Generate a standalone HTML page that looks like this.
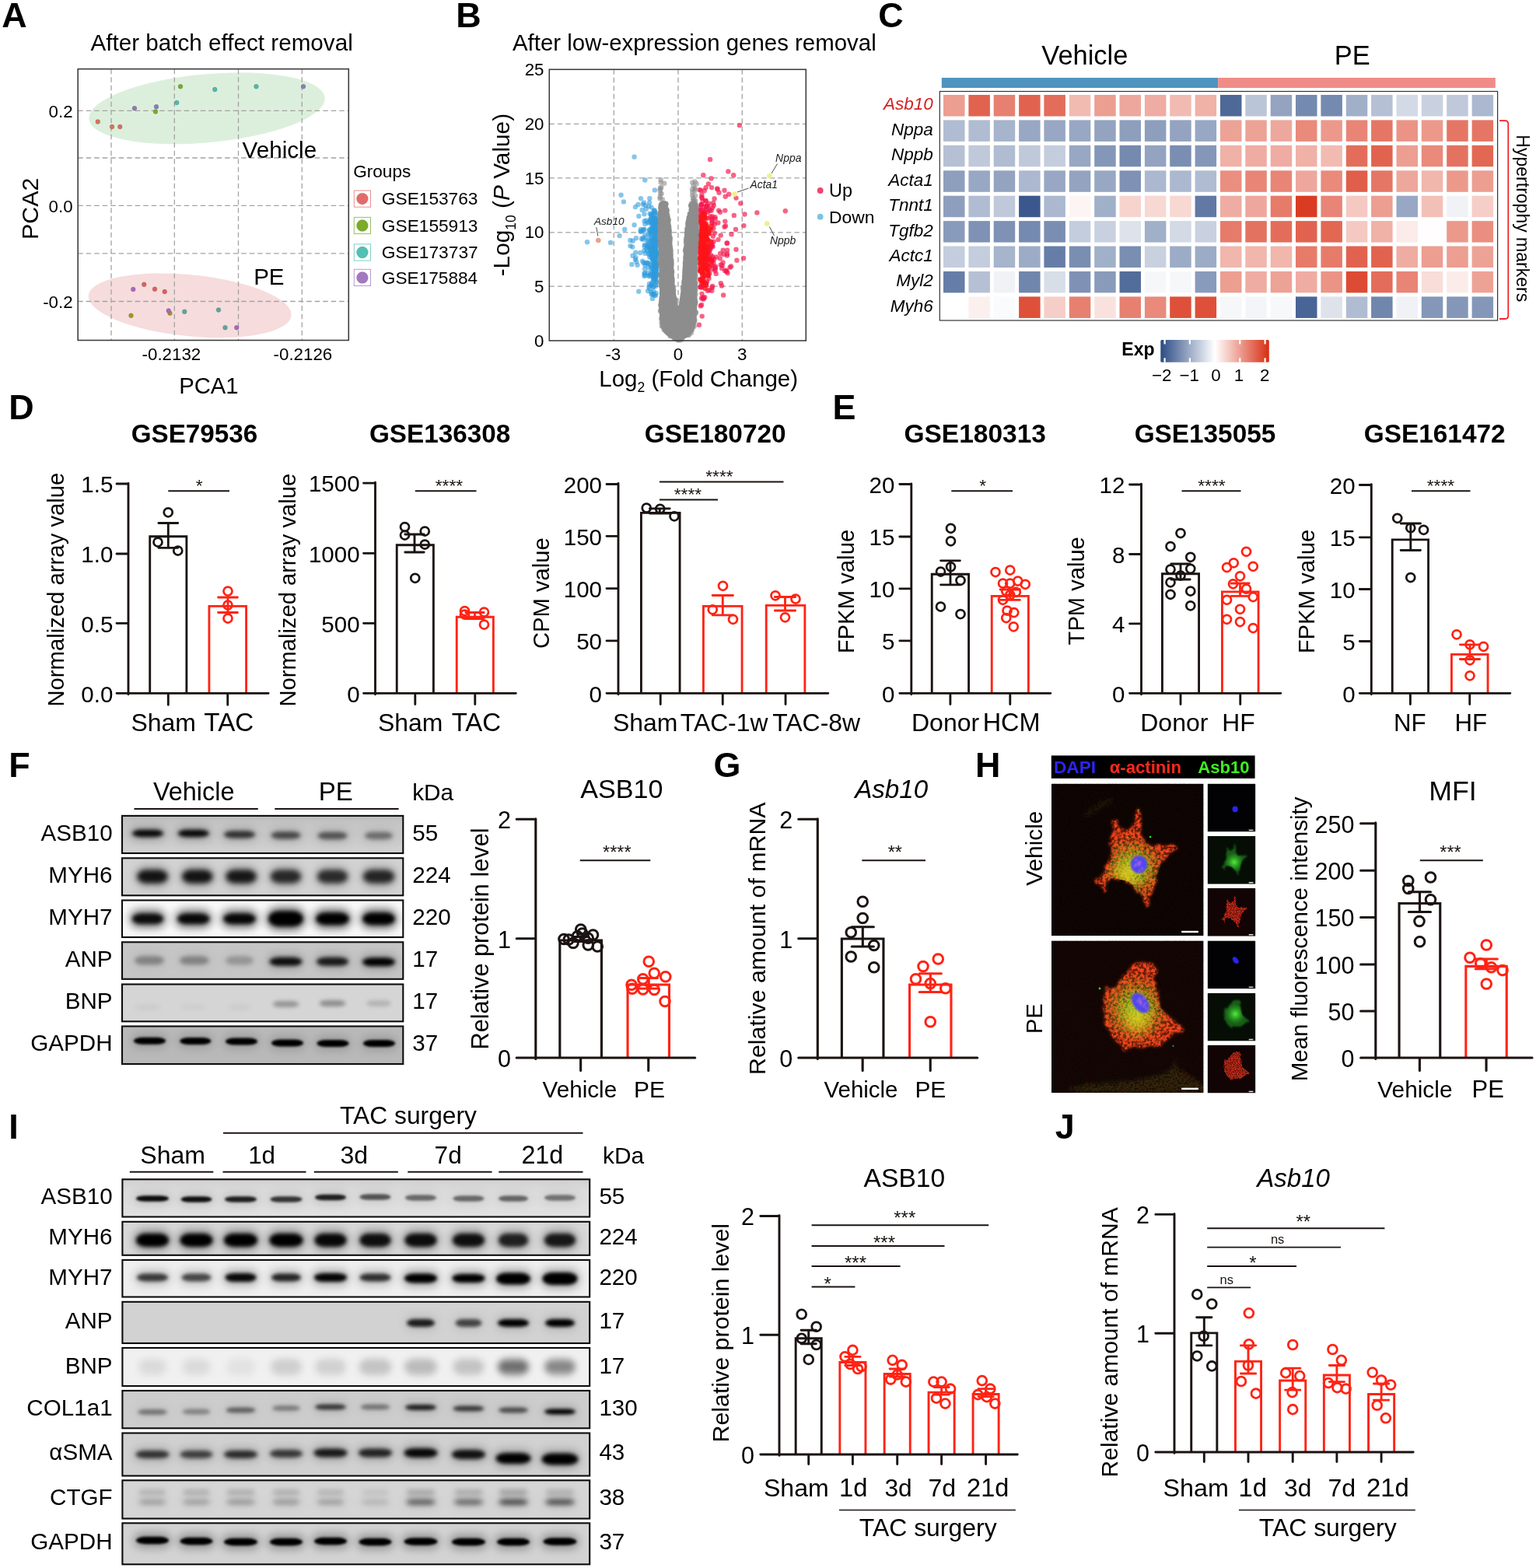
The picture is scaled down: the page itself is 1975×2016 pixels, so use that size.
<!DOCTYPE html>
<html lang="en"><head><meta charset="utf-8"><title>Figure 1 - ASB10 expression in cardiac hypertrophy</title>
<style>html,body{margin:0;padding:0;background:#fff}body{width:1975px;height:2016px;overflow:hidden}svg{display:block}text{font-family:'Liberation Sans', Arial, Helvetica, sans-serif}</style></head><body>
<svg width="1975" height="2016" viewBox="0 0 1975 2016" fill="#000" role="img" aria-label="Figure 1">
<rect width="1975" height="2016" fill="#fff"/>
<g>
<ellipse cx="266" cy="139.3" rx="152.3" ry="44" fill="#dcefdc" transform="rotate(-5.2 266 139.3)"/>
<ellipse cx="244.2" cy="392.8" rx="131" ry="39.5" fill="#f6dcdc" transform="rotate(5.7 244.2 392.8)"/>
<path d="M143 88.7V437.5M224.3 88.7V437.5M306.5 88.7V437.5M388.3 88.7V437.5M100.2 142.3H448.3M100.2 203H448.3M100.2 264.3H448.3M100.2 325.8H448.3M100.2 387.5H448.3" stroke="#a3a3a3" stroke-width="1.3" stroke-dasharray="6.5 4" fill="none"/>
<circle cx="125.75" cy="156.5" r="2.9" fill="#d4735e" stroke="rgba(60,60,60,.35)" stroke-width="0.5"/>
<circle cx="144" cy="163" r="2.9" fill="#d4735e" stroke="rgba(60,60,60,.35)" stroke-width="0.5"/>
<circle cx="154.25" cy="163" r="2.9" fill="#d4735e" stroke="rgba(60,60,60,.35)" stroke-width="0.5"/>
<circle cx="173" cy="139.25" r="2.9" fill="#8c7db3" stroke="rgba(60,60,60,.35)" stroke-width="0.5"/>
<circle cx="201" cy="137.25" r="2.9" fill="#8c7db3" stroke="rgba(60,60,60,.35)" stroke-width="0.5"/>
<circle cx="200" cy="143.5" r="2.9" fill="#76ac2f" stroke="rgba(60,60,60,.35)" stroke-width="0.5"/>
<circle cx="227.25" cy="132" r="2.9" fill="#4cbcae" stroke="rgba(60,60,60,.35)" stroke-width="0.5"/>
<circle cx="232" cy="111.25" r="2.9" fill="#76ac2f" stroke="rgba(60,60,60,.35)" stroke-width="0.5"/>
<circle cx="276.25" cy="115" r="2.9" fill="#4cbcae" stroke="rgba(60,60,60,.35)" stroke-width="0.5"/>
<circle cx="329.5" cy="111.25" r="2.9" fill="#4cbcae" stroke="rgba(60,60,60,.35)" stroke-width="0.5"/>
<circle cx="390" cy="111.25" r="2.9" fill="#8c7db3" stroke="rgba(60,60,60,.35)" stroke-width="0.5"/>
<circle cx="171.25" cy="372" r="2.9" fill="#a868bb" stroke="rgba(60,60,60,.35)" stroke-width="0.5"/>
<circle cx="185.25" cy="365.75" r="2.9" fill="#e25c5c" stroke="rgba(60,60,60,.35)" stroke-width="0.5"/>
<circle cx="199" cy="371.75" r="2.9" fill="#e25c5c" stroke="rgba(60,60,60,.35)" stroke-width="0.5"/>
<circle cx="211.75" cy="375" r="2.9" fill="#e25c5c" stroke="rgba(60,60,60,.35)" stroke-width="0.5"/>
<circle cx="168.5" cy="405.75" r="2.9" fill="#9a9a2a" stroke="rgba(60,60,60,.35)" stroke-width="0.5"/>
<circle cx="218.5" cy="402.75" r="2.9" fill="#9a9a2a" stroke="rgba(60,60,60,.35)" stroke-width="0.5"/>
<circle cx="216.75" cy="399.5" r="2.9" fill="#a868bb" stroke="rgba(60,60,60,.35)" stroke-width="0.5"/>
<circle cx="237.25" cy="400.75" r="2.9" fill="#5fa59c" stroke="rgba(60,60,60,.35)" stroke-width="0.5"/>
<circle cx="281" cy="398.5" r="2.9" fill="#5fa59c" stroke="rgba(60,60,60,.35)" stroke-width="0.5"/>
<circle cx="289.5" cy="421.25" r="2.9" fill="#5fa59c" stroke="rgba(60,60,60,.35)" stroke-width="0.5"/>
<circle cx="304.25" cy="421.25" r="2.9" fill="#a868bb" stroke="rgba(60,60,60,.35)" stroke-width="0.5"/>
<rect x="100.2" y="88.7" width="348.1" height="348.8" fill="none" stroke="#3a3a3a" stroke-width="1.55"/>
</g>
<text x="116.4" y="65.4" font-size="29.66">After batch effect removal</text>
<text x="311.5" y="203" font-size="29.68">Vehicle</text>
<text x="326.14" y="365.5" font-size="29.54">PE</text>
<text x="230.16" y="506.3" font-size="29.28">PCA1</text>
<text font-size="30.37" transform="translate(48.7 307.93) rotate(-90)">PCA2</text>
<text x="93.6" y="150.9" font-size="22.3" text-anchor="end">0.2</text>
<text x="93.6" y="272.9" font-size="22.3" text-anchor="end">0.0</text>
<text x="93.6" y="396.1" font-size="22.3" text-anchor="end">-0.2</text>
<text x="220.4" y="462.6" font-size="22.3" text-anchor="middle">-0.2132</text>
<text x="389.4" y="462.6" font-size="22.3" text-anchor="middle">-0.2126</text>
<text x="454.17" y="228.2" font-size="22.6">Groups</text>
<rect x="455.3" y="245" width="21.2" height="21.2" fill="#fff" stroke="#e46a6a" stroke-width="1" stroke-opacity=".75"/>
<circle cx="465.9" cy="255.6" r="7.4" fill="#e46a6a" stroke="rgba(60,60,60,.3)" stroke-width="0.5"/>
<text x="490.87" y="263.3" font-size="22.7">GSE153763</text>
<rect x="455.3" y="279.4" width="21.2" height="21.2" fill="#fff" stroke="#7bab2a" stroke-width="1" stroke-opacity=".75"/>
<circle cx="465.9" cy="290" r="7.4" fill="#7bab2a" stroke="rgba(60,60,60,.3)" stroke-width="0.5"/>
<text x="490.87" y="297.7" font-size="22.7">GSE155913</text>
<rect x="455.3" y="313.9" width="21.2" height="21.2" fill="#fff" stroke="#52c1b5" stroke-width="1" stroke-opacity=".75"/>
<circle cx="465.9" cy="324.5" r="7.4" fill="#52c1b5" stroke="rgba(60,60,60,.3)" stroke-width="0.5"/>
<text x="490.86" y="332.2" font-size="22.72">GSE173737</text>
<rect x="455.3" y="346.3" width="21.2" height="21.2" fill="#fff" stroke="#a378c0" stroke-width="1" stroke-opacity=".75"/>
<circle cx="465.9" cy="356.9" r="7.4" fill="#a378c0" stroke="rgba(60,60,60,.3)" stroke-width="0.5"/>
<text x="490.87" y="364.6" font-size="22.63">GSE175884</text>
<g>
<path d="M789.3 89.3V438M872 89.3V438M954.3 89.3V438M706.3 159.3H1036.3M706.3 228.8H1036.3M706.3 298.8H1036.3M706.3 368.2H1036.3" stroke="#a3a3a3" stroke-width="1.3" stroke-dasharray="6.5 4" fill="none"/>
<g fill="#2f9bdc" fill-opacity=".58">
<circle cx="840.7" cy="352.9" r="3.2"/>
<circle cx="835.0" cy="364.9" r="3.2"/>
<circle cx="837.5" cy="331.1" r="3.2"/>
<circle cx="843.5" cy="320.3" r="3.2"/>
<circle cx="843.7" cy="325.7" r="3.2"/>
<circle cx="843.4" cy="361.7" r="3.2"/>
<circle cx="839.3" cy="292.7" r="3.2"/>
<circle cx="842.9" cy="344.4" r="3.2"/>
<circle cx="835.6" cy="274.6" r="3.2"/>
<circle cx="836.7" cy="328.6" r="3.2"/>
<circle cx="827.3" cy="337.8" r="3.2"/>
<circle cx="842.7" cy="357.4" r="3.2"/>
<circle cx="840.9" cy="293.9" r="3.2"/>
<circle cx="842.3" cy="315.0" r="3.2"/>
<circle cx="835.3" cy="330.6" r="3.2"/>
<circle cx="837.3" cy="366.8" r="3.2"/>
<circle cx="843.5" cy="346.3" r="3.2"/>
<circle cx="834.3" cy="326.2" r="3.2"/>
<circle cx="840.8" cy="314.7" r="3.2"/>
<circle cx="838.9" cy="336.9" r="3.2"/>
<circle cx="830.5" cy="305.5" r="3.2"/>
<circle cx="841.7" cy="315.5" r="3.2"/>
<circle cx="837.7" cy="286.6" r="3.2"/>
<circle cx="832.9" cy="338.0" r="3.2"/>
<circle cx="839.4" cy="300.1" r="3.2"/>
<circle cx="842.6" cy="321.6" r="3.2"/>
<circle cx="843.7" cy="308.1" r="3.2"/>
<circle cx="831.7" cy="315.6" r="3.2"/>
<circle cx="826.2" cy="335.6" r="3.2"/>
<circle cx="833.9" cy="314.0" r="3.2"/>
<circle cx="836.6" cy="324.0" r="3.2"/>
<circle cx="828.4" cy="275.2" r="3.2"/>
<circle cx="838.5" cy="308.5" r="3.2"/>
<circle cx="843.5" cy="305.3" r="3.2"/>
<circle cx="835.1" cy="260.5" r="3.2"/>
<circle cx="829.3" cy="338.3" r="3.2"/>
<circle cx="839.9" cy="308.1" r="3.2"/>
<circle cx="843.9" cy="323.6" r="3.2"/>
<circle cx="842.5" cy="357.5" r="3.2"/>
<circle cx="843.5" cy="299.0" r="3.2"/>
<circle cx="842.9" cy="341.9" r="3.2"/>
<circle cx="839.8" cy="287.1" r="3.2"/>
<circle cx="843.3" cy="324.5" r="3.2"/>
<circle cx="837.2" cy="285.5" r="3.2"/>
<circle cx="829.4" cy="288.1" r="3.2"/>
<circle cx="841.3" cy="327.1" r="3.2"/>
<circle cx="840.2" cy="285.4" r="3.2"/>
<circle cx="842.4" cy="343.5" r="3.2"/>
<circle cx="841.8" cy="321.9" r="3.2"/>
<circle cx="836.4" cy="340.4" r="3.2"/>
<circle cx="844.0" cy="326.9" r="3.2"/>
<circle cx="840.1" cy="316.1" r="3.2"/>
<circle cx="817.9" cy="306.2" r="3.2"/>
<circle cx="837.8" cy="312.2" r="3.2"/>
<circle cx="834.4" cy="368.6" r="3.2"/>
<circle cx="824.4" cy="297.8" r="3.2"/>
<circle cx="826.3" cy="295.9" r="3.2"/>
<circle cx="839.8" cy="328.4" r="3.2"/>
<circle cx="843.1" cy="310.9" r="3.2"/>
<circle cx="843.5" cy="365.9" r="3.2"/>
<circle cx="842.0" cy="351.4" r="3.2"/>
<circle cx="840.5" cy="368.9" r="3.2"/>
<circle cx="844.1" cy="352.8" r="3.2"/>
<circle cx="843.1" cy="331.3" r="3.2"/>
<circle cx="843.8" cy="286.7" r="3.2"/>
<circle cx="835.9" cy="353.2" r="3.2"/>
<circle cx="841.6" cy="332.7" r="3.2"/>
<circle cx="840.2" cy="356.7" r="3.2"/>
<circle cx="827.9" cy="260.5" r="3.2"/>
<circle cx="838.7" cy="322.0" r="3.2"/>
<circle cx="843.3" cy="359.8" r="3.2"/>
<circle cx="840.5" cy="340.2" r="3.2"/>
<circle cx="828.9" cy="351.5" r="3.2"/>
<circle cx="843.9" cy="273.9" r="3.2"/>
<circle cx="837.6" cy="353.4" r="3.2"/>
<circle cx="837.3" cy="375.4" r="3.2"/>
<circle cx="837.6" cy="266.6" r="3.2"/>
<circle cx="827.0" cy="305.7" r="3.2"/>
<circle cx="841.5" cy="331.0" r="3.2"/>
<circle cx="842.5" cy="298.6" r="3.2"/>
<circle cx="837.5" cy="297.9" r="3.2"/>
<circle cx="840.6" cy="344.5" r="3.2"/>
<circle cx="829.8" cy="264.3" r="3.2"/>
<circle cx="827.7" cy="295.0" r="3.2"/>
<circle cx="829.4" cy="301.8" r="3.2"/>
<circle cx="841.9" cy="319.6" r="3.2"/>
<circle cx="840.3" cy="374.8" r="3.2"/>
<circle cx="843.8" cy="338.8" r="3.2"/>
<circle cx="841.5" cy="306.1" r="3.2"/>
<circle cx="817.2" cy="324.7" r="3.2"/>
<circle cx="820.4" cy="263.0" r="3.2"/>
<circle cx="817.5" cy="331.2" r="3.2"/>
<circle cx="841.9" cy="344.1" r="3.2"/>
<circle cx="842.2" cy="346.5" r="3.2"/>
<circle cx="835.7" cy="283.0" r="3.2"/>
<circle cx="828.3" cy="322.3" r="3.2"/>
<circle cx="835.0" cy="295.7" r="3.2"/>
<circle cx="843.3" cy="308.8" r="3.2"/>
<circle cx="823.5" cy="297.6" r="3.2"/>
<circle cx="832.2" cy="322.4" r="3.2"/>
<circle cx="842.4" cy="296.8" r="3.2"/>
<circle cx="840.6" cy="295.6" r="3.2"/>
<circle cx="813.5" cy="328.7" r="3.2"/>
<circle cx="839.7" cy="274.8" r="3.2"/>
<circle cx="833.0" cy="350.5" r="3.2"/>
<circle cx="842.9" cy="352.9" r="3.2"/>
<circle cx="823.9" cy="295.0" r="3.2"/>
<circle cx="842.7" cy="292.7" r="3.2"/>
<circle cx="810.4" cy="309.0" r="3.2"/>
<circle cx="840.4" cy="317.4" r="3.2"/>
<circle cx="842.8" cy="380.0" r="3.2"/>
<circle cx="813.8" cy="309.7" r="3.2"/>
<circle cx="837.6" cy="277.4" r="3.2"/>
<circle cx="839.2" cy="287.1" r="3.2"/>
<circle cx="829.1" cy="345.8" r="3.2"/>
<circle cx="841.6" cy="337.5" r="3.2"/>
<circle cx="841.7" cy="314.6" r="3.2"/>
<circle cx="841.5" cy="326.8" r="3.2"/>
<circle cx="842.8" cy="281.5" r="3.2"/>
<circle cx="840.3" cy="323.9" r="3.2"/>
<circle cx="836.6" cy="282.4" r="3.2"/>
<circle cx="839.4" cy="280.2" r="3.2"/>
<circle cx="838.1" cy="318.6" r="3.2"/>
<circle cx="837.7" cy="378.2" r="3.2"/>
<circle cx="839.1" cy="348.9" r="3.2"/>
<circle cx="844.0" cy="295.8" r="3.2"/>
<circle cx="842.4" cy="322.7" r="3.2"/>
<circle cx="833.0" cy="316.8" r="3.2"/>
<circle cx="840.7" cy="319.5" r="3.2"/>
<circle cx="837.1" cy="297.4" r="3.2"/>
<circle cx="843.1" cy="316.6" r="3.2"/>
<circle cx="841.6" cy="339.0" r="3.2"/>
<circle cx="831.4" cy="320.3" r="3.2"/>
<circle cx="837.0" cy="299.8" r="3.2"/>
<circle cx="823.2" cy="325.0" r="3.2"/>
<circle cx="835.9" cy="320.4" r="3.2"/>
<circle cx="837.9" cy="306.0" r="3.2"/>
<circle cx="838.9" cy="318.5" r="3.2"/>
<circle cx="838.5" cy="275.8" r="3.2"/>
<circle cx="833.8" cy="286.4" r="3.2"/>
<circle cx="819.6" cy="340.7" r="3.2"/>
<circle cx="837.0" cy="275.5" r="3.2"/>
<circle cx="828.4" cy="354.7" r="3.2"/>
<circle cx="842.9" cy="325.1" r="3.2"/>
<circle cx="843.4" cy="342.6" r="3.2"/>
<circle cx="843.4" cy="308.0" r="3.2"/>
<circle cx="830.9" cy="283.5" r="3.2"/>
<circle cx="842.6" cy="304.0" r="3.2"/>
<circle cx="834.8" cy="353.9" r="3.2"/>
<circle cx="825.7" cy="269.9" r="3.2"/>
<circle cx="841.9" cy="273.5" r="3.2"/>
<circle cx="839.7" cy="321.7" r="3.2"/>
<circle cx="828.8" cy="351.5" r="3.2"/>
<circle cx="839.2" cy="319.7" r="3.2"/>
<circle cx="840.5" cy="347.5" r="3.2"/>
<circle cx="840.8" cy="303.4" r="3.2"/>
<circle cx="843.9" cy="317.0" r="3.2"/>
<circle cx="839.1" cy="378.4" r="3.2"/>
<circle cx="840.6" cy="311.7" r="3.2"/>
<circle cx="837.9" cy="366.5" r="3.2"/>
<circle cx="830.8" cy="268.7" r="3.2"/>
<circle cx="843.1" cy="340.1" r="3.2"/>
<circle cx="843.7" cy="297.9" r="3.2"/>
<circle cx="841.4" cy="355.8" r="3.2"/>
<circle cx="839.4" cy="281.2" r="3.2"/>
<circle cx="829.4" cy="340.8" r="3.2"/>
<circle cx="842.7" cy="279.9" r="3.2"/>
<circle cx="836.8" cy="305.4" r="3.2"/>
<circle cx="843.2" cy="367.8" r="3.2"/>
<circle cx="834.1" cy="326.4" r="3.2"/>
<circle cx="843.4" cy="276.5" r="3.2"/>
<circle cx="835.4" cy="295.5" r="3.2"/>
<circle cx="843.3" cy="289.1" r="3.2"/>
<circle cx="843.5" cy="288.3" r="3.2"/>
<circle cx="838.9" cy="333.4" r="3.2"/>
<circle cx="837.2" cy="278.6" r="3.2"/>
<circle cx="841.4" cy="355.8" r="3.2"/>
<circle cx="837.6" cy="342.8" r="3.2"/>
<circle cx="843.1" cy="351.5" r="3.2"/>
<circle cx="843.6" cy="346.8" r="3.2"/>
<circle cx="840.9" cy="336.4" r="3.2"/>
<circle cx="831.9" cy="337.8" r="3.2"/>
<circle cx="838.1" cy="349.5" r="3.2"/>
<circle cx="840.4" cy="378.4" r="3.2"/>
<circle cx="841.6" cy="379.5" r="3.2"/>
<circle cx="832.7" cy="317.2" r="3.2"/>
<circle cx="842.3" cy="322.7" r="3.2"/>
<circle cx="829.4" cy="325.8" r="3.2"/>
<circle cx="838.2" cy="291.8" r="3.2"/>
<circle cx="839.8" cy="320.4" r="3.2"/>
<circle cx="834.1" cy="265.3" r="3.2"/>
<circle cx="840.5" cy="292.0" r="3.2"/>
<circle cx="833.5" cy="310.8" r="3.2"/>
<circle cx="839.6" cy="332.7" r="3.2"/>
<circle cx="843.6" cy="355.7" r="3.2"/>
<circle cx="843.4" cy="301.7" r="3.2"/>
<circle cx="841.5" cy="351.3" r="3.2"/>
<circle cx="843.3" cy="291.0" r="3.2"/>
<circle cx="826.5" cy="307.9" r="3.2"/>
<circle cx="841.2" cy="342.5" r="3.2"/>
<circle cx="841.1" cy="323.8" r="3.2"/>
<circle cx="842.6" cy="324.8" r="3.2"/>
<circle cx="841.4" cy="271.4" r="3.2"/>
<circle cx="813.2" cy="317.5" r="3.2"/>
<circle cx="841.7" cy="270.4" r="3.2"/>
<circle cx="840.9" cy="331.9" r="3.2"/>
<circle cx="844.0" cy="329.8" r="3.2"/>
<circle cx="838.5" cy="320.6" r="3.2"/>
<circle cx="842.1" cy="320.5" r="3.2"/>
<circle cx="844.0" cy="340.3" r="3.2"/>
<circle cx="843.2" cy="328.4" r="3.2"/>
<circle cx="843.7" cy="376.9" r="3.2"/>
<circle cx="840.9" cy="343.4" r="3.2"/>
<circle cx="836.5" cy="318.8" r="3.2"/>
<circle cx="832.2" cy="309.0" r="3.2"/>
<circle cx="833.3" cy="286.1" r="3.2"/>
<circle cx="839.8" cy="334.5" r="3.2"/>
<circle cx="842.7" cy="303.2" r="3.2"/>
<circle cx="835.2" cy="370.9" r="3.2"/>
<circle cx="828.6" cy="284.2" r="3.2"/>
<circle cx="835.6" cy="302.3" r="3.2"/>
<circle cx="829.7" cy="354.4" r="3.2"/>
<circle cx="837.7" cy="320.5" r="3.2"/>
<circle cx="828.6" cy="295.2" r="3.2"/>
<circle cx="829.1" cy="314.8" r="3.2"/>
<circle cx="824.9" cy="306.9" r="3.2"/>
<circle cx="833.9" cy="343.7" r="3.2"/>
<circle cx="843.8" cy="355.3" r="3.2"/>
<circle cx="840.2" cy="359.4" r="3.2"/>
<circle cx="828.6" cy="316.7" r="3.2"/>
<circle cx="840.3" cy="314.6" r="3.2"/>
<circle cx="840.2" cy="327.0" r="3.2"/>
<circle cx="836.8" cy="309.4" r="3.2"/>
<circle cx="844.4" cy="326.2" r="3.2"/>
<circle cx="838.3" cy="363.7" r="3.2"/>
<circle cx="843.2" cy="310.3" r="3.2"/>
<circle cx="844.6" cy="342.3" r="3.2"/>
<circle cx="842.9" cy="310.9" r="3.2"/>
<circle cx="842.6" cy="280.7" r="3.2"/>
<circle cx="837.7" cy="326.8" r="3.2"/>
<circle cx="840.9" cy="314.4" r="3.2"/>
<circle cx="841.2" cy="307.8" r="3.2"/>
<circle cx="839.9" cy="361.9" r="3.2"/>
<circle cx="840.4" cy="353.2" r="3.2"/>
<circle cx="844.4" cy="339.3" r="3.2"/>
<circle cx="837.4" cy="322.3" r="3.2"/>
<circle cx="843.1" cy="342.0" r="3.2"/>
<circle cx="844.5" cy="315.3" r="3.2"/>
<circle cx="842.3" cy="340.3" r="3.2"/>
<circle cx="838.5" cy="325.4" r="3.2"/>
<circle cx="839.8" cy="356.5" r="3.2"/>
<circle cx="843.5" cy="294.8" r="3.2"/>
<circle cx="840.8" cy="288.7" r="3.2"/>
<circle cx="833.1" cy="374.0" r="3.2"/>
<circle cx="836.8" cy="282.6" r="3.2"/>
<circle cx="842.5" cy="329.4" r="3.2"/>
<circle cx="844.2" cy="287.1" r="3.2"/>
<circle cx="841.6" cy="347.0" r="3.2"/>
<circle cx="842.5" cy="325.0" r="3.2"/>
<circle cx="843.4" cy="285.8" r="3.2"/>
<circle cx="839.1" cy="325.9" r="3.2"/>
<circle cx="838.6" cy="295.7" r="3.2"/>
<circle cx="843.7" cy="294.3" r="3.2"/>
<circle cx="841.6" cy="327.2" r="3.2"/>
<circle cx="844.2" cy="326.9" r="3.2"/>
<circle cx="844.5" cy="329.4" r="3.2"/>
<circle cx="843.8" cy="336.4" r="3.2"/>
<circle cx="842.3" cy="338.4" r="3.2"/>
<circle cx="844.5" cy="309.2" r="3.2"/>
<circle cx="844.4" cy="301.0" r="3.2"/>
<circle cx="837.3" cy="312.2" r="3.2"/>
<circle cx="837.7" cy="293.8" r="3.2"/>
<circle cx="843.6" cy="333.1" r="3.2"/>
<circle cx="840.5" cy="270.7" r="3.2"/>
<circle cx="841.1" cy="330.8" r="3.2"/>
<circle cx="842.4" cy="341.5" r="3.2"/>
<circle cx="842.7" cy="301.5" r="3.2"/>
<circle cx="844.0" cy="340.7" r="3.2"/>
<circle cx="841.5" cy="342.3" r="3.2"/>
<circle cx="843.3" cy="325.8" r="3.2"/>
<circle cx="843.0" cy="285.2" r="3.2"/>
<circle cx="840.7" cy="296.0" r="3.2"/>
<circle cx="842.3" cy="292.2" r="3.2"/>
<circle cx="838.9" cy="288.0" r="3.2"/>
<circle cx="837.9" cy="366.6" r="3.2"/>
<circle cx="842.5" cy="310.7" r="3.2"/>
<circle cx="837.6" cy="317.2" r="3.2"/>
<circle cx="842.4" cy="340.7" r="3.2"/>
<circle cx="835.0" cy="355.4" r="3.2"/>
<circle cx="841.6" cy="328.1" r="3.2"/>
<circle cx="842.6" cy="310.1" r="3.2"/>
<circle cx="841.5" cy="280.6" r="3.2"/>
<circle cx="844.2" cy="339.5" r="3.2"/>
<circle cx="838.2" cy="322.9" r="3.2"/>
<circle cx="842.5" cy="351.7" r="3.2"/>
<circle cx="843.0" cy="347.2" r="3.2"/>
<circle cx="840.3" cy="346.1" r="3.2"/>
<circle cx="841.7" cy="293.2" r="3.2"/>
<circle cx="839.8" cy="354.0" r="3.2"/>
<circle cx="844.5" cy="348.6" r="3.2"/>
<circle cx="841.2" cy="360.0" r="3.2"/>
<circle cx="842.4" cy="344.5" r="3.2"/>
<circle cx="844.3" cy="295.6" r="3.2"/>
<circle cx="838.9" cy="309.3" r="3.2"/>
<circle cx="840.7" cy="325.0" r="3.2"/>
<circle cx="842.2" cy="334.1" r="3.2"/>
<circle cx="843.8" cy="341.3" r="3.2"/>
<circle cx="843.3" cy="282.7" r="3.2"/>
<circle cx="841.0" cy="318.2" r="3.2"/>
<circle cx="840.9" cy="298.5" r="3.2"/>
<circle cx="843.9" cy="343.7" r="3.2"/>
<circle cx="841.2" cy="332.6" r="3.2"/>
<circle cx="834.3" cy="300.0" r="3.2"/>
<circle cx="841.0" cy="297.4" r="3.2"/>
<circle cx="843.5" cy="312.5" r="3.2"/>
<circle cx="844.4" cy="294.6" r="3.2"/>
<circle cx="838.9" cy="383.9" r="3.2"/>
<circle cx="843.6" cy="333.1" r="3.2"/>
<circle cx="837.3" cy="299.3" r="3.2"/>
<circle cx="841.0" cy="281.6" r="3.2"/>
<circle cx="844.6" cy="352.4" r="3.2"/>
<circle cx="842.5" cy="325.1" r="3.2"/>
<circle cx="840.3" cy="311.5" r="3.2"/>
<circle cx="835.1" cy="317.0" r="3.2"/>
<circle cx="844.1" cy="323.3" r="3.2"/>
<circle cx="839.8" cy="368.5" r="3.2"/>
<circle cx="844.0" cy="291.3" r="3.2"/>
<circle cx="841.5" cy="317.1" r="3.2"/>
<circle cx="843.8" cy="343.4" r="3.2"/>
<circle cx="842.4" cy="317.8" r="3.2"/>
<circle cx="843.9" cy="363.0" r="3.2"/>
<circle cx="842.6" cy="325.0" r="3.2"/>
<circle cx="840.8" cy="345.8" r="3.2"/>
<circle cx="842.4" cy="320.1" r="3.2"/>
<circle cx="840.9" cy="328.8" r="3.2"/>
<circle cx="844.4" cy="284.6" r="3.2"/>
<circle cx="839.0" cy="327.9" r="3.2"/>
<circle cx="837.4" cy="344.8" r="3.2"/>
<circle cx="844.4" cy="312.8" r="3.2"/>
<circle cx="833.5" cy="339.1" r="3.2"/>
<circle cx="755.0" cy="311.3" r="3.2"/>
<circle cx="785.1" cy="311.9" r="3.2"/>
<circle cx="796.6" cy="303.1" r="3.2"/>
<circle cx="803.2" cy="294.9" r="3.2"/>
<circle cx="810.4" cy="316.1" r="3.2"/>
<circle cx="798.6" cy="250.7" r="3.2"/>
<circle cx="801.9" cy="259.4" r="3.2"/>
<circle cx="815.6" cy="201.8" r="3.2"/>
<circle cx="829.3" cy="231.5" r="3.2"/>
<circle cx="841.9" cy="244.4" r="3.2"/>
<circle cx="824.0" cy="255.1" r="3.2"/>
<circle cx="816.9" cy="266.1" r="3.2"/>
<circle cx="821.3" cy="277.9" r="3.2"/>
<circle cx="815.6" cy="289.2" r="3.2"/>
<circle cx="812.3" cy="339.9" r="3.2"/>
<circle cx="816.9" cy="333.7" r="3.2"/>
<circle cx="818.3" cy="336.6" r="3.2"/>
<circle cx="821.3" cy="374.8" r="3.2"/>
<circle cx="826.8" cy="262.8" r="3.2"/>
<circle cx="835.3" cy="255.1" r="3.2"/>
</g>
<g fill="#f4184c" fill-opacity=".68">
<circle cx="900.2" cy="312.6" r="3.2"/>
<circle cx="912.8" cy="318.9" r="3.2"/>
<circle cx="903.3" cy="298.3" r="3.2"/>
<circle cx="929.5" cy="337.5" r="3.2"/>
<circle cx="900.3" cy="326.1" r="3.2"/>
<circle cx="906.2" cy="296.9" r="3.2"/>
<circle cx="902.5" cy="284.6" r="3.2"/>
<circle cx="915.3" cy="312.1" r="3.2"/>
<circle cx="902.6" cy="254.6" r="3.2"/>
<circle cx="904.2" cy="281.8" r="3.2"/>
<circle cx="902.9" cy="338.1" r="3.2"/>
<circle cx="916.3" cy="330.2" r="3.2"/>
<circle cx="934.6" cy="312.8" r="3.2"/>
<circle cx="902.3" cy="337.9" r="3.2"/>
<circle cx="906.1" cy="298.5" r="3.2"/>
<circle cx="933.9" cy="347.7" r="3.2"/>
<circle cx="905.7" cy="339.1" r="3.2"/>
<circle cx="901.7" cy="364.5" r="3.2"/>
<circle cx="900.7" cy="321.1" r="3.2"/>
<circle cx="926.0" cy="272.7" r="3.2"/>
<circle cx="915.0" cy="241.1" r="3.2"/>
<circle cx="930.6" cy="326.9" r="3.2"/>
<circle cx="902.3" cy="263.2" r="3.2"/>
<circle cx="915.6" cy="369.8" r="3.2"/>
<circle cx="912.4" cy="322.4" r="3.2"/>
<circle cx="905.3" cy="326.7" r="3.2"/>
<circle cx="902.1" cy="383.4" r="3.2"/>
<circle cx="903.7" cy="324.8" r="3.2"/>
<circle cx="935.5" cy="351.0" r="3.2"/>
<circle cx="902.6" cy="324.4" r="3.2"/>
<circle cx="919.6" cy="281.5" r="3.2"/>
<circle cx="906.4" cy="365.1" r="3.2"/>
<circle cx="907.3" cy="322.9" r="3.2"/>
<circle cx="928.7" cy="341.5" r="3.2"/>
<circle cx="905.1" cy="270.5" r="3.2"/>
<circle cx="900.3" cy="319.6" r="3.2"/>
<circle cx="919.0" cy="288.1" r="3.2"/>
<circle cx="900.4" cy="368.9" r="3.2"/>
<circle cx="900.7" cy="266.4" r="3.2"/>
<circle cx="903.3" cy="290.3" r="3.2"/>
<circle cx="926.1" cy="326.0" r="3.2"/>
<circle cx="903.6" cy="258.0" r="3.2"/>
<circle cx="910.9" cy="333.6" r="3.2"/>
<circle cx="914.3" cy="328.1" r="3.2"/>
<circle cx="903.6" cy="382.5" r="3.2"/>
<circle cx="916.0" cy="267.1" r="3.2"/>
<circle cx="911.4" cy="261.6" r="3.2"/>
<circle cx="900.2" cy="336.7" r="3.2"/>
<circle cx="907.3" cy="258.3" r="3.2"/>
<circle cx="935.1" cy="321.7" r="3.2"/>
<circle cx="903.2" cy="318.0" r="3.2"/>
<circle cx="907.7" cy="264.8" r="3.2"/>
<circle cx="902.3" cy="283.9" r="3.2"/>
<circle cx="915.3" cy="281.4" r="3.2"/>
<circle cx="916.9" cy="303.7" r="3.2"/>
<circle cx="904.5" cy="327.8" r="3.2"/>
<circle cx="905.1" cy="286.4" r="3.2"/>
<circle cx="900.9" cy="341.0" r="3.2"/>
<circle cx="915.9" cy="335.2" r="3.2"/>
<circle cx="900.7" cy="369.2" r="3.2"/>
<circle cx="909.1" cy="327.2" r="3.2"/>
<circle cx="924.5" cy="247.7" r="3.2"/>
<circle cx="903.5" cy="357.7" r="3.2"/>
<circle cx="901.1" cy="312.6" r="3.2"/>
<circle cx="914.1" cy="316.6" r="3.2"/>
<circle cx="903.0" cy="319.1" r="3.2"/>
<circle cx="911.0" cy="297.7" r="3.2"/>
<circle cx="915.7" cy="278.2" r="3.2"/>
<circle cx="912.4" cy="351.4" r="3.2"/>
<circle cx="920.9" cy="330.4" r="3.2"/>
<circle cx="909.5" cy="322.9" r="3.2"/>
<circle cx="915.2" cy="340.7" r="3.2"/>
<circle cx="903.2" cy="335.4" r="3.2"/>
<circle cx="901.8" cy="272.7" r="3.2"/>
<circle cx="909.8" cy="327.2" r="3.2"/>
<circle cx="905.7" cy="245.2" r="3.2"/>
<circle cx="908.0" cy="337.0" r="3.2"/>
<circle cx="918.8" cy="299.6" r="3.2"/>
<circle cx="901.2" cy="314.4" r="3.2"/>
<circle cx="919.5" cy="279.1" r="3.2"/>
<circle cx="928.0" cy="367.4" r="3.2"/>
<circle cx="903.9" cy="351.7" r="3.2"/>
<circle cx="902.3" cy="253.6" r="3.2"/>
<circle cx="909.9" cy="264.4" r="3.2"/>
<circle cx="905.3" cy="275.4" r="3.2"/>
<circle cx="906.8" cy="333.9" r="3.2"/>
<circle cx="917.1" cy="261.0" r="3.2"/>
<circle cx="901.2" cy="304.7" r="3.2"/>
<circle cx="911.0" cy="338.6" r="3.2"/>
<circle cx="905.2" cy="348.4" r="3.2"/>
<circle cx="902.6" cy="334.4" r="3.2"/>
<circle cx="910.4" cy="299.8" r="3.2"/>
<circle cx="902.5" cy="377.6" r="3.2"/>
<circle cx="904.5" cy="297.3" r="3.2"/>
<circle cx="902.3" cy="328.5" r="3.2"/>
<circle cx="902.5" cy="284.8" r="3.2"/>
<circle cx="909.0" cy="361.9" r="3.2"/>
<circle cx="901.2" cy="321.0" r="3.2"/>
<circle cx="909.1" cy="300.9" r="3.2"/>
<circle cx="901.0" cy="345.3" r="3.2"/>
<circle cx="913.5" cy="319.7" r="3.2"/>
<circle cx="903.8" cy="329.0" r="3.2"/>
<circle cx="934.9" cy="328.5" r="3.2"/>
<circle cx="909.5" cy="324.3" r="3.2"/>
<circle cx="906.1" cy="275.7" r="3.2"/>
<circle cx="905.1" cy="341.0" r="3.2"/>
<circle cx="914.8" cy="340.2" r="3.2"/>
<circle cx="900.0" cy="269.8" r="3.2"/>
<circle cx="906.2" cy="281.7" r="3.2"/>
<circle cx="905.9" cy="272.9" r="3.2"/>
<circle cx="907.0" cy="345.4" r="3.2"/>
<circle cx="900.1" cy="308.4" r="3.2"/>
<circle cx="911.6" cy="268.3" r="3.2"/>
<circle cx="901.0" cy="302.4" r="3.2"/>
<circle cx="905.2" cy="312.1" r="3.2"/>
<circle cx="901.7" cy="331.4" r="3.2"/>
<circle cx="908.4" cy="265.3" r="3.2"/>
<circle cx="901.3" cy="313.2" r="3.2"/>
<circle cx="918.6" cy="255.5" r="3.2"/>
<circle cx="902.5" cy="350.6" r="3.2"/>
<circle cx="932.7" cy="252.7" r="3.2"/>
<circle cx="907.5" cy="364.1" r="3.2"/>
<circle cx="929.7" cy="321.6" r="3.2"/>
<circle cx="926.7" cy="302.6" r="3.2"/>
<circle cx="919.8" cy="345.7" r="3.2"/>
<circle cx="917.5" cy="338.0" r="3.2"/>
<circle cx="905.9" cy="278.3" r="3.2"/>
<circle cx="920.1" cy="342.8" r="3.2"/>
<circle cx="902.8" cy="320.6" r="3.2"/>
<circle cx="908.3" cy="322.0" r="3.2"/>
<circle cx="901.4" cy="335.2" r="3.2"/>
<circle cx="914.7" cy="270.5" r="3.2"/>
<circle cx="900.4" cy="307.5" r="3.2"/>
<circle cx="916.1" cy="368.0" r="3.2"/>
<circle cx="920.7" cy="351.9" r="3.2"/>
<circle cx="910.4" cy="308.5" r="3.2"/>
<circle cx="911.2" cy="329.1" r="3.2"/>
<circle cx="906.2" cy="305.8" r="3.2"/>
<circle cx="906.3" cy="299.1" r="3.2"/>
<circle cx="906.7" cy="317.3" r="3.2"/>
<circle cx="900.2" cy="302.7" r="3.2"/>
<circle cx="907.6" cy="336.5" r="3.2"/>
<circle cx="916.4" cy="286.6" r="3.2"/>
<circle cx="906.9" cy="343.2" r="3.2"/>
<circle cx="907.3" cy="353.7" r="3.2"/>
<circle cx="901.5" cy="318.0" r="3.2"/>
<circle cx="901.0" cy="317.0" r="3.2"/>
<circle cx="908.1" cy="367.3" r="3.2"/>
<circle cx="911.5" cy="358.1" r="3.2"/>
<circle cx="915.0" cy="286.9" r="3.2"/>
<circle cx="908.1" cy="363.9" r="3.2"/>
<circle cx="908.0" cy="322.5" r="3.2"/>
<circle cx="934.3" cy="349.1" r="3.2"/>
<circle cx="922.2" cy="242.5" r="3.2"/>
<circle cx="915.0" cy="282.4" r="3.2"/>
<circle cx="902.4" cy="250.4" r="3.2"/>
<circle cx="907.7" cy="258.3" r="3.2"/>
<circle cx="928.2" cy="345.1" r="3.2"/>
<circle cx="917.7" cy="264.3" r="3.2"/>
<circle cx="900.7" cy="324.9" r="3.2"/>
<circle cx="916.1" cy="345.9" r="3.2"/>
<circle cx="925.8" cy="332.3" r="3.2"/>
<circle cx="919.3" cy="348.1" r="3.2"/>
<circle cx="907.9" cy="266.4" r="3.2"/>
<circle cx="902.6" cy="333.5" r="3.2"/>
<circle cx="908.0" cy="327.9" r="3.2"/>
<circle cx="900.4" cy="342.9" r="3.2"/>
<circle cx="902.0" cy="263.1" r="3.2"/>
<circle cx="912.9" cy="270.8" r="3.2"/>
<circle cx="902.1" cy="286.1" r="3.2"/>
<circle cx="901.3" cy="310.1" r="3.2"/>
<circle cx="911.5" cy="324.1" r="3.2"/>
<circle cx="923.5" cy="308.1" r="3.2"/>
<circle cx="909.9" cy="272.9" r="3.2"/>
<circle cx="901.2" cy="244.8" r="3.2"/>
<circle cx="911.3" cy="321.0" r="3.2"/>
<circle cx="918.2" cy="333.3" r="3.2"/>
<circle cx="909.8" cy="324.0" r="3.2"/>
<circle cx="916.5" cy="317.0" r="3.2"/>
<circle cx="902.2" cy="290.7" r="3.2"/>
<circle cx="900.5" cy="281.8" r="3.2"/>
<circle cx="903.3" cy="300.9" r="3.2"/>
<circle cx="910.0" cy="298.6" r="3.2"/>
<circle cx="904.2" cy="384.6" r="3.2"/>
<circle cx="900.3" cy="347.2" r="3.2"/>
<circle cx="910.9" cy="317.8" r="3.2"/>
<circle cx="908.2" cy="270.8" r="3.2"/>
<circle cx="901.6" cy="337.4" r="3.2"/>
<circle cx="912.0" cy="373.0" r="3.2"/>
<circle cx="900.0" cy="324.5" r="3.2"/>
<circle cx="901.2" cy="324.3" r="3.2"/>
<circle cx="902.8" cy="305.7" r="3.2"/>
<circle cx="910.1" cy="340.1" r="3.2"/>
<circle cx="911.1" cy="314.4" r="3.2"/>
<circle cx="901.6" cy="263.0" r="3.2"/>
<circle cx="903.1" cy="347.2" r="3.2"/>
<circle cx="901.1" cy="301.0" r="3.2"/>
<circle cx="923.4" cy="286.4" r="3.2"/>
<circle cx="905.8" cy="333.4" r="3.2"/>
<circle cx="900.1" cy="300.4" r="3.2"/>
<circle cx="909.4" cy="325.0" r="3.2"/>
<circle cx="911.8" cy="316.9" r="3.2"/>
<circle cx="931.5" cy="291.7" r="3.2"/>
<circle cx="903.2" cy="269.4" r="3.2"/>
<circle cx="900.5" cy="310.0" r="3.2"/>
<circle cx="905.9" cy="336.3" r="3.2"/>
<circle cx="900.6" cy="286.7" r="3.2"/>
<circle cx="900.1" cy="308.4" r="3.2"/>
<circle cx="932.2" cy="348.2" r="3.2"/>
<circle cx="902.5" cy="303.7" r="3.2"/>
<circle cx="908.0" cy="300.7" r="3.2"/>
<circle cx="919.1" cy="343.8" r="3.2"/>
<circle cx="904.2" cy="329.7" r="3.2"/>
<circle cx="900.5" cy="271.8" r="3.2"/>
<circle cx="917.4" cy="293.6" r="3.2"/>
<circle cx="900.0" cy="278.5" r="3.2"/>
<circle cx="915.6" cy="315.2" r="3.2"/>
<circle cx="915.4" cy="316.2" r="3.2"/>
<circle cx="902.9" cy="354.0" r="3.2"/>
<circle cx="903.0" cy="367.8" r="3.2"/>
<circle cx="904.6" cy="290.0" r="3.2"/>
<circle cx="913.5" cy="278.4" r="3.2"/>
<circle cx="914.1" cy="333.2" r="3.2"/>
<circle cx="909.2" cy="317.5" r="3.2"/>
<circle cx="917.7" cy="310.6" r="3.2"/>
<circle cx="903.5" cy="300.6" r="3.2"/>
<circle cx="902.7" cy="273.3" r="3.2"/>
<circle cx="900.1" cy="333.8" r="3.2"/>
<circle cx="903.0" cy="290.6" r="3.2"/>
<circle cx="933.0" cy="290.4" r="3.2"/>
<circle cx="950.9" cy="161.1" r="3.2"/>
<circle cx="913.1" cy="205.0" r="3.2"/>
<circle cx="936.4" cy="220.4" r="3.2"/>
<circle cx="943.2" cy="225.3" r="3.2"/>
<circle cx="904.3" cy="225.3" r="3.2"/>
<circle cx="914.5" cy="229.4" r="3.2"/>
<circle cx="910.9" cy="236.4" r="3.2"/>
<circle cx="907.6" cy="241.3" r="3.2"/>
<circle cx="899.4" cy="244.1" r="3.2"/>
<circle cx="922.7" cy="243.4" r="3.2"/>
<circle cx="931.5" cy="244.8" r="3.2"/>
<circle cx="937.2" cy="249.7" r="3.2"/>
<circle cx="946.5" cy="254.6" r="3.2"/>
<circle cx="952.3" cy="261.5" r="3.2"/>
<circle cx="973.4" cy="273.4" r="3.2"/>
<circle cx="1009.8" cy="271.3" r="3.2"/>
<circle cx="957.5" cy="275.5" r="3.2"/>
<circle cx="943.8" cy="276.9" r="3.2"/>
<circle cx="956.4" cy="290.1" r="3.2"/>
<circle cx="946.0" cy="295.0" r="3.2"/>
<circle cx="940.5" cy="301.3" r="3.2"/>
<circle cx="946.5" cy="320.8" r="3.2"/>
<circle cx="956.1" cy="332.0" r="3.2"/>
<circle cx="947.4" cy="334.8" r="3.2"/>
<circle cx="940.0" cy="342.4" r="3.2"/>
<circle cx="938.6" cy="343.8" r="3.2"/>
<circle cx="926.8" cy="364.1" r="3.2"/>
<circle cx="930.1" cy="379.4" r="3.2"/>
<circle cx="915.3" cy="373.8" r="3.2"/>
<circle cx="909.8" cy="373.8" r="3.2"/>
<circle cx="902.7" cy="406.6" r="3.2"/>
<circle cx="898.9" cy="417.8" r="3.2"/>
<circle cx="900.8" cy="393.4" r="3.2"/>
<circle cx="902.1" cy="392.0" r="3.2"/>
<circle cx="904.9" cy="383.6" r="3.2"/>
<circle cx="906.2" cy="382.2" r="3.2"/>
<circle cx="902.1" cy="369.6" r="3.2"/>
<circle cx="903.5" cy="366.9" r="3.2"/>
<circle cx="932.3" cy="270.6" r="3.2"/>
<circle cx="932.3" cy="284.6" r="3.2"/>
<circle cx="924.1" cy="270.6" r="3.2"/>
<circle cx="935.0" cy="312.4" r="3.2"/>
<circle cx="935.0" cy="326.4" r="3.2"/>
<circle cx="926.8" cy="340.4" r="3.2"/>
</g>
<g fill="#ff1418" fill-opacity=".8">
<circle cx="905.7" cy="326.2" r="3.2"/>
<circle cx="911.4" cy="333.4" r="3.2"/>
<circle cx="907.2" cy="303.3" r="3.2"/>
<circle cx="904.5" cy="305.1" r="3.2"/>
<circle cx="906.7" cy="292.3" r="3.2"/>
<circle cx="900.4" cy="303.0" r="3.2"/>
<circle cx="903.8" cy="301.2" r="3.2"/>
<circle cx="904.9" cy="310.6" r="3.2"/>
<circle cx="901.0" cy="307.7" r="3.2"/>
<circle cx="903.6" cy="351.4" r="3.2"/>
<circle cx="902.5" cy="361.2" r="3.2"/>
<circle cx="901.4" cy="347.3" r="3.2"/>
<circle cx="904.9" cy="343.0" r="3.2"/>
<circle cx="902.0" cy="360.7" r="3.2"/>
<circle cx="909.2" cy="307.0" r="3.2"/>
<circle cx="902.0" cy="303.1" r="3.2"/>
<circle cx="899.6" cy="309.5" r="3.2"/>
<circle cx="901.8" cy="323.7" r="3.2"/>
<circle cx="904.4" cy="287.3" r="3.2"/>
<circle cx="910.5" cy="353.3" r="3.2"/>
<circle cx="909.2" cy="280.5" r="3.2"/>
<circle cx="910.2" cy="347.2" r="3.2"/>
<circle cx="900.3" cy="359.4" r="3.2"/>
<circle cx="902.5" cy="291.6" r="3.2"/>
<circle cx="902.9" cy="293.6" r="3.2"/>
<circle cx="908.0" cy="307.1" r="3.2"/>
<circle cx="900.1" cy="348.5" r="3.2"/>
<circle cx="902.3" cy="298.9" r="3.2"/>
<circle cx="901.0" cy="319.5" r="3.2"/>
<circle cx="904.9" cy="362.9" r="3.2"/>
<circle cx="899.6" cy="301.8" r="3.2"/>
<circle cx="904.8" cy="323.3" r="3.2"/>
<circle cx="906.7" cy="314.5" r="3.2"/>
<circle cx="914.7" cy="291.3" r="3.2"/>
<circle cx="900.6" cy="320.3" r="3.2"/>
<circle cx="900.5" cy="318.7" r="3.2"/>
<circle cx="900.3" cy="302.6" r="3.2"/>
<circle cx="905.4" cy="312.5" r="3.2"/>
<circle cx="902.1" cy="349.4" r="3.2"/>
<circle cx="912.2" cy="294.1" r="3.2"/>
<circle cx="899.6" cy="336.8" r="3.2"/>
<circle cx="899.7" cy="298.6" r="3.2"/>
<circle cx="900.0" cy="315.3" r="3.2"/>
<circle cx="899.5" cy="315.3" r="3.2"/>
<circle cx="900.6" cy="315.1" r="3.2"/>
<circle cx="903.4" cy="324.8" r="3.2"/>
<circle cx="901.9" cy="280.6" r="3.2"/>
<circle cx="903.8" cy="329.7" r="3.2"/>
<circle cx="901.6" cy="314.8" r="3.2"/>
<circle cx="909.3" cy="346.9" r="3.2"/>
<circle cx="901.2" cy="296.6" r="3.2"/>
<circle cx="901.4" cy="303.1" r="3.2"/>
<circle cx="901.5" cy="324.2" r="3.2"/>
<circle cx="908.4" cy="321.0" r="3.2"/>
<circle cx="910.3" cy="350.1" r="3.2"/>
<circle cx="907.9" cy="287.6" r="3.2"/>
<circle cx="903.8" cy="331.3" r="3.2"/>
<circle cx="900.1" cy="286.2" r="3.2"/>
<circle cx="905.8" cy="288.0" r="3.2"/>
<circle cx="899.4" cy="333.9" r="3.2"/>
<circle cx="907.3" cy="299.1" r="3.2"/>
<circle cx="901.4" cy="299.2" r="3.2"/>
<circle cx="903.1" cy="326.3" r="3.2"/>
<circle cx="904.2" cy="341.5" r="3.2"/>
<circle cx="904.7" cy="300.0" r="3.2"/>
<circle cx="907.5" cy="340.0" r="3.2"/>
<circle cx="909.9" cy="310.1" r="3.2"/>
<circle cx="903.7" cy="344.9" r="3.2"/>
<circle cx="912.7" cy="333.5" r="3.2"/>
<circle cx="902.6" cy="337.8" r="3.2"/>
<circle cx="902.7" cy="292.0" r="3.2"/>
<circle cx="909.1" cy="341.6" r="3.2"/>
<circle cx="902.2" cy="326.3" r="3.2"/>
<circle cx="903.5" cy="313.4" r="3.2"/>
<circle cx="902.5" cy="338.0" r="3.2"/>
<circle cx="904.4" cy="274.9" r="3.2"/>
<circle cx="899.8" cy="277.5" r="3.2"/>
<circle cx="902.4" cy="348.0" r="3.2"/>
<circle cx="913.5" cy="296.1" r="3.2"/>
<circle cx="912.0" cy="300.6" r="3.2"/>
<circle cx="903.4" cy="306.8" r="3.2"/>
<circle cx="901.1" cy="347.3" r="3.2"/>
<circle cx="901.2" cy="359.5" r="3.2"/>
<circle cx="905.7" cy="321.2" r="3.2"/>
<circle cx="902.0" cy="314.7" r="3.2"/>
<circle cx="909.2" cy="307.1" r="3.2"/>
<circle cx="902.9" cy="308.7" r="3.2"/>
<circle cx="900.2" cy="320.8" r="3.2"/>
<circle cx="900.2" cy="319.1" r="3.2"/>
<circle cx="913.7" cy="310.4" r="3.2"/>
<circle cx="899.4" cy="334.3" r="3.2"/>
<circle cx="906.3" cy="301.4" r="3.2"/>
<circle cx="907.7" cy="302.9" r="3.2"/>
<circle cx="907.2" cy="291.2" r="3.2"/>
<circle cx="903.4" cy="317.6" r="3.2"/>
<circle cx="907.9" cy="327.4" r="3.2"/>
<circle cx="901.5" cy="319.8" r="3.2"/>
<circle cx="901.6" cy="297.1" r="3.2"/>
<circle cx="901.5" cy="332.4" r="3.2"/>
<circle cx="908.4" cy="319.6" r="3.2"/>
<circle cx="908.2" cy="320.5" r="3.2"/>
<circle cx="901.9" cy="304.5" r="3.2"/>
<circle cx="903.2" cy="305.8" r="3.2"/>
<circle cx="901.2" cy="297.4" r="3.2"/>
<circle cx="905.2" cy="275.0" r="3.2"/>
<circle cx="904.3" cy="358.5" r="3.2"/>
<circle cx="903.2" cy="297.1" r="3.2"/>
<circle cx="900.4" cy="281.1" r="3.2"/>
<circle cx="902.4" cy="310.4" r="3.2"/>
<circle cx="899.8" cy="312.3" r="3.2"/>
<circle cx="901.0" cy="306.7" r="3.2"/>
<circle cx="907.1" cy="293.3" r="3.2"/>
<circle cx="906.1" cy="280.0" r="3.2"/>
<circle cx="900.3" cy="336.0" r="3.2"/>
<circle cx="902.0" cy="298.5" r="3.2"/>
<circle cx="905.4" cy="345.3" r="3.2"/>
<circle cx="905.5" cy="354.9" r="3.2"/>
<circle cx="900.0" cy="330.4" r="3.2"/>
<circle cx="900.3" cy="319.9" r="3.2"/>
<circle cx="900.0" cy="319.8" r="3.2"/>
<circle cx="901.4" cy="331.2" r="3.2"/>
<circle cx="905.2" cy="334.7" r="3.2"/>
<circle cx="900.2" cy="313.1" r="3.2"/>
<circle cx="915.0" cy="335.2" r="3.2"/>
<circle cx="901.5" cy="335.8" r="3.2"/>
<circle cx="905.6" cy="344.5" r="3.2"/>
<circle cx="901.4" cy="307.0" r="3.2"/>
<circle cx="911.2" cy="316.6" r="3.2"/>
<circle cx="903.8" cy="277.3" r="3.2"/>
<circle cx="901.2" cy="324.4" r="3.2"/>
<circle cx="907.2" cy="294.4" r="3.2"/>
<circle cx="908.7" cy="316.7" r="3.2"/>
<circle cx="901.7" cy="345.0" r="3.2"/>
<circle cx="907.4" cy="292.9" r="3.2"/>
<circle cx="907.2" cy="331.0" r="3.2"/>
<circle cx="909.5" cy="322.8" r="3.2"/>
<circle cx="899.6" cy="338.3" r="3.2"/>
<circle cx="906.3" cy="370.8" r="3.2"/>
<circle cx="900.3" cy="332.9" r="3.2"/>
<circle cx="904.7" cy="328.2" r="3.2"/>
<circle cx="906.3" cy="306.8" r="3.2"/>
<circle cx="900.3" cy="305.5" r="3.2"/>
<circle cx="909.2" cy="291.0" r="3.2"/>
<circle cx="910.9" cy="354.8" r="3.2"/>
<circle cx="906.1" cy="296.9" r="3.2"/>
<circle cx="912.0" cy="343.2" r="3.2"/>
<circle cx="904.0" cy="364.8" r="3.2"/>
<circle cx="907.5" cy="366.1" r="3.2"/>
<circle cx="908.6" cy="332.5" r="3.2"/>
<circle cx="902.3" cy="348.0" r="3.2"/>
</g>
<path d="M872.0 441.1L872.0 440.1L868.4 438.0L861.8 434.5L856.8 431.0L853.2 427.5L851.6 424.1L850.1 420.6L849.5 417.1L849.1 413.6L848.7 410.1L848.3 406.6L847.9 403.1L847.9 399.6L847.9 396.1L848.0 392.7L848.0 389.2L848.0 385.7L848.1 382.2L848.1 378.7L848.1 375.2L848.1 371.7L848.2 368.2L848.1 364.8L848.0 361.3L847.9 357.8L847.8 354.3L847.7 350.8L847.6 347.3L847.5 343.8L847.4 340.4L847.4 336.9L847.3 333.4L847.2 329.9L847.1 326.4L847.0 322.9L846.9 319.4L846.8 315.9L846.7 312.4L846.6 309.0L846.6 305.5L846.5 302.0L846.4 298.5L846.3 295.0L846.3 291.5L846.2 288.0L846.2 284.6L846.1 281.1L846.1 277.6L861.1 277.6L861.5 281.1L861.9 284.6L862.4 288.0L862.8 291.5L863.2 295.0L863.6 298.5L863.8 302.0L864.0 305.5L864.2 309.0L864.4 312.4L864.6 315.9L864.8 319.4L865.0 322.9L865.2 326.4L865.4 329.9L865.6 333.4L865.8 336.9L866.0 340.4L866.2 343.8L866.4 347.3L866.6 350.8L866.8 354.3L867.0 357.8L867.2 361.3L867.4 364.8L867.6 368.2L868.1 371.7L868.7 375.2L869.2 378.7L869.7 382.2L870.3 385.7L870.8 389.2L871.3 392.7L872.7 392.7L873.2 389.2L873.7 385.7L874.3 382.2L874.8 378.7L875.3 375.2L875.9 371.7L876.4 368.2L876.6 364.8L876.8 361.3L877.0 357.8L877.2 354.3L877.4 350.8L877.6 347.3L877.8 343.8L878.0 340.4L878.2 336.9L878.4 333.4L878.6 329.9L878.8 326.4L879.0 322.9L879.2 319.4L879.4 315.9L879.6 312.4L879.8 309.0L880.0 305.5L880.2 302.0L880.4 298.5L880.8 295.0L881.2 291.5L881.6 288.0L882.1 284.6L882.5 281.1L882.9 277.6L897.9 277.6L897.9 281.1L897.8 284.6L897.8 288.0L897.7 291.5L897.7 295.0L897.6 298.5L897.5 302.0L897.4 305.5L897.4 309.0L897.3 312.4L897.2 315.9L897.1 319.4L897.0 322.9L896.9 326.4L896.8 329.9L896.7 333.4L896.6 336.9L896.6 340.4L896.5 343.8L896.4 347.3L896.3 350.8L896.2 354.3L896.1 357.8L896.0 361.3L895.9 364.8L895.8 368.2L895.9 371.7L895.9 375.2L895.9 378.7L895.9 382.2L896.0 385.7L896.0 389.2L896.0 392.7L896.1 396.1L896.1 399.6L896.1 403.1L895.7 406.6L895.3 410.1L894.9 413.6L894.5 417.1L893.9 420.6L892.4 424.1L890.8 427.5L887.2 431.0L882.2 434.5L875.6 438.0L872.0 440.1Z" fill="#8d8d8d"/>
<g fill="#8d8d8d" fill-opacity=".6">
<circle cx="851.2" cy="408.3" r="3.2"/>
<circle cx="850.0" cy="274.9" r="3.2"/>
<circle cx="852.4" cy="403.1" r="3.2"/>
<circle cx="860.1" cy="294.0" r="3.2"/>
<circle cx="850.4" cy="389.3" r="3.2"/>
<circle cx="863.3" cy="337.3" r="3.2"/>
<circle cx="851.1" cy="403.8" r="3.2"/>
<circle cx="885.0" cy="293.4" r="3.2"/>
<circle cx="888.9" cy="360.1" r="3.2"/>
<circle cx="875.3" cy="400.5" r="3.2"/>
<circle cx="881.8" cy="311.3" r="3.2"/>
<circle cx="849.3" cy="337.4" r="3.2"/>
<circle cx="895.3" cy="308.0" r="3.2"/>
<circle cx="851.2" cy="367.1" r="3.2"/>
<circle cx="867.6" cy="385.7" r="3.2"/>
<circle cx="893.5" cy="233.4" r="3.2"/>
<circle cx="878.5" cy="369.2" r="3.2"/>
<circle cx="854.2" cy="235.8" r="3.2"/>
<circle cx="850.6" cy="415.4" r="3.2"/>
<circle cx="860.2" cy="311.5" r="3.2"/>
<circle cx="860.7" cy="310.8" r="3.2"/>
<circle cx="848.9" cy="314.1" r="3.2"/>
<circle cx="851.1" cy="342.8" r="3.2"/>
<circle cx="866.5" cy="430.3" r="3.2"/>
<circle cx="890.8" cy="267.0" r="3.2"/>
<circle cx="891.8" cy="375.2" r="3.2"/>
<circle cx="849.5" cy="320.3" r="3.2"/>
<circle cx="895.0" cy="266.6" r="3.2"/>
<circle cx="862.9" cy="345.2" r="3.2"/>
<circle cx="850.4" cy="352.3" r="3.2"/>
<circle cx="870.7" cy="436.1" r="3.2"/>
<circle cx="893.1" cy="412.8" r="3.2"/>
<circle cx="861.8" cy="387.6" r="3.2"/>
<circle cx="859.6" cy="282.7" r="3.2"/>
<circle cx="896.1" cy="307.3" r="3.2"/>
<circle cx="868.3" cy="385.2" r="3.2"/>
<circle cx="867.2" cy="434.9" r="3.2"/>
<circle cx="891.4" cy="238.9" r="3.2"/>
<circle cx="884.1" cy="286.7" r="3.2"/>
<circle cx="889.6" cy="272.3" r="3.2"/>
<circle cx="892.4" cy="274.6" r="3.2"/>
<circle cx="865.5" cy="377.2" r="3.2"/>
<circle cx="893.7" cy="271.3" r="3.2"/>
<circle cx="868.4" cy="434.8" r="3.2"/>
<circle cx="864.5" cy="359.8" r="3.2"/>
<circle cx="874.6" cy="437.6" r="3.2"/>
<circle cx="849.8" cy="279.3" r="3.2"/>
<circle cx="878.1" cy="420.3" r="3.2"/>
<circle cx="850.1" cy="282.1" r="3.2"/>
<circle cx="856.3" cy="355.8" r="3.2"/>
<circle cx="876.8" cy="436.1" r="3.2"/>
<circle cx="887.9" cy="329.7" r="3.2"/>
<circle cx="850.9" cy="338.9" r="3.2"/>
<circle cx="893.7" cy="400.4" r="3.2"/>
<circle cx="849.1" cy="354.3" r="3.2"/>
<circle cx="850.0" cy="335.5" r="3.2"/>
<circle cx="880.4" cy="421.0" r="3.2"/>
<circle cx="850.7" cy="330.0" r="3.2"/>
<circle cx="890.8" cy="257.0" r="3.2"/>
<circle cx="871.6" cy="430.1" r="3.2"/>
<circle cx="885.4" cy="430.8" r="3.2"/>
<circle cx="850.6" cy="248.9" r="3.2"/>
<circle cx="848.7" cy="291.2" r="3.2"/>
<circle cx="895.9" cy="304.8" r="3.2"/>
<circle cx="861.8" cy="360.9" r="3.2"/>
<circle cx="880.4" cy="430.0" r="3.2"/>
<circle cx="862.9" cy="432.2" r="3.2"/>
<circle cx="894.2" cy="279.7" r="3.2"/>
<circle cx="858.9" cy="281.1" r="3.2"/>
<circle cx="849.8" cy="315.1" r="3.2"/>
<circle cx="892.5" cy="356.9" r="3.2"/>
<circle cx="852.4" cy="388.4" r="3.2"/>
<circle cx="863.7" cy="340.7" r="3.2"/>
<circle cx="849.3" cy="264.9" r="3.2"/>
<circle cx="848.7" cy="253.3" r="3.2"/>
<circle cx="893.3" cy="245.5" r="3.2"/>
<circle cx="850.4" cy="367.4" r="3.2"/>
<circle cx="866.0" cy="408.3" r="3.2"/>
<circle cx="851.2" cy="344.2" r="3.2"/>
<circle cx="851.0" cy="351.1" r="3.2"/>
<circle cx="891.1" cy="263.5" r="3.2"/>
<circle cx="876.7" cy="415.3" r="3.2"/>
<circle cx="849.7" cy="234.6" r="3.2"/>
<circle cx="895.2" cy="321.6" r="3.2"/>
<circle cx="895.6" cy="236.2" r="3.2"/>
<circle cx="890.8" cy="417.7" r="3.2"/>
<circle cx="882.7" cy="305.0" r="3.2"/>
<circle cx="852.0" cy="408.9" r="3.2"/>
<circle cx="894.6" cy="378.5" r="3.2"/>
<circle cx="851.5" cy="392.6" r="3.2"/>
<circle cx="857.4" cy="421.5" r="3.2"/>
<circle cx="848.4" cy="279.8" r="3.2"/>
<circle cx="860.3" cy="290.9" r="3.2"/>
<circle cx="881.8" cy="424.3" r="3.2"/>
<circle cx="880.6" cy="365.7" r="3.2"/>
<circle cx="849.1" cy="335.5" r="3.2"/>
<circle cx="892.9" cy="410.3" r="3.2"/>
<circle cx="849.3" cy="360.9" r="3.2"/>
<circle cx="885.5" cy="289.5" r="3.2"/>
<circle cx="850.7" cy="318.2" r="3.2"/>
<circle cx="885.1" cy="286.1" r="3.2"/>
<circle cx="850.9" cy="326.3" r="3.2"/>
<circle cx="850.0" cy="309.3" r="3.2"/>
<circle cx="893.8" cy="264.0" r="3.2"/>
<circle cx="868.5" cy="416.6" r="3.2"/>
<circle cx="888.3" cy="412.4" r="3.2"/>
<circle cx="853.0" cy="415.1" r="3.2"/>
<circle cx="849.2" cy="315.0" r="3.2"/>
<circle cx="859.3" cy="282.8" r="3.2"/>
<circle cx="883.3" cy="306.0" r="3.2"/>
<circle cx="868.5" cy="430.5" r="3.2"/>
<circle cx="879.7" cy="368.4" r="3.2"/>
<circle cx="894.0" cy="330.5" r="3.2"/>
<circle cx="893.9" cy="306.5" r="3.2"/>
<circle cx="866.0" cy="370.6" r="3.2"/>
<circle cx="891.8" cy="409.0" r="3.2"/>
<circle cx="848.8" cy="306.4" r="3.2"/>
<circle cx="878.1" cy="382.8" r="3.2"/>
<circle cx="865.7" cy="430.6" r="3.2"/>
<circle cx="850.4" cy="365.8" r="3.2"/>
<circle cx="849.4" cy="315.3" r="3.2"/>
<circle cx="891.2" cy="254.0" r="3.2"/>
<circle cx="885.4" cy="285.0" r="3.2"/>
<circle cx="895.1" cy="319.5" r="3.2"/>
<circle cx="880.9" cy="342.2" r="3.2"/>
<circle cx="851.7" cy="373.5" r="3.2"/>
<circle cx="893.9" cy="324.5" r="3.2"/>
<circle cx="894.7" cy="370.3" r="3.2"/>
<circle cx="852.0" cy="376.6" r="3.2"/>
<circle cx="892.7" cy="256.9" r="3.2"/>
<circle cx="890.1" cy="264.6" r="3.2"/>
<circle cx="850.1" cy="391.2" r="3.2"/>
<circle cx="853.7" cy="408.8" r="3.2"/>
<circle cx="850.1" cy="267.3" r="3.2"/>
<circle cx="895.7" cy="280.1" r="3.2"/>
<circle cx="850.4" cy="306.6" r="3.2"/>
<circle cx="849.0" cy="352.7" r="3.2"/>
<circle cx="881.8" cy="319.1" r="3.2"/>
<circle cx="849.4" cy="308.8" r="3.2"/>
<circle cx="893.6" cy="342.8" r="3.2"/>
<circle cx="880.9" cy="322.6" r="3.2"/>
<circle cx="894.6" cy="283.0" r="3.2"/>
<circle cx="850.1" cy="326.4" r="3.2"/>
<circle cx="894.4" cy="389.8" r="3.2"/>
<circle cx="851.0" cy="349.4" r="3.2"/>
<circle cx="894.2" cy="251.8" r="3.2"/>
<circle cx="891.9" cy="363.6" r="3.2"/>
<circle cx="854.5" cy="423.8" r="3.2"/>
<circle cx="850.8" cy="354.7" r="3.2"/>
<circle cx="882.3" cy="336.8" r="3.2"/>
<circle cx="850.0" cy="315.9" r="3.2"/>
<circle cx="890.2" cy="234.6" r="3.2"/>
<circle cx="884.0" cy="294.6" r="3.2"/>
<circle cx="853.8" cy="268.4" r="3.2"/>
<circle cx="849.0" cy="400.1" r="3.2"/>
<circle cx="862.1" cy="305.7" r="3.2"/>
<circle cx="871.7" cy="437.4" r="3.2"/>
<circle cx="867.4" cy="434.8" r="3.2"/>
<circle cx="866.9" cy="382.7" r="3.2"/>
<circle cx="860.2" cy="412.7" r="3.2"/>
<circle cx="861.6" cy="432.0" r="3.2"/>
<circle cx="860.7" cy="310.6" r="3.2"/>
<circle cx="861.9" cy="317.7" r="3.2"/>
<circle cx="891.0" cy="402.8" r="3.2"/>
<circle cx="893.0" cy="344.5" r="3.2"/>
<circle cx="850.1" cy="355.7" r="3.2"/>
<circle cx="850.4" cy="386.2" r="3.2"/>
<circle cx="853.8" cy="401.9" r="3.2"/>
<circle cx="885.4" cy="374.9" r="3.2"/>
<circle cx="850.4" cy="240.6" r="3.2"/>
<circle cx="886.4" cy="352.1" r="3.2"/>
<circle cx="894.9" cy="402.7" r="3.2"/>
<circle cx="893.4" cy="377.6" r="3.2"/>
<circle cx="881.3" cy="357.9" r="3.2"/>
<circle cx="880.3" cy="350.2" r="3.2"/>
<circle cx="892.5" cy="340.9" r="3.2"/>
<circle cx="882.8" cy="299.9" r="3.2"/>
<circle cx="850.4" cy="411.0" r="3.2"/>
<circle cx="893.4" cy="411.4" r="3.2"/>
<circle cx="894.1" cy="388.1" r="3.2"/>
<circle cx="850.6" cy="359.7" r="3.2"/>
<circle cx="892.5" cy="395.5" r="3.2"/>
<circle cx="848.6" cy="311.6" r="3.2"/>
<circle cx="860.9" cy="297.1" r="3.2"/>
<circle cx="849.2" cy="288.7" r="3.2"/>
<circle cx="865.4" cy="420.1" r="3.2"/>
<circle cx="849.3" cy="398.9" r="3.2"/>
<circle cx="850.0" cy="288.6" r="3.2"/>
<circle cx="896.2" cy="289.0" r="3.2"/>
<circle cx="861.4" cy="341.5" r="3.2"/>
<circle cx="879.3" cy="361.8" r="3.2"/>
<circle cx="896.2" cy="291.7" r="3.2"/>
<circle cx="851.8" cy="364.8" r="3.2"/>
<circle cx="866.3" cy="404.3" r="3.2"/>
<circle cx="886.3" cy="284.5" r="3.2"/>
<circle cx="861.2" cy="320.7" r="3.2"/>
<circle cx="877.2" cy="385.1" r="3.2"/>
<circle cx="871.4" cy="429.1" r="3.2"/>
<circle cx="878.0" cy="371.8" r="3.2"/>
<circle cx="890.6" cy="293.6" r="3.2"/>
<circle cx="849.2" cy="392.1" r="3.2"/>
<circle cx="881.4" cy="346.0" r="3.2"/>
<circle cx="893.5" cy="265.5" r="3.2"/>
<circle cx="851.5" cy="395.2" r="3.2"/>
<circle cx="864.6" cy="404.0" r="3.2"/>
<circle cx="883.6" cy="425.7" r="3.2"/>
<circle cx="879.1" cy="409.5" r="3.2"/>
<circle cx="893.8" cy="387.8" r="3.2"/>
<circle cx="859.1" cy="292.9" r="3.2"/>
<circle cx="881.3" cy="320.9" r="3.2"/>
<circle cx="864.3" cy="349.7" r="3.2"/>
<circle cx="849.4" cy="363.1" r="3.2"/>
<circle cx="865.6" cy="374.8" r="3.2"/>
<circle cx="892.4" cy="414.5" r="3.2"/>
<circle cx="850.8" cy="377.8" r="3.2"/>
<circle cx="895.1" cy="288.9" r="3.2"/>
<circle cx="863.7" cy="347.7" r="3.2"/>
<circle cx="863.9" cy="363.3" r="3.2"/>
<circle cx="890.0" cy="243.6" r="3.2"/>
<circle cx="874.1" cy="432.7" r="3.2"/>
<circle cx="848.5" cy="305.4" r="3.2"/>
<circle cx="893.7" cy="373.5" r="3.2"/>
<circle cx="850.5" cy="364.0" r="3.2"/>
<circle cx="892.0" cy="361.2" r="3.2"/>
<circle cx="893.9" cy="320.2" r="3.2"/>
<circle cx="882.6" cy="335.2" r="3.2"/>
<circle cx="850.2" cy="312.7" r="3.2"/>
<circle cx="891.4" cy="409.3" r="3.2"/>
<circle cx="850.6" cy="346.6" r="3.2"/>
<circle cx="872.7" cy="431.3" r="3.2"/>
<circle cx="893.6" cy="290.3" r="3.2"/>
<circle cx="880.7" cy="345.9" r="3.2"/>
<circle cx="894.4" cy="325.2" r="3.2"/>
<circle cx="849.6" cy="307.9" r="3.2"/>
<circle cx="861.5" cy="309.2" r="3.2"/>
<circle cx="888.5" cy="301.1" r="3.2"/>
<circle cx="889.0" cy="303.4" r="3.2"/>
<circle cx="848.5" cy="306.3" r="3.2"/>
<circle cx="860.3" cy="294.3" r="3.2"/>
<circle cx="893.8" cy="317.3" r="3.2"/>
<circle cx="892.8" cy="346.3" r="3.2"/>
<circle cx="894.9" cy="298.7" r="3.2"/>
<circle cx="861.0" cy="325.5" r="3.2"/>
<circle cx="883.0" cy="320.2" r="3.2"/>
<circle cx="851.9" cy="410.1" r="3.2"/>
<circle cx="881.4" cy="330.9" r="3.2"/>
<circle cx="854.6" cy="402.4" r="3.2"/>
<circle cx="852.6" cy="409.6" r="3.2"/>
<circle cx="869.8" cy="429.3" r="3.2"/>
<circle cx="849.2" cy="249.2" r="3.2"/>
<circle cx="886.0" cy="283.1" r="3.2"/>
<circle cx="877.0" cy="435.6" r="3.2"/>
<circle cx="849.9" cy="312.5" r="3.2"/>
<circle cx="853.4" cy="312.7" r="3.2"/>
<circle cx="868.2" cy="385.1" r="3.2"/>
<circle cx="870.4" cy="433.6" r="3.2"/>
<circle cx="889.6" cy="406.6" r="3.2"/>
<circle cx="863.4" cy="430.6" r="3.2"/>
<circle cx="851.8" cy="262.8" r="3.2"/>
<circle cx="850.5" cy="390.4" r="3.2"/>
<circle cx="866.4" cy="373.3" r="3.2"/>
<circle cx="881.0" cy="402.7" r="3.2"/>
<circle cx="893.4" cy="340.6" r="3.2"/>
<circle cx="850.1" cy="337.5" r="3.2"/>
<circle cx="864.5" cy="358.1" r="3.2"/>
<circle cx="862.2" cy="319.7" r="3.2"/>
<circle cx="852.4" cy="321.5" r="3.2"/>
<circle cx="849.8" cy="306.4" r="3.2"/>
<circle cx="853.4" cy="272.7" r="3.2"/>
<circle cx="886.2" cy="279.3" r="3.2"/>
<circle cx="893.9" cy="365.2" r="3.2"/>
<circle cx="884.5" cy="298.4" r="3.2"/>
<circle cx="893.1" cy="395.3" r="3.2"/>
<circle cx="855.0" cy="277.5" r="3.2"/>
<circle cx="884.9" cy="288.4" r="3.2"/>
<circle cx="863.5" cy="398.5" r="3.2"/>
<circle cx="894.2" cy="364.5" r="3.2"/>
<circle cx="863.8" cy="349.0" r="3.2"/>
<circle cx="889.1" cy="401.6" r="3.2"/>
<circle cx="861.7" cy="307.8" r="3.2"/>
<circle cx="860.6" cy="354.9" r="3.2"/>
<circle cx="849.2" cy="333.7" r="3.2"/>
<circle cx="888.8" cy="269.7" r="3.2"/>
<circle cx="865.5" cy="381.7" r="3.2"/>
<circle cx="875.3" cy="393.9" r="3.2"/>
<circle cx="895.1" cy="336.9" r="3.2"/>
<circle cx="853.2" cy="272.5" r="3.2"/>
<circle cx="894.0" cy="335.2" r="3.2"/>
<circle cx="872.4" cy="435.2" r="3.2"/>
<circle cx="893.3" cy="310.4" r="3.2"/>
<circle cx="851.0" cy="394.3" r="3.2"/>
<circle cx="864.1" cy="366.5" r="3.2"/>
<circle cx="879.3" cy="369.2" r="3.2"/>
<circle cx="881.4" cy="431.4" r="3.2"/>
<circle cx="883.3" cy="321.7" r="3.2"/>
<circle cx="867.5" cy="410.6" r="3.2"/>
<circle cx="882.0" cy="307.3" r="3.2"/>
<circle cx="869.5" cy="432.2" r="3.2"/>
<circle cx="890.8" cy="276.4" r="3.2"/>
<circle cx="853.5" cy="407.0" r="3.2"/>
<circle cx="889.4" cy="290.5" r="3.2"/>
<circle cx="887.1" cy="305.8" r="3.2"/>
<circle cx="849.9" cy="393.9" r="3.2"/>
<circle cx="876.3" cy="424.4" r="3.2"/>
<circle cx="888.2" cy="359.8" r="3.2"/>
<circle cx="894.0" cy="391.4" r="3.2"/>
<circle cx="894.2" cy="387.7" r="3.2"/>
<circle cx="888.6" cy="304.4" r="3.2"/>
<circle cx="851.2" cy="419.6" r="3.2"/>
<circle cx="892.0" cy="404.4" r="3.2"/>
<circle cx="894.4" cy="258.4" r="3.2"/>
<circle cx="851.5" cy="406.4" r="3.2"/>
<circle cx="893.1" cy="333.5" r="3.2"/>
<circle cx="848.5" cy="296.1" r="3.2"/>
<circle cx="894.9" cy="299.7" r="3.2"/>
<circle cx="871.8" cy="431.2" r="3.2"/>
<circle cx="856.6" cy="410.0" r="3.2"/>
<circle cx="856.4" cy="286.6" r="3.2"/>
<circle cx="848.6" cy="255.4" r="3.2"/>
<circle cx="849.2" cy="328.8" r="3.2"/>
<circle cx="853.8" cy="407.3" r="3.2"/>
<circle cx="864.1" cy="393.3" r="3.2"/>
<circle cx="894.9" cy="401.2" r="3.2"/>
<circle cx="850.4" cy="397.2" r="3.2"/>
<circle cx="852.0" cy="362.6" r="3.2"/>
<circle cx="881.4" cy="343.7" r="3.2"/>
<circle cx="892.2" cy="371.8" r="3.2"/>
<circle cx="886.8" cy="279.8" r="3.2"/>
<circle cx="859.9" cy="306.0" r="3.2"/>
<circle cx="890.5" cy="385.1" r="3.2"/>
<circle cx="859.9" cy="300.1" r="3.2"/>
<circle cx="881.7" cy="321.9" r="3.2"/>
<circle cx="883.5" cy="303.4" r="3.2"/>
<circle cx="849.7" cy="231.2" r="3.2"/>
<circle cx="850.6" cy="364.2" r="3.2"/>
<circle cx="895.6" cy="310.6" r="3.2"/>
<circle cx="896.0" cy="299.9" r="3.2"/>
<circle cx="892.4" cy="259.7" r="3.2"/>
<circle cx="849.8" cy="392.0" r="3.2"/>
<circle cx="863.4" cy="362.3" r="3.2"/>
<circle cx="850.1" cy="388.4" r="3.2"/>
<circle cx="850.9" cy="401.1" r="3.2"/>
<circle cx="892.8" cy="406.0" r="3.2"/>
<circle cx="893.7" cy="300.2" r="3.2"/>
<circle cx="880.1" cy="355.8" r="3.2"/>
<circle cx="863.6" cy="338.6" r="3.2"/>
<circle cx="895.5" cy="296.6" r="3.2"/>
<circle cx="882.3" cy="308.6" r="3.2"/>
<circle cx="862.9" cy="322.4" r="3.2"/>
<circle cx="879.6" cy="400.9" r="3.2"/>
<circle cx="893.8" cy="382.8" r="3.2"/>
<circle cx="894.6" cy="346.0" r="3.2"/>
<circle cx="862.1" cy="357.9" r="3.2"/>
<circle cx="850.7" cy="395.8" r="3.2"/>
<circle cx="894.8" cy="356.3" r="3.2"/>
<circle cx="848.6" cy="280.6" r="3.2"/>
<circle cx="850.1" cy="339.6" r="3.2"/>
<circle cx="861.8" cy="331.6" r="3.2"/>
<circle cx="860.4" cy="354.5" r="3.2"/>
<circle cx="878.4" cy="369.4" r="3.2"/>
<circle cx="868.8" cy="392.1" r="3.2"/>
<circle cx="863.7" cy="334.7" r="3.2"/>
<circle cx="893.7" cy="296.5" r="3.2"/>
<circle cx="883.1" cy="294.4" r="3.2"/>
<circle cx="862.5" cy="353.4" r="3.2"/>
<circle cx="850.6" cy="368.5" r="3.2"/>
<circle cx="850.5" cy="329.9" r="3.2"/>
<circle cx="892.1" cy="259.5" r="3.2"/>
<circle cx="879.7" cy="427.4" r="3.2"/>
<circle cx="893.0" cy="325.8" r="3.2"/>
<circle cx="889.8" cy="326.4" r="3.2"/>
<circle cx="848.0" cy="290.4" r="3.2"/>
<circle cx="869.1" cy="396.4" r="3.2"/>
<circle cx="889.0" cy="423.9" r="3.2"/>
<circle cx="862.5" cy="346.7" r="3.2"/>
<circle cx="895.3" cy="314.9" r="3.2"/>
<circle cx="850.7" cy="395.6" r="3.2"/>
<circle cx="848.0" cy="305.1" r="3.2"/>
<circle cx="883.7" cy="297.9" r="3.2"/>
<circle cx="860.6" cy="405.0" r="3.2"/>
<circle cx="861.4" cy="396.1" r="3.2"/>
<circle cx="883.2" cy="301.0" r="3.2"/>
<circle cx="862.5" cy="349.7" r="3.2"/>
<circle cx="892.5" cy="404.7" r="3.2"/>
<circle cx="883.0" cy="317.0" r="3.2"/>
<circle cx="894.3" cy="373.7" r="3.2"/>
<circle cx="852.3" cy="406.4" r="3.2"/>
<circle cx="893.6" cy="359.0" r="3.2"/>
<circle cx="890.8" cy="418.5" r="3.2"/>
<circle cx="894.2" cy="368.7" r="3.2"/>
<circle cx="852.5" cy="412.6" r="3.2"/>
<circle cx="892.8" cy="328.6" r="3.2"/>
<circle cx="877.9" cy="379.8" r="3.2"/>
<circle cx="851.6" cy="419.6" r="3.2"/>
<circle cx="858.6" cy="279.0" r="3.2"/>
<circle cx="858.0" cy="317.4" r="3.2"/>
<circle cx="892.7" cy="368.8" r="3.2"/>
<circle cx="864.6" cy="362.3" r="3.2"/>
<circle cx="890.1" cy="423.6" r="3.2"/>
<circle cx="866.2" cy="431.0" r="3.2"/>
<circle cx="848.5" cy="300.2" r="3.2"/>
<circle cx="854.4" cy="419.3" r="3.2"/>
<circle cx="851.2" cy="338.2" r="3.2"/>
<circle cx="850.5" cy="388.4" r="3.2"/>
<circle cx="892.5" cy="413.6" r="3.2"/>
<circle cx="878.5" cy="429.3" r="3.2"/>
<circle cx="855.6" cy="395.7" r="3.2"/>
<circle cx="862.9" cy="326.8" r="3.2"/>
<circle cx="859.5" cy="283.4" r="3.2"/>
<circle cx="850.3" cy="383.1" r="3.2"/>
<circle cx="851.6" cy="415.2" r="3.2"/>
<circle cx="868.7" cy="389.4" r="3.2"/>
<circle cx="850.4" cy="367.9" r="3.2"/>
<circle cx="896.0" cy="294.2" r="3.2"/>
<circle cx="848.8" cy="342.0" r="3.2"/>
<circle cx="894.5" cy="352.4" r="3.2"/>
<circle cx="851.4" cy="407.2" r="3.2"/>
<circle cx="856.7" cy="408.8" r="3.2"/>
<circle cx="851.2" cy="290.7" r="3.2"/>
<circle cx="880.8" cy="338.3" r="3.2"/>
<circle cx="853.7" cy="423.7" r="3.2"/>
<circle cx="885.4" cy="288.9" r="3.2"/>
<circle cx="895.1" cy="335.6" r="3.2"/>
<circle cx="849.4" cy="243.2" r="3.2"/>
<circle cx="895.0" cy="315.3" r="3.2"/>
<circle cx="893.1" cy="243.1" r="3.2"/>
<circle cx="851.8" cy="306.5" r="3.2"/>
<circle cx="850.4" cy="385.6" r="3.2"/>
<circle cx="883.3" cy="321.3" r="3.2"/>
<circle cx="891.2" cy="275.1" r="3.2"/>
<circle cx="890.1" cy="419.9" r="3.2"/>
<circle cx="893.7" cy="349.3" r="3.2"/>
<circle cx="868.4" cy="434.6" r="3.2"/>
<circle cx="851.6" cy="375.8" r="3.2"/>
<circle cx="879.2" cy="364.5" r="3.2"/>
<circle cx="892.8" cy="419.7" r="3.2"/>
<circle cx="849.8" cy="353.3" r="3.2"/>
<circle cx="869.6" cy="429.4" r="3.2"/>
<circle cx="886.3" cy="403.2" r="3.2"/>
<circle cx="851.1" cy="371.8" r="3.2"/>
<circle cx="851.4" cy="356.7" r="3.2"/>
<circle cx="893.5" cy="241.6" r="3.2"/>
<circle cx="895.8" cy="297.4" r="3.2"/>
<circle cx="893.7" cy="385.3" r="3.2"/>
<circle cx="894.3" cy="345.7" r="3.2"/>
<circle cx="892.5" cy="306.7" r="3.2"/>
<circle cx="872.3" cy="425.6" r="3.2"/>
<circle cx="851.8" cy="256.1" r="3.2"/>
<circle cx="857.9" cy="281.9" r="3.2"/>
<circle cx="885.4" cy="430.7" r="3.2"/>
<circle cx="866.3" cy="381.6" r="3.2"/>
<circle cx="888.8" cy="428.3" r="3.2"/>
<circle cx="849.1" cy="307.6" r="3.2"/>
<circle cx="881.3" cy="350.6" r="3.2"/>
<circle cx="896.5" cy="297.4" r="3.2"/>
<circle cx="894.4" cy="363.1" r="3.2"/>
<circle cx="862.9" cy="335.0" r="3.2"/>
<circle cx="850.4" cy="408.9" r="3.2"/>
<circle cx="885.8" cy="402.5" r="3.2"/>
<circle cx="848.9" cy="241.8" r="3.2"/>
<circle cx="894.7" cy="296.3" r="3.2"/>
<circle cx="886.5" cy="280.6" r="3.2"/>
<circle cx="850.8" cy="352.4" r="3.2"/>
<circle cx="890.3" cy="247.3" r="3.2"/>
<circle cx="873.8" cy="435.6" r="3.2"/>
<circle cx="866.6" cy="387.4" r="3.2"/>
<circle cx="883.2" cy="312.7" r="3.2"/>
<circle cx="848.6" cy="244.7" r="3.2"/>
<circle cx="896.4" cy="294.2" r="3.2"/>
<circle cx="895.2" cy="283.7" r="3.2"/>
<circle cx="865.3" cy="368.0" r="3.2"/>
<circle cx="886.1" cy="285.1" r="3.2"/>
<circle cx="891.5" cy="410.2" r="3.2"/>
<circle cx="861.0" cy="424.1" r="3.2"/>
<circle cx="880.8" cy="354.1" r="3.2"/>
<circle cx="859.5" cy="298.4" r="3.2"/>
<circle cx="890.3" cy="251.2" r="3.2"/>
<circle cx="885.0" cy="291.7" r="3.2"/>
<circle cx="883.7" cy="312.3" r="3.2"/>
<circle cx="879.9" cy="373.7" r="3.2"/>
<circle cx="862.7" cy="330.5" r="3.2"/>
</g>
<g fill="#8d8d8d" fill-opacity=".85">
<circle cx="854.7" cy="287.2" r="3.2"/>
<circle cx="891.5" cy="274.0" r="3.2"/>
<circle cx="857.3" cy="271.6" r="3.2"/>
<circle cx="852.9" cy="265.4" r="3.2"/>
<circle cx="894.9" cy="279.5" r="3.2"/>
<circle cx="855.8" cy="273.3" r="3.2"/>
<circle cx="854.7" cy="266.3" r="3.2"/>
<circle cx="854.9" cy="261.5" r="3.2"/>
<circle cx="889.4" cy="282.8" r="3.2"/>
<circle cx="892.4" cy="285.7" r="3.2"/>
<circle cx="889.8" cy="271.8" r="3.2"/>
<circle cx="889.1" cy="262.0" r="3.2"/>
<circle cx="850.3" cy="264.3" r="3.2"/>
<circle cx="892.6" cy="261.9" r="3.2"/>
<circle cx="891.0" cy="280.7" r="3.2"/>
<circle cx="887.6" cy="275.9" r="3.2"/>
<circle cx="854.0" cy="271.0" r="3.2"/>
<circle cx="857.9" cy="279.9" r="3.2"/>
<circle cx="853.2" cy="263.6" r="3.2"/>
<circle cx="851.0" cy="282.1" r="3.2"/>
<circle cx="892.7" cy="282.0" r="3.2"/>
<circle cx="856.2" cy="262.2" r="3.2"/>
<circle cx="850.4" cy="281.9" r="3.2"/>
<circle cx="891.4" cy="270.3" r="3.2"/>
<circle cx="895.2" cy="270.7" r="3.2"/>
<circle cx="851.3" cy="279.2" r="3.2"/>
<circle cx="894.4" cy="269.0" r="3.2"/>
<circle cx="893.4" cy="266.0" r="3.2"/>
<circle cx="854.9" cy="278.3" r="3.2"/>
<circle cx="895.2" cy="263.9" r="3.2"/>
<circle cx="891.1" cy="263.2" r="3.2"/>
<circle cx="849.9" cy="265.6" r="3.2"/>
<circle cx="890.8" cy="273.3" r="3.2"/>
<circle cx="891.8" cy="281.8" r="3.2"/>
<circle cx="851.0" cy="262.5" r="3.2"/>
<circle cx="893.5" cy="262.3" r="3.2"/>
<circle cx="850.3" cy="268.1" r="3.2"/>
<circle cx="855.7" cy="265.0" r="3.2"/>
<circle cx="885.1" cy="284.4" r="3.2"/>
<circle cx="853.1" cy="265.8" r="3.2"/>
<circle cx="850.2" cy="286.2" r="3.2"/>
<circle cx="890.3" cy="278.4" r="3.2"/>
<circle cx="857.4" cy="270.4" r="3.2"/>
<circle cx="889.0" cy="281.9" r="3.2"/>
<circle cx="849.3" cy="284.6" r="3.2"/>
<circle cx="893.0" cy="275.7" r="3.2"/>
<circle cx="850.0" cy="272.2" r="3.2"/>
<circle cx="851.6" cy="282.9" r="3.2"/>
<circle cx="891.6" cy="274.9" r="3.2"/>
<circle cx="891.1" cy="284.2" r="3.2"/>
<circle cx="850.8" cy="285.7" r="3.2"/>
<circle cx="853.5" cy="263.8" r="3.2"/>
<circle cx="851.7" cy="266.5" r="3.2"/>
<circle cx="855.1" cy="267.7" r="3.2"/>
<circle cx="850.3" cy="263.3" r="3.2"/>
<circle cx="855.1" cy="286.3" r="3.2"/>
<circle cx="850.5" cy="262.4" r="3.2"/>
<circle cx="887.4" cy="286.2" r="3.2"/>
<circle cx="854.1" cy="283.3" r="3.2"/>
<circle cx="855.2" cy="262.0" r="3.2"/>
<circle cx="851.9" cy="265.9" r="3.2"/>
<circle cx="894.5" cy="278.8" r="3.2"/>
<circle cx="853.5" cy="287.3" r="3.2"/>
<circle cx="851.1" cy="265.6" r="3.2"/>
<circle cx="890.6" cy="269.8" r="3.2"/>
<circle cx="857.2" cy="269.6" r="3.2"/>
<circle cx="888.8" cy="265.3" r="3.2"/>
<circle cx="851.5" cy="268.6" r="3.2"/>
<circle cx="852.3" cy="261.3" r="3.2"/>
<circle cx="857.6" cy="278.0" r="3.2"/>
<circle cx="857.9" cy="281.0" r="3.2"/>
<circle cx="892.9" cy="280.1" r="3.2"/>
<circle cx="892.9" cy="283.4" r="3.2"/>
<circle cx="859.1" cy="287.2" r="3.2"/>
<circle cx="852.9" cy="269.2" r="3.2"/>
<circle cx="894.6" cy="275.3" r="3.2"/>
<circle cx="849.5" cy="272.1" r="3.2"/>
<circle cx="849.4" cy="267.9" r="3.2"/>
<circle cx="851.4" cy="265.2" r="3.2"/>
<circle cx="893.2" cy="283.8" r="3.2"/>
<circle cx="889.3" cy="285.9" r="3.2"/>
<circle cx="893.5" cy="268.6" r="3.2"/>
<circle cx="854.2" cy="264.9" r="3.2"/>
<circle cx="886.5" cy="284.8" r="3.2"/>
<circle cx="893.4" cy="262.2" r="3.2"/>
<circle cx="889.4" cy="265.2" r="3.2"/>
<circle cx="890.7" cy="280.7" r="3.2"/>
<circle cx="894.5" cy="278.3" r="3.2"/>
<circle cx="849.8" cy="278.6" r="3.2"/>
<circle cx="856.1" cy="266.3" r="3.2"/>
<circle cx="890.6" cy="265.5" r="3.2"/>
<circle cx="853.2" cy="278.4" r="3.2"/>
<circle cx="855.0" cy="261.7" r="3.2"/>
<circle cx="849.4" cy="285.9" r="3.2"/>
<circle cx="852.1" cy="276.5" r="3.2"/>
<circle cx="851.6" cy="281.6" r="3.2"/>
<circle cx="848.8" cy="275.9" r="3.2"/>
<circle cx="891.3" cy="282.7" r="3.2"/>
<circle cx="892.7" cy="282.9" r="3.2"/>
<circle cx="894.9" cy="280.8" r="3.2"/>
<circle cx="852.5" cy="284.9" r="3.2"/>
<circle cx="851.7" cy="271.0" r="3.2"/>
<circle cx="889.1" cy="271.5" r="3.2"/>
<circle cx="853.6" cy="285.6" r="3.2"/>
<circle cx="857.8" cy="285.4" r="3.2"/>
<circle cx="891.6" cy="284.3" r="3.2"/>
<circle cx="894.6" cy="273.8" r="3.2"/>
<circle cx="855.7" cy="275.4" r="3.2"/>
<circle cx="854.0" cy="276.9" r="3.2"/>
<circle cx="849.9" cy="268.0" r="3.2"/>
<circle cx="893.7" cy="275.1" r="3.2"/>
<circle cx="858.3" cy="286.5" r="3.2"/>
<circle cx="891.9" cy="281.8" r="3.2"/>
<circle cx="850.2" cy="280.0" r="3.2"/>
<circle cx="857.6" cy="285.4" r="3.2"/>
<circle cx="892.3" cy="269.9" r="3.2"/>
<circle cx="854.0" cy="282.6" r="3.2"/>
<circle cx="853.7" cy="265.2" r="3.2"/>
<circle cx="856.9" cy="270.1" r="3.2"/>
<circle cx="893.8" cy="279.5" r="3.2"/>
<circle cx="888.7" cy="283.9" r="3.2"/>
<circle cx="854.1" cy="268.2" r="3.2"/>
<circle cx="889.9" cy="267.8" r="3.2"/>
<circle cx="849.9" cy="273.5" r="3.2"/>
<circle cx="854.4" cy="263.2" r="3.2"/>
<circle cx="856.2" cy="277.2" r="3.2"/>
<circle cx="851.1" cy="282.2" r="3.2"/>
<circle cx="851.6" cy="264.7" r="3.2"/>
<circle cx="857.6" cy="274.8" r="3.2"/>
<circle cx="888.6" cy="269.8" r="3.2"/>
<circle cx="889.8" cy="286.6" r="3.2"/>
<circle cx="885.8" cy="284.4" r="3.2"/>
<circle cx="894.5" cy="284.2" r="3.2"/>
<circle cx="890.8" cy="263.2" r="3.2"/>
<circle cx="856.4" cy="284.2" r="3.2"/>
<circle cx="849.3" cy="275.6" r="3.2"/>
<circle cx="853.1" cy="272.6" r="3.2"/>
<circle cx="852.8" cy="274.5" r="3.2"/>
<circle cx="888.1" cy="264.3" r="3.2"/>
<circle cx="854.8" cy="262.3" r="3.2"/>
<circle cx="887.2" cy="282.8" r="3.2"/>
<circle cx="889.7" cy="285.1" r="3.2"/>
<circle cx="856.1" cy="262.3" r="3.2"/>
<circle cx="886.8" cy="275.3" r="3.2"/>
<circle cx="886.0" cy="279.9" r="3.2"/>
<circle cx="890.9" cy="268.7" r="3.2"/>
<circle cx="852.5" cy="282.6" r="3.2"/>
<circle cx="851.6" cy="265.8" r="3.2"/>
<circle cx="852.7" cy="269.1" r="3.2"/>
<circle cx="891.9" cy="281.1" r="3.2"/>
<circle cx="886.4" cy="283.6" r="3.2"/>
<circle cx="893.2" cy="266.0" r="3.2"/>
<circle cx="892.5" cy="264.6" r="3.2"/>
<circle cx="857.3" cy="270.1" r="3.2"/>
<circle cx="853.9" cy="275.2" r="3.2"/>
<circle cx="890.8" cy="264.8" r="3.2"/>
<circle cx="855.9" cy="283.6" r="3.2"/>
<circle cx="849.3" cy="279.0" r="3.2"/>
<circle cx="858.1" cy="276.7" r="3.2"/>
<circle cx="856.1" cy="262.2" r="3.2"/>
<circle cx="892.1" cy="277.4" r="3.2"/>
<circle cx="856.9" cy="281.7" r="3.2"/>
<circle cx="895.3" cy="274.9" r="3.2"/>
<circle cx="848.9" cy="275.2" r="3.2"/>
<circle cx="853.7" cy="267.3" r="3.2"/>
<circle cx="852.9" cy="278.2" r="3.2"/>
<circle cx="850.1" cy="266.9" r="3.2"/>
<circle cx="891.0" cy="287.3" r="3.2"/>
<circle cx="887.3" cy="274.7" r="3.2"/>
<circle cx="856.0" cy="281.0" r="3.2"/>
</g>
<circle cx="769.3" cy="309" r="3.3" fill="#e7a48c"/>
<circle cx="989.5" cy="226.3" r="3.3" fill="#eff08a"/>
<circle cx="944.5" cy="249.6" r="3.3" fill="#eff08a"/>
<circle cx="986.3" cy="287.5" r="3.3" fill="#eff08a"/>
<line x1="766.8" y1="292" x2="768.8" y2="303.5" stroke="#222" stroke-width="0.8"/>
<line x1="999.5" y1="210.5" x2="992" y2="223" stroke="#222" stroke-width="0.8"/>
<line x1="962.5" y1="242" x2="948" y2="247" stroke="#222" stroke-width="0.8"/>
<line x1="989.3" y1="291.3" x2="995.5" y2="303" stroke="#222" stroke-width="0.8"/>
<rect x="706.3" y="89.3" width="330" height="348.7" fill="none" stroke="#3a3a3a" stroke-width="1.55"/>
</g>
<text x="763.98" y="288.8" font-size="13.61" font-style="italic" fill="#1a1a1a">Asb10</text>
<text x="997.08" y="208" font-size="13.95" font-style="italic" fill="#1a1a1a">Nppa</text>
<text x="964.49" y="242" font-size="13.86" font-style="italic" fill="#1a1a1a">Acta1</text>
<text x="989.88" y="313.8" font-size="14.01" font-style="italic" fill="#1a1a1a">Nppb</text>
<text x="659" y="64.8" font-size="29.43">After low-expression genes removal</text>
<text x="699.5" y="445.8" font-size="22.3" text-anchor="end">0</text>
<text x="699.5" y="376.05" font-size="22.3" text-anchor="end">5</text>
<text x="699.5" y="306.3" font-size="22.3" text-anchor="end">10</text>
<text x="699.5" y="236.55" font-size="22.3" text-anchor="end">15</text>
<text x="699.5" y="166.8" font-size="22.3" text-anchor="end">20</text>
<text x="699.5" y="97.05" font-size="22.3" text-anchor="end">25</text>
<text x="788.3" y="463.4" font-size="22.3" text-anchor="middle">-3</text>
<text x="872" y="463.4" font-size="22.3" text-anchor="middle">0</text>
<text x="954.3" y="463.4" font-size="22.3" text-anchor="middle">3</text>
<circle cx="1054.7" cy="245" r="3.9" fill="#f0456e"/>
<circle cx="1054.7" cy="278.7" r="3.9" fill="#7cc3e6"/>
<text x="1066.04" y="253" font-size="23.4">Up</text>
<text x="1065.97" y="286.6" font-size="22.85">Down</text>
<text x="770.3" y="496.7" font-size="29.5">Log<tspan font-size="17.5" dy="7.5">2</tspan><tspan dy="-7.5"> (Fold Change)</tspan></text>
<text transform="translate(655.3 355.3) rotate(-90)" font-size="29.8">-Log<tspan font-size="17.5" dy="7.5">10</tspan><tspan dy="-7.5"> (</tspan><tspan font-style="italic">P</tspan> Value)</text>
<text x="1339.3" y="83.2" font-size="34.46">Vehicle</text>
<text x="1715.74" y="83.2" font-size="34.49">PE</text>
<rect x="1210.8" y="100" width="355.4" height="13" fill="#4f93bf"/>
<rect x="1566.2" y="100" width="356.6" height="13" fill="#f08c88"/>
<rect x="1213.0" y="122.0" width="27.5" height="27.5" fill="#ec9e91"/>
<rect x="1245.4" y="122.0" width="27.5" height="27.5" fill="#e1634f"/>
<rect x="1277.7" y="122.0" width="27.5" height="27.5" fill="#e78070"/>
<rect x="1310.1" y="122.0" width="27.5" height="27.5" fill="#e1634f"/>
<rect x="1342.4" y="122.0" width="27.5" height="27.5" fill="#e36d5a"/>
<rect x="1374.8" y="122.0" width="27.5" height="27.5" fill="#f2bbb2"/>
<rect x="1407.2" y="122.0" width="27.5" height="27.5" fill="#ec9e91"/>
<rect x="1439.5" y="122.0" width="27.5" height="27.5" fill="#eea79c"/>
<rect x="1471.9" y="122.0" width="27.5" height="27.5" fill="#efaca2"/>
<rect x="1504.2" y="122.0" width="27.5" height="27.5" fill="#f2bbb2"/>
<rect x="1536.6" y="122.0" width="27.5" height="27.5" fill="#f0b1a7"/>
<rect x="1569.0" y="122.0" width="27.5" height="27.5" fill="#4e6998"/>
<rect x="1601.3" y="122.0" width="27.5" height="27.5" fill="#bac5d7"/>
<rect x="1633.7" y="122.0" width="27.5" height="27.5" fill="#93a3c0"/>
<rect x="1666.0" y="122.0" width="27.5" height="27.5" fill="#758aaf"/>
<rect x="1698.4" y="122.0" width="27.5" height="27.5" fill="#758aaf"/>
<rect x="1730.8" y="122.0" width="27.5" height="27.5" fill="#a1b0c9"/>
<rect x="1763.1" y="122.0" width="27.5" height="27.5" fill="#b5c0d4"/>
<rect x="1795.5" y="122.0" width="27.5" height="27.5" fill="#d3d9e5"/>
<rect x="1827.8" y="122.0" width="27.5" height="27.5" fill="#c9d1e0"/>
<rect x="1860.2" y="122.0" width="27.5" height="27.5" fill="#bfc9da"/>
<rect x="1892.6" y="122.0" width="27.5" height="27.5" fill="#abb8cf"/>
<rect x="1213.0" y="154.4" width="27.5" height="27.5" fill="#b0bcd1"/>
<rect x="1245.4" y="154.4" width="27.5" height="27.5" fill="#b0bcd1"/>
<rect x="1277.7" y="154.4" width="27.5" height="27.5" fill="#a6b4cc"/>
<rect x="1310.1" y="154.4" width="27.5" height="27.5" fill="#98a7c3"/>
<rect x="1342.4" y="154.4" width="27.5" height="27.5" fill="#98a7c3"/>
<rect x="1374.8" y="154.4" width="27.5" height="27.5" fill="#98a7c3"/>
<rect x="1407.2" y="154.4" width="27.5" height="27.5" fill="#93a3c0"/>
<rect x="1439.5" y="154.4" width="27.5" height="27.5" fill="#8e9fbd"/>
<rect x="1471.9" y="154.4" width="27.5" height="27.5" fill="#8e9fbd"/>
<rect x="1504.2" y="154.4" width="27.5" height="27.5" fill="#93a3c0"/>
<rect x="1536.6" y="154.4" width="27.5" height="27.5" fill="#98a7c3"/>
<rect x="1569.0" y="154.4" width="27.5" height="27.5" fill="#eda296"/>
<rect x="1601.3" y="154.4" width="27.5" height="27.5" fill="#eda296"/>
<rect x="1633.7" y="154.4" width="27.5" height="27.5" fill="#eea79c"/>
<rect x="1666.0" y="154.4" width="27.5" height="27.5" fill="#e98a7b"/>
<rect x="1698.4" y="154.4" width="27.5" height="27.5" fill="#ec998c"/>
<rect x="1730.8" y="154.4" width="27.5" height="27.5" fill="#e88576"/>
<rect x="1763.1" y="154.4" width="27.5" height="27.5" fill="#e57665"/>
<rect x="1795.5" y="154.4" width="27.5" height="27.5" fill="#eb9486"/>
<rect x="1827.8" y="154.4" width="27.5" height="27.5" fill="#ec998c"/>
<rect x="1860.2" y="154.4" width="27.5" height="27.5" fill="#e57665"/>
<rect x="1892.6" y="154.4" width="27.5" height="27.5" fill="#e57665"/>
<rect x="1213.0" y="186.8" width="27.5" height="27.5" fill="#b5c0d4"/>
<rect x="1245.4" y="186.8" width="27.5" height="27.5" fill="#bfc9da"/>
<rect x="1277.7" y="186.8" width="27.5" height="27.5" fill="#b0bcd1"/>
<rect x="1310.1" y="186.8" width="27.5" height="27.5" fill="#bfc9da"/>
<rect x="1342.4" y="186.8" width="27.5" height="27.5" fill="#c4cddd"/>
<rect x="1374.8" y="186.8" width="27.5" height="27.5" fill="#98a7c3"/>
<rect x="1407.2" y="186.8" width="27.5" height="27.5" fill="#8497b8"/>
<rect x="1439.5" y="186.8" width="27.5" height="27.5" fill="#758aaf"/>
<rect x="1471.9" y="186.8" width="27.5" height="27.5" fill="#93a3c0"/>
<rect x="1504.2" y="186.8" width="27.5" height="27.5" fill="#7a8eb2"/>
<rect x="1536.6" y="186.8" width="27.5" height="27.5" fill="#8497b8"/>
<rect x="1569.0" y="186.8" width="27.5" height="27.5" fill="#f0b1a7"/>
<rect x="1601.3" y="186.8" width="27.5" height="27.5" fill="#efaca2"/>
<rect x="1633.7" y="186.8" width="27.5" height="27.5" fill="#efaca2"/>
<rect x="1666.0" y="186.8" width="27.5" height="27.5" fill="#f0b1a7"/>
<rect x="1698.4" y="186.8" width="27.5" height="27.5" fill="#f2bbb2"/>
<rect x="1730.8" y="186.8" width="27.5" height="27.5" fill="#e36d5a"/>
<rect x="1763.1" y="186.8" width="27.5" height="27.5" fill="#e1634f"/>
<rect x="1795.5" y="186.8" width="27.5" height="27.5" fill="#ec9e91"/>
<rect x="1827.8" y="186.8" width="27.5" height="27.5" fill="#e98a7b"/>
<rect x="1860.2" y="186.8" width="27.5" height="27.5" fill="#e47260"/>
<rect x="1892.6" y="186.8" width="27.5" height="27.5" fill="#e26854"/>
<rect x="1213.0" y="219.3" width="27.5" height="27.5" fill="#8e9fbd"/>
<rect x="1245.4" y="219.3" width="27.5" height="27.5" fill="#98a7c3"/>
<rect x="1277.7" y="219.3" width="27.5" height="27.5" fill="#93a3c0"/>
<rect x="1310.1" y="219.3" width="27.5" height="27.5" fill="#abb8cf"/>
<rect x="1342.4" y="219.3" width="27.5" height="27.5" fill="#98a7c3"/>
<rect x="1374.8" y="219.3" width="27.5" height="27.5" fill="#93a3c0"/>
<rect x="1407.2" y="219.3" width="27.5" height="27.5" fill="#98a7c3"/>
<rect x="1439.5" y="219.3" width="27.5" height="27.5" fill="#7f92b5"/>
<rect x="1471.9" y="219.3" width="27.5" height="27.5" fill="#abb8cf"/>
<rect x="1504.2" y="219.3" width="27.5" height="27.5" fill="#abb8cf"/>
<rect x="1536.6" y="219.3" width="27.5" height="27.5" fill="#b0bcd1"/>
<rect x="1569.0" y="219.3" width="27.5" height="27.5" fill="#ea8f80"/>
<rect x="1601.3" y="219.3" width="27.5" height="27.5" fill="#e88576"/>
<rect x="1633.7" y="219.3" width="27.5" height="27.5" fill="#e88576"/>
<rect x="1666.0" y="219.3" width="27.5" height="27.5" fill="#eea79c"/>
<rect x="1698.4" y="219.3" width="27.5" height="27.5" fill="#e98a7b"/>
<rect x="1730.8" y="219.3" width="27.5" height="27.5" fill="#e05e4a"/>
<rect x="1763.1" y="219.3" width="27.5" height="27.5" fill="#e57665"/>
<rect x="1795.5" y="219.3" width="27.5" height="27.5" fill="#eea79c"/>
<rect x="1827.8" y="219.3" width="27.5" height="27.5" fill="#f1b6ac"/>
<rect x="1860.2" y="219.3" width="27.5" height="27.5" fill="#ec998c"/>
<rect x="1892.6" y="219.3" width="27.5" height="27.5" fill="#ec9e91"/>
<rect x="1213.0" y="251.7" width="27.5" height="27.5" fill="#8e9fbd"/>
<rect x="1245.4" y="251.7" width="27.5" height="27.5" fill="#b0bcd1"/>
<rect x="1277.7" y="251.7" width="27.5" height="27.5" fill="#bfc9da"/>
<rect x="1310.1" y="251.7" width="27.5" height="27.5" fill="#3a588d"/>
<rect x="1342.4" y="251.7" width="27.5" height="27.5" fill="#abb8cf"/>
<rect x="1374.8" y="251.7" width="27.5" height="27.5" fill="#fdf5f4"/>
<rect x="1407.2" y="251.7" width="27.5" height="27.5" fill="#a1b0c9"/>
<rect x="1439.5" y="251.7" width="27.5" height="27.5" fill="#f7d3ce"/>
<rect x="1471.9" y="251.7" width="27.5" height="27.5" fill="#f8d8d3"/>
<rect x="1504.2" y="251.7" width="27.5" height="27.5" fill="#f8d8d3"/>
<rect x="1536.6" y="251.7" width="27.5" height="27.5" fill="#6179a4"/>
<rect x="1569.0" y="251.7" width="27.5" height="27.5" fill="#efaca2"/>
<rect x="1601.3" y="251.7" width="27.5" height="27.5" fill="#eea79c"/>
<rect x="1633.7" y="251.7" width="27.5" height="27.5" fill="#e67b6a"/>
<rect x="1666.0" y="251.7" width="27.5" height="27.5" fill="#da3c23"/>
<rect x="1698.4" y="251.7" width="27.5" height="27.5" fill="#e88576"/>
<rect x="1730.8" y="251.7" width="27.5" height="27.5" fill="#f5c9c2"/>
<rect x="1763.1" y="251.7" width="27.5" height="27.5" fill="#ec9e91"/>
<rect x="1795.5" y="251.7" width="27.5" height="27.5" fill="#98a7c3"/>
<rect x="1827.8" y="251.7" width="27.5" height="27.5" fill="#f3c0b8"/>
<rect x="1860.2" y="251.7" width="27.5" height="27.5" fill="#f0f2f6"/>
<rect x="1892.6" y="251.7" width="27.5" height="27.5" fill="#f6cec8"/>
<rect x="1213.0" y="284.1" width="27.5" height="27.5" fill="#899bbb"/>
<rect x="1245.4" y="284.1" width="27.5" height="27.5" fill="#7f92b5"/>
<rect x="1277.7" y="284.1" width="27.5" height="27.5" fill="#7f92b5"/>
<rect x="1310.1" y="284.1" width="27.5" height="27.5" fill="#758aaf"/>
<rect x="1342.4" y="284.1" width="27.5" height="27.5" fill="#7a8eb2"/>
<rect x="1374.8" y="284.1" width="27.5" height="27.5" fill="#c4cddd"/>
<rect x="1407.2" y="284.1" width="27.5" height="27.5" fill="#c9d1e0"/>
<rect x="1439.5" y="284.1" width="27.5" height="27.5" fill="#dde2eb"/>
<rect x="1471.9" y="284.1" width="27.5" height="27.5" fill="#a1b0c9"/>
<rect x="1504.2" y="284.1" width="27.5" height="27.5" fill="#d3d9e5"/>
<rect x="1536.6" y="284.1" width="27.5" height="27.5" fill="#c9d1e0"/>
<rect x="1569.0" y="284.1" width="27.5" height="27.5" fill="#e67b6a"/>
<rect x="1601.3" y="284.1" width="27.5" height="27.5" fill="#e47260"/>
<rect x="1633.7" y="284.1" width="27.5" height="27.5" fill="#e36d5a"/>
<rect x="1666.0" y="284.1" width="27.5" height="27.5" fill="#e1634f"/>
<rect x="1698.4" y="284.1" width="27.5" height="27.5" fill="#e26854"/>
<rect x="1730.8" y="284.1" width="27.5" height="27.5" fill="#f5c9c2"/>
<rect x="1763.1" y="284.1" width="27.5" height="27.5" fill="#f0b1a7"/>
<rect x="1795.5" y="284.1" width="27.5" height="27.5" fill="#fbece9"/>
<rect x="1827.8" y="284.1" width="27.5" height="27.5" fill="#fffdfd"/>
<rect x="1860.2" y="284.1" width="27.5" height="27.5" fill="#ec998c"/>
<rect x="1892.6" y="284.1" width="27.5" height="27.5" fill="#ea8f80"/>
<rect x="1213.0" y="316.5" width="27.5" height="27.5" fill="#c4cddd"/>
<rect x="1245.4" y="316.5" width="27.5" height="27.5" fill="#c4cddd"/>
<rect x="1277.7" y="316.5" width="27.5" height="27.5" fill="#a6b4cc"/>
<rect x="1310.1" y="316.5" width="27.5" height="27.5" fill="#9cacc6"/>
<rect x="1342.4" y="316.5" width="27.5" height="27.5" fill="#667ea7"/>
<rect x="1374.8" y="316.5" width="27.5" height="27.5" fill="#7a8eb2"/>
<rect x="1407.2" y="316.5" width="27.5" height="27.5" fill="#a1b0c9"/>
<rect x="1439.5" y="316.5" width="27.5" height="27.5" fill="#7a8eb2"/>
<rect x="1471.9" y="316.5" width="27.5" height="27.5" fill="#c9d1e0"/>
<rect x="1504.2" y="316.5" width="27.5" height="27.5" fill="#9cacc6"/>
<rect x="1536.6" y="316.5" width="27.5" height="27.5" fill="#9cacc6"/>
<rect x="1569.0" y="316.5" width="27.5" height="27.5" fill="#f1b6ac"/>
<rect x="1601.3" y="316.5" width="27.5" height="27.5" fill="#f1b6ac"/>
<rect x="1633.7" y="316.5" width="27.5" height="27.5" fill="#f1b6ac"/>
<rect x="1666.0" y="316.5" width="27.5" height="27.5" fill="#e67b6a"/>
<rect x="1698.4" y="316.5" width="27.5" height="27.5" fill="#e67b6a"/>
<rect x="1730.8" y="316.5" width="27.5" height="27.5" fill="#e1634f"/>
<rect x="1763.1" y="316.5" width="27.5" height="27.5" fill="#e1634f"/>
<rect x="1795.5" y="316.5" width="27.5" height="27.5" fill="#efaca2"/>
<rect x="1827.8" y="316.5" width="27.5" height="27.5" fill="#ec9e91"/>
<rect x="1860.2" y="316.5" width="27.5" height="27.5" fill="#ec9e91"/>
<rect x="1892.6" y="316.5" width="27.5" height="27.5" fill="#eda296"/>
<rect x="1213.0" y="348.9" width="27.5" height="27.5" fill="#667ea7"/>
<rect x="1245.4" y="348.9" width="27.5" height="27.5" fill="#b5c0d4"/>
<rect x="1277.7" y="348.9" width="27.5" height="27.5" fill="#f0f2f6"/>
<rect x="1310.1" y="348.9" width="27.5" height="27.5" fill="#7086ac"/>
<rect x="1342.4" y="348.9" width="27.5" height="27.5" fill="#d8dee8"/>
<rect x="1374.8" y="348.9" width="27.5" height="27.5" fill="#7f92b5"/>
<rect x="1407.2" y="348.9" width="27.5" height="27.5" fill="#899bbb"/>
<rect x="1439.5" y="348.9" width="27.5" height="27.5" fill="#536d9b"/>
<rect x="1471.9" y="348.9" width="27.5" height="27.5" fill="#f5f7f9"/>
<rect x="1504.2" y="348.9" width="27.5" height="27.5" fill="#f5f7f9"/>
<rect x="1536.6" y="348.9" width="27.5" height="27.5" fill="#899bbb"/>
<rect x="1569.0" y="348.9" width="27.5" height="27.5" fill="#ec9e91"/>
<rect x="1601.3" y="348.9" width="27.5" height="27.5" fill="#efaca2"/>
<rect x="1633.7" y="348.9" width="27.5" height="27.5" fill="#eda296"/>
<rect x="1666.0" y="348.9" width="27.5" height="27.5" fill="#efaca2"/>
<rect x="1698.4" y="348.9" width="27.5" height="27.5" fill="#eb9486"/>
<rect x="1730.8" y="348.9" width="27.5" height="27.5" fill="#dd4b34"/>
<rect x="1763.1" y="348.9" width="27.5" height="27.5" fill="#e36d5a"/>
<rect x="1795.5" y="348.9" width="27.5" height="27.5" fill="#e88576"/>
<rect x="1827.8" y="348.9" width="27.5" height="27.5" fill="#f9ddd8"/>
<rect x="1860.2" y="348.9" width="27.5" height="27.5" fill="#fbece9"/>
<rect x="1892.6" y="348.9" width="27.5" height="27.5" fill="#eda296"/>
<rect x="1213.0" y="381.4" width="27.5" height="27.5" fill="#ffffff"/>
<rect x="1245.4" y="381.4" width="27.5" height="27.5" fill="#fcf0ee"/>
<rect x="1277.7" y="381.4" width="27.5" height="27.5" fill="#fafbfc"/>
<rect x="1310.1" y="381.4" width="27.5" height="27.5" fill="#de5039"/>
<rect x="1342.4" y="381.4" width="27.5" height="27.5" fill="#f6cec8"/>
<rect x="1374.8" y="381.4" width="27.5" height="27.5" fill="#e78070"/>
<rect x="1407.2" y="381.4" width="27.5" height="27.5" fill="#f9e2de"/>
<rect x="1439.5" y="381.4" width="27.5" height="27.5" fill="#e78070"/>
<rect x="1471.9" y="381.4" width="27.5" height="27.5" fill="#e98a7b"/>
<rect x="1504.2" y="381.4" width="27.5" height="27.5" fill="#de5039"/>
<rect x="1536.6" y="381.4" width="27.5" height="27.5" fill="#de5039"/>
<rect x="1569.0" y="381.4" width="27.5" height="27.5" fill="#f5f7f9"/>
<rect x="1601.3" y="381.4" width="27.5" height="27.5" fill="#f3f5f8"/>
<rect x="1633.7" y="381.4" width="27.5" height="27.5" fill="#f7f8fa"/>
<rect x="1666.0" y="381.4" width="27.5" height="27.5" fill="#496596"/>
<rect x="1698.4" y="381.4" width="27.5" height="27.5" fill="#dde2eb"/>
<rect x="1730.8" y="381.4" width="27.5" height="27.5" fill="#b0bcd1"/>
<rect x="1763.1" y="381.4" width="27.5" height="27.5" fill="#7086ac"/>
<rect x="1795.5" y="381.4" width="27.5" height="27.5" fill="#f0f2f6"/>
<rect x="1827.8" y="381.4" width="27.5" height="27.5" fill="#8497b8"/>
<rect x="1860.2" y="381.4" width="27.5" height="27.5" fill="#8497b8"/>
<rect x="1892.6" y="381.4" width="27.5" height="27.5" fill="#8497b8"/>
<rect x="1208.3" y="117.5" width="717.3" height="294.5" fill="none" stroke="#333" stroke-width="1.2"/>
<text x="1199.8" y="141.4" font-size="22.5" text-anchor="end" font-style="italic" fill="#d42222">Asb10</text>
<text x="1199.8" y="173.82" font-size="22.5" text-anchor="end" font-style="italic">Nppa</text>
<text x="1199.8" y="206.24" font-size="22.5" text-anchor="end" font-style="italic">Nppb</text>
<text x="1199.8" y="238.66" font-size="22.5" text-anchor="end" font-style="italic">Acta1</text>
<text x="1199.8" y="271.08" font-size="22.5" text-anchor="end" font-style="italic">Tnnt1</text>
<text x="1199.8" y="303.5" font-size="22.5" text-anchor="end" font-style="italic">Tgfb2</text>
<text x="1199.8" y="335.92" font-size="22.5" text-anchor="end" font-style="italic">Actc1</text>
<text x="1199.8" y="368.34" font-size="22.5" text-anchor="end" font-style="italic">Myl2</text>
<text x="1199.8" y="400.76" font-size="22.5" text-anchor="end" font-style="italic">Myh6</text>
<path d="M1928 155.2 H1935 Q1939.3 155.2 1939.3 159.5 V405.7 Q1939.3 410 1935 410 H1928" fill="none" stroke="#f3222a" stroke-width="1.8"/>
<text font-size="23.03" transform="translate(1950.2 173.36) rotate(90)">Hypertrophy markers</text>
<defs><linearGradient id="cb" x1="0" x2="1" y1="0" y2="0"><stop offset="0.000" stop-color="#2b4b84"/><stop offset="0.062" stop-color="#466294"/><stop offset="0.125" stop-color="#6078a3"/><stop offset="0.188" stop-color="#7b8fb2"/><stop offset="0.250" stop-color="#95a5c2"/><stop offset="0.312" stop-color="#b0bcd1"/><stop offset="0.375" stop-color="#cad2e0"/><stop offset="0.438" stop-color="#e5e9f0"/><stop offset="0.500" stop-color="#ffffff"/><stop offset="0.562" stop-color="#fae5e1"/><stop offset="0.625" stop-color="#f5cbc4"/><stop offset="0.688" stop-color="#f0b0a6"/><stop offset="0.750" stop-color="#eb9689"/><stop offset="0.812" stop-color="#e67c6b"/><stop offset="0.875" stop-color="#e1624e"/><stop offset="0.938" stop-color="#dc4830"/><stop offset="1.000" stop-color="#d72d12"/></linearGradient></defs>
<rect x="1492.3" y="437" width="139.5" height="28.8" rx="1.5" fill="url(#cb)"/>
<path d="M1497.6 437V442.5M1497.6 460.3V465.8M1529.9 437V442.5M1529.9 460.3V465.8M1562.1 437V442.5M1562.1 460.3V465.8M1594.3 437V442.5M1594.3 460.3V465.8M1626.6 437V442.5M1626.6 460.3V465.8" stroke="#fff" stroke-width="2.2" fill="none"/>
<text x="1442.3" y="457.2" font-size="23.03" font-weight="bold">Exp</text>
<text x="1493.6" y="490.2" font-size="22.3" text-anchor="middle">−2</text>
<text x="1529.3" y="490.2" font-size="22.3" text-anchor="middle">−1</text>
<text x="1563.4" y="490.2" font-size="22.3" text-anchor="middle">0</text>
<text x="1593" y="490.2" font-size="22.3" text-anchor="middle">1</text>
<text x="1626.3" y="490.2" font-size="22.3" text-anchor="middle">2</text>
<g fill="none">
<path d="M192.73 891.3V689.72H239.88V891.3" stroke="#1a1311" stroke-width="2.85"/>
<path d="M268.93 891.3V779.42H316.57V891.3" stroke="#ff2314" stroke-width="2.85"/>
<path d="M203.88 672.5H228.73M203.88 704.3H228.73M216.3 672.5V704.3" stroke="#1a1311" stroke-width="2.85" stroke-linecap="round"/>
<path d="M280.57 768H305.43M280.57 787.5H305.43M293 768V787.5" stroke="#ff2314" stroke-width="2.85" stroke-linecap="round"/>
<path d="M165 621.5V892.7M151.03 891.3H345.18M150 622H165M150 712H165M150 801.3H165M150 891.3H165M216.3 891.3V906.3M292.75 891.3V906.3" stroke="#1a1311" stroke-width="2.85" stroke-linecap="round"/>
<circle cx="216.25" cy="658.75" r="5.5" stroke="#1a1311" stroke-width="2.75"/>
<circle cx="203" cy="697" r="5.5" stroke="#1a1311" stroke-width="2.75"/>
<circle cx="228.75" cy="708" r="5.5" stroke="#1a1311" stroke-width="2.75"/>
<circle cx="293" cy="760" r="5.5" stroke="#ff2314" stroke-width="2.75"/>
<circle cx="293" cy="778" r="5.5" stroke="#ff2314" stroke-width="2.75"/>
<circle cx="293" cy="795" r="5.5" stroke="#ff2314" stroke-width="2.75"/>
<line x1="216.3" y1="631.3" x2="295" y2="631.3" stroke="#1a1311" stroke-width="1.9"/>
</g>
<text x="256.3" y="631.5" font-size="22.8" text-anchor="middle" fill="#1a1311">*</text>
<text x="145.3" y="633.38" font-size="29.5" text-anchor="end">1.5</text>
<text x="145.3" y="723.38" font-size="29.5" text-anchor="end">1.0</text>
<text x="145.3" y="812.68" font-size="29.5" text-anchor="end">0.5</text>
<text x="145.3" y="902.68" font-size="29.5" text-anchor="end">0.0</text>
<text x="168.56" y="940" font-size="31.95">Sham</text>
<text x="262.34" y="940" font-size="33.18">TAC</text>
<text x="168.67" y="568.8" font-size="33.22" font-weight="bold">GSE79536</text>
<text font-size="29.27" transform="translate(82 908.54) rotate(-90)">Normalized array value</text>
<g fill="none">
<path d="M510.23 891.3V700.72H557.38V891.3" stroke="#1a1311" stroke-width="2.85"/>
<path d="M587.22 891.3V793.22H634.38V891.3" stroke="#ff2314" stroke-width="2.85"/>
<path d="M520.83 687H545.17M520.83 710H545.17M533 687V710" stroke="#1a1311" stroke-width="2.85" stroke-linecap="round"/>
<path d="M598.83 787.5H622.17M598.83 795.5H622.17M610.5 787.5V795.5" stroke="#ff2314" stroke-width="2.85" stroke-linecap="round"/>
<path d="M482.5 620.2V892.7M468.53 891.3H663.38M467.5 621.1H482.5M467.5 711.3H482.5M467.5 801.3H482.5M467.5 891.3H482.5M533.8 891.3V905.6M610.8 891.3V905.6" stroke="#1a1311" stroke-width="2.85" stroke-linecap="round"/>
<circle cx="520.5" cy="677.5" r="5.5" stroke="#1a1311" stroke-width="2.75"/>
<circle cx="520.5" cy="688" r="5.5" stroke="#1a1311" stroke-width="2.75"/>
<circle cx="546.25" cy="683" r="5.5" stroke="#1a1311" stroke-width="2.75"/>
<circle cx="546.25" cy="700" r="5.5" stroke="#1a1311" stroke-width="2.75"/>
<circle cx="533.75" cy="743.25" r="5.5" stroke="#1a1311" stroke-width="2.75"/>
<circle cx="597.5" cy="785.5" r="5.5" stroke="#ff2314" stroke-width="2.75"/>
<circle cx="597.5" cy="790" r="5.5" stroke="#ff2314" stroke-width="2.75"/>
<circle cx="622.5" cy="787" r="5.5" stroke="#ff2314" stroke-width="2.75"/>
<circle cx="622.5" cy="803" r="5.5" stroke="#ff2314" stroke-width="2.75"/>
<line x1="533.8" y1="631.3" x2="612.5" y2="631.3" stroke="#1a1311" stroke-width="1.9"/>
</g>
<text x="577.5" y="631.5" font-size="22.8" text-anchor="middle" fill="#1a1311">****</text>
<text x="462.6" y="632.48" font-size="29.5" text-anchor="end">1500</text>
<text x="462.6" y="722.68" font-size="29.5" text-anchor="end">1000</text>
<text x="462.6" y="812.68" font-size="29.5" text-anchor="end">500</text>
<text x="462.6" y="902.68" font-size="29.5" text-anchor="end">0</text>
<text x="486.06" y="940" font-size="31.95">Sham</text>
<text x="580.64" y="940" font-size="33.02">TAC</text>
<text x="474.97" y="568.8" font-size="33.29" font-weight="bold">GSE136308</text>
<text font-size="29.15" transform="translate(379.5 908.53) rotate(-90)">Normalized array value</text>
<g fill="none">
<path d="M824.42 891.3V659.42H874.08V891.3" stroke="#1a1311" stroke-width="2.85"/>
<path d="M904.42 891.3V779.42H954.08V891.3" stroke="#ff2314" stroke-width="2.85"/>
<path d="M985.22 891.3V778.42H1034.88V891.3" stroke="#ff2314" stroke-width="2.85"/>
<path d="M835.38 653.8H861.22M835.38 660H861.22M848.3 653.8V660" stroke="#1a1311" stroke-width="2.85" stroke-linecap="round"/>
<path d="M916.12 765.5H942.47M916.12 790.8H942.47M929.3 765.5V790.8" stroke="#ff2314" stroke-width="2.85" stroke-linecap="round"/>
<path d="M996.33 767.5H1022.67M996.33 785H1022.67M1009.5 767.5V785" stroke="#ff2314" stroke-width="2.85" stroke-linecap="round"/>
<path d="M795 621.5V892.7M781.02 891.3H1064.88M780 622.5H795M780 689.3H795M780 756.6H795M780 823.8H795M780 891.3H795M849.25 891.3V905.6M929.25 891.3V905.6M1010.05 891.3V905.6" stroke="#1a1311" stroke-width="2.85" stroke-linecap="round"/>
<circle cx="831.25" cy="653" r="5.5" stroke="#1a1311" stroke-width="2.75"/>
<circle cx="848.75" cy="654.25" r="5.5" stroke="#1a1311" stroke-width="2.75"/>
<circle cx="867" cy="663.75" r="5.5" stroke="#1a1311" stroke-width="2.75"/>
<circle cx="929.5" cy="753.25" r="5.5" stroke="#ff2314" stroke-width="2.75"/>
<circle cx="916.25" cy="783.75" r="5.5" stroke="#ff2314" stroke-width="2.75"/>
<circle cx="942.5" cy="796.25" r="5.5" stroke="#ff2314" stroke-width="2.75"/>
<circle cx="997" cy="765.75" r="5.5" stroke="#ff2314" stroke-width="2.75"/>
<circle cx="1023" cy="770" r="5.5" stroke="#ff2314" stroke-width="2.75"/>
<circle cx="1009.5" cy="793.75" r="5.5" stroke="#ff2314" stroke-width="2.75"/>
<line x1="848" y1="619.5" x2="1007.5" y2="619.5" stroke="#1a1311" stroke-width="1.9"/>
<line x1="848" y1="642.5" x2="923" y2="642.5" stroke="#1a1311" stroke-width="1.9"/>
</g>
<text x="925" y="619.7" font-size="22.8" text-anchor="middle" fill="#1a1311">****</text>
<text x="884.5" y="642.7" font-size="22.8" text-anchor="middle" fill="#1a1311">****</text>
<text x="774" y="633.88" font-size="29.5" text-anchor="end">200</text>
<text x="774" y="700.68" font-size="29.5" text-anchor="end">150</text>
<text x="774" y="767.98" font-size="29.5" text-anchor="end">100</text>
<text x="774" y="835.18" font-size="29.5" text-anchor="end">50</text>
<text x="774" y="902.68" font-size="29.5" text-anchor="end">0</text>
<text x="788.06" y="940" font-size="31.95">Sham</text>
<text x="874.86" y="940" font-size="31.82">TAC-1w</text>
<text x="993.16" y="940" font-size="31.96">TAC-8w</text>
<text x="828.66" y="568.8" font-size="33.41" font-weight="bold">GSE180720</text>
<text font-size="29.17" transform="translate(706.3 833.96) rotate(-90)">CPM value</text>
<g fill="none">
<path d="M1198.22 891.3V738.22H1245.58V891.3" stroke="#1a1311" stroke-width="2.85"/>
<path d="M1275.22 891.3V766.42H1322.38V891.3" stroke="#ff2314" stroke-width="2.85"/>
<path d="M1209.58 720.8H1234.42M1209.58 751.8H1234.42M1222 720.8V751.8" stroke="#1a1311" stroke-width="2.85" stroke-linecap="round"/>
<path d="M1286.12 758H1311.47M1286.12 771.3H1311.47M1298.8 758V771.3" stroke="#ff2314" stroke-width="2.85" stroke-linecap="round"/>
<path d="M1171.8 622V892.7M1157.82 891.3H1350.88M1156.8 622.5H1171.8M1156.8 690H1171.8M1156.8 756.8H1171.8M1156.8 823.8H1171.8M1156.8 891.3H1171.8M1221.9 891.3V905.6M1298.8 891.3V905.6" stroke="#1a1311" stroke-width="2.85" stroke-linecap="round"/>
<circle cx="1222.5" cy="679.25" r="5.5" stroke="#1a1311" stroke-width="2.75"/>
<circle cx="1222.5" cy="695.75" r="5.5" stroke="#1a1311" stroke-width="2.75"/>
<circle cx="1209.5" cy="735" r="5.5" stroke="#1a1311" stroke-width="2.75"/>
<circle cx="1222.5" cy="728.75" r="5.5" stroke="#1a1311" stroke-width="2.75"/>
<circle cx="1235" cy="746.25" r="5.5" stroke="#1a1311" stroke-width="2.75"/>
<circle cx="1209.5" cy="780" r="5.5" stroke="#1a1311" stroke-width="2.75"/>
<circle cx="1235" cy="789.5" r="5.5" stroke="#1a1311" stroke-width="2.75"/>
<circle cx="1280" cy="735.5" r="5.5" stroke="#ff2314" stroke-width="2.75"/>
<circle cx="1298.75" cy="733" r="5.5" stroke="#ff2314" stroke-width="2.75"/>
<circle cx="1289.5" cy="750" r="5.5" stroke="#ff2314" stroke-width="2.75"/>
<circle cx="1298.75" cy="750" r="5.5" stroke="#ff2314" stroke-width="2.75"/>
<circle cx="1308.75" cy="747" r="5.5" stroke="#ff2314" stroke-width="2.75"/>
<circle cx="1318.25" cy="751.25" r="5.5" stroke="#ff2314" stroke-width="2.75"/>
<circle cx="1293.75" cy="760" r="5.5" stroke="#ff2314" stroke-width="2.75"/>
<circle cx="1306.25" cy="761.25" r="5.5" stroke="#ff2314" stroke-width="2.75"/>
<circle cx="1289.5" cy="771.25" r="5.5" stroke="#ff2314" stroke-width="2.75"/>
<circle cx="1298.75" cy="765" r="5.5" stroke="#ff2314" stroke-width="2.75"/>
<circle cx="1295" cy="785" r="5.5" stroke="#ff2314" stroke-width="2.75"/>
<circle cx="1303.75" cy="787.5" r="5.5" stroke="#ff2314" stroke-width="2.75"/>
<circle cx="1293.75" cy="794.5" r="5.5" stroke="#ff2314" stroke-width="2.75"/>
<circle cx="1303.25" cy="805.75" r="5.5" stroke="#ff2314" stroke-width="2.75"/>
<line x1="1223.3" y1="631.3" x2="1302" y2="631.3" stroke="#1a1311" stroke-width="1.9"/>
</g>
<text x="1263.8" y="631.5" font-size="22.8" text-anchor="middle" fill="#1a1311">*</text>
<text x="1150.3" y="633.88" font-size="29.5" text-anchor="end">20</text>
<text x="1150.3" y="701.38" font-size="29.5" text-anchor="end">15</text>
<text x="1150.3" y="768.18" font-size="29.5" text-anchor="end">10</text>
<text x="1150.3" y="835.18" font-size="29.5" text-anchor="end">5</text>
<text x="1150.3" y="902.68" font-size="29.5" text-anchor="end">0</text>
<text x="1171.94" y="940" font-size="32.05">Donor</text>
<text x="1263.71" y="940" font-size="32.42">HCM</text>
<text x="1162.46" y="568.8" font-size="33.5" font-weight="bold">GSE180313</text>
<text font-size="29.3" transform="translate(1098 840.34) rotate(-90)">FPKM value</text>
<g fill="none">
<path d="M1494.42 891.3V737.72H1541.58V891.3" stroke="#1a1311" stroke-width="2.85"/>
<path d="M1571.42 891.3V760.92H1618.08V891.3" stroke="#ff2314" stroke-width="2.85"/>
<path d="M1505.83 725H1530.17M1505.83 745H1530.17M1518 725V745" stroke="#1a1311" stroke-width="2.85" stroke-linecap="round"/>
<path d="M1582.83 750H1606.17M1582.83 766.3H1606.17M1594.5 750V766.3" stroke="#ff2314" stroke-width="2.85" stroke-linecap="round"/>
<path d="M1467.5 622.2V892.7M1453.02 891.3H1646.88M1452.5 623H1467.5M1452.5 712.5H1467.5M1452.5 801.8H1467.5M1452.5 891.3H1467.5M1518 891.3V905.6M1594.75 891.3V905.6" stroke="#1a1311" stroke-width="2.85" stroke-linecap="round"/>
<circle cx="1518" cy="685.5" r="5.5" stroke="#1a1311" stroke-width="2.75"/>
<circle cx="1505" cy="702.5" r="5.5" stroke="#1a1311" stroke-width="2.75"/>
<circle cx="1530.75" cy="716.25" r="5.5" stroke="#1a1311" stroke-width="2.75"/>
<circle cx="1505" cy="732" r="5.5" stroke="#1a1311" stroke-width="2.75"/>
<circle cx="1530.75" cy="731.25" r="5.5" stroke="#1a1311" stroke-width="2.75"/>
<circle cx="1505" cy="748.75" r="5.5" stroke="#1a1311" stroke-width="2.75"/>
<circle cx="1505" cy="764.25" r="5.5" stroke="#1a1311" stroke-width="2.75"/>
<circle cx="1530.75" cy="760" r="5.5" stroke="#1a1311" stroke-width="2.75"/>
<circle cx="1530.75" cy="778.75" r="5.5" stroke="#1a1311" stroke-width="2.75"/>
<circle cx="1518" cy="740" r="5.5" stroke="#1a1311" stroke-width="2.75"/>
<circle cx="1602.5" cy="709.25" r="5.5" stroke="#ff2314" stroke-width="2.75"/>
<circle cx="1586.25" cy="723.75" r="5.5" stroke="#ff2314" stroke-width="2.75"/>
<circle cx="1577.5" cy="729.5" r="5.5" stroke="#ff2314" stroke-width="2.75"/>
<circle cx="1611.25" cy="728.25" r="5.5" stroke="#ff2314" stroke-width="2.75"/>
<circle cx="1594.5" cy="740.75" r="5.5" stroke="#ff2314" stroke-width="2.75"/>
<circle cx="1585.5" cy="750.75" r="5.5" stroke="#ff2314" stroke-width="2.75"/>
<circle cx="1602.5" cy="757" r="5.5" stroke="#ff2314" stroke-width="2.75"/>
<circle cx="1577.5" cy="771.25" r="5.5" stroke="#ff2314" stroke-width="2.75"/>
<circle cx="1611.25" cy="767.5" r="5.5" stroke="#ff2314" stroke-width="2.75"/>
<circle cx="1594.5" cy="783.25" r="5.5" stroke="#ff2314" stroke-width="2.75"/>
<circle cx="1577.5" cy="796.25" r="5.5" stroke="#ff2314" stroke-width="2.75"/>
<circle cx="1594.5" cy="799.5" r="5.5" stroke="#ff2314" stroke-width="2.75"/>
<circle cx="1611.25" cy="807.5" r="5.5" stroke="#ff2314" stroke-width="2.75"/>
<line x1="1519.5" y1="631.3" x2="1595.5" y2="631.3" stroke="#1a1311" stroke-width="1.9"/>
</g>
<text x="1558" y="631.5" font-size="22.8" text-anchor="middle" fill="#1a1311">****</text>
<text x="1446.3" y="634.38" font-size="29.5" text-anchor="end">12</text>
<text x="1446.3" y="723.88" font-size="29.5" text-anchor="end">8</text>
<text x="1446.3" y="813.18" font-size="29.5" text-anchor="end">4</text>
<text x="1446.3" y="902.68" font-size="29.5" text-anchor="end">0</text>
<text x="1466.24" y="940" font-size="32.01">Donor</text>
<text x="1571.26" y="940" font-size="31.8">HF</text>
<text x="1458.67" y="568.8" font-size="33.35" font-weight="bold">GSE135055</text>
<text font-size="29.14" transform="translate(1393.8 829.38) rotate(-90)">TPM value</text>
<g fill="none">
<path d="M1790.22 891.3V693.92H1836.58V891.3" stroke="#1a1311" stroke-width="2.85"/>
<path d="M1866.42 891.3V841.42H1913.08V891.3" stroke="#ff2314" stroke-width="2.85"/>
<path d="M1801.12 673H1826.47M1801.12 707.5H1826.47M1813.8 673V707.5" stroke="#1a1311" stroke-width="2.85" stroke-linecap="round"/>
<path d="M1877.33 828.8H1902.67M1877.33 847.5H1902.67M1890 828.8V847.5" stroke="#ff2314" stroke-width="2.85" stroke-linecap="round"/>
<path d="M1763.3 622.7V892.7M1748.52 891.3H1941.88M1748.3 623.5H1763.3M1748.3 690.8H1763.3M1748.3 757.5H1763.3M1748.3 824.5H1763.3M1748.3 891.3H1763.3M1813.4 891.3V905.6M1889.75 891.3V905.6" stroke="#1a1311" stroke-width="2.85" stroke-linecap="round"/>
<circle cx="1796.75" cy="666.25" r="5.5" stroke="#1a1311" stroke-width="2.75"/>
<circle cx="1813.75" cy="678.75" r="5.5" stroke="#1a1311" stroke-width="2.75"/>
<circle cx="1830.5" cy="681.25" r="5.5" stroke="#1a1311" stroke-width="2.75"/>
<circle cx="1813.75" cy="742.5" r="5.5" stroke="#1a1311" stroke-width="2.75"/>
<circle cx="1873" cy="815.75" r="5.5" stroke="#ff2314" stroke-width="2.75"/>
<circle cx="1890" cy="828.75" r="5.5" stroke="#ff2314" stroke-width="2.75"/>
<circle cx="1907.5" cy="831.25" r="5.5" stroke="#ff2314" stroke-width="2.75"/>
<circle cx="1890" cy="848.75" r="5.5" stroke="#ff2314" stroke-width="2.75"/>
<circle cx="1890" cy="868.75" r="5.5" stroke="#ff2314" stroke-width="2.75"/>
<line x1="1815" y1="631.3" x2="1890.5" y2="631.3" stroke="#1a1311" stroke-width="1.9"/>
</g>
<text x="1852.5" y="631.5" font-size="22.8" text-anchor="middle" fill="#1a1311">****</text>
<text x="1742.6" y="634.88" font-size="29.5" text-anchor="end">20</text>
<text x="1742.6" y="702.18" font-size="29.5" text-anchor="end">15</text>
<text x="1742.6" y="768.88" font-size="29.5" text-anchor="end">10</text>
<text x="1742.6" y="835.88" font-size="29.5" text-anchor="end">5</text>
<text x="1742.6" y="902.68" font-size="29.5" text-anchor="end">0</text>
<text x="1792" y="940" font-size="31.22">NF</text>
<text x="1870.5" y="940" font-size="31.22">HF</text>
<text x="1753.66" y="568.8" font-size="33.41" font-weight="bold">GSE161472</text>
<text font-size="29.3" transform="translate(1689.5 840.34) rotate(-90)">FPKM value</text>
<g fill="none">
<path d="M719.85 1360V1209.05H773.45V1360" stroke="#1a1311" stroke-width="3.1"/>
<path d="M807.05 1360V1266.05H860.45V1360" stroke="#ff2314" stroke-width="3.1"/>
<path d="M736.75 1204.5H756.85M736.75 1210.5H756.85M746.8 1204.5V1210.5" stroke="#1a1311" stroke-width="3.1" stroke-linecap="round"/>
<path d="M823.25 1257.5H845.35M823.25 1271H845.35M834.3 1257.5V1271" stroke="#ff2314" stroke-width="3.1" stroke-linecap="round"/>
<path d="M688.8 1052.7V1361.4M664.15 1360H893.75M664.2 1053.3H688.8M664.2 1206.8H688.8M664.2 1360H688.8M746.65 1360V1376.5M833.75 1360V1376.5" stroke="#1a1311" stroke-width="3.1" stroke-linecap="round"/>
<circle cx="746.75" cy="1195" r="6.3" stroke="#1a1311" stroke-width="3"/>
<circle cx="725" cy="1207.5" r="6.3" stroke="#1a1311" stroke-width="3"/>
<circle cx="731.25" cy="1208" r="6.3" stroke="#1a1311" stroke-width="3"/>
<circle cx="737" cy="1212.5" r="6.3" stroke="#1a1311" stroke-width="3"/>
<circle cx="742.5" cy="1203.75" r="6.3" stroke="#1a1311" stroke-width="3"/>
<circle cx="748.75" cy="1200" r="6.3" stroke="#1a1311" stroke-width="3"/>
<circle cx="756.25" cy="1206.25" r="6.3" stroke="#1a1311" stroke-width="3"/>
<circle cx="762.5" cy="1202" r="6.3" stroke="#1a1311" stroke-width="3"/>
<circle cx="756.25" cy="1215" r="6.3" stroke="#1a1311" stroke-width="3"/>
<circle cx="768.25" cy="1217" r="6.3" stroke="#1a1311" stroke-width="3"/>
<circle cx="834.25" cy="1236.25" r="6.3" stroke="#ff2314" stroke-width="3"/>
<circle cx="841.25" cy="1251.25" r="6.3" stroke="#ff2314" stroke-width="3"/>
<circle cx="855.75" cy="1255.75" r="6.3" stroke="#ff2314" stroke-width="3"/>
<circle cx="826.75" cy="1258.75" r="6.3" stroke="#ff2314" stroke-width="3"/>
<circle cx="812" cy="1266.25" r="6.3" stroke="#ff2314" stroke-width="3"/>
<circle cx="813" cy="1271.25" r="6.3" stroke="#ff2314" stroke-width="3"/>
<circle cx="826.75" cy="1272" r="6.3" stroke="#ff2314" stroke-width="3"/>
<circle cx="841.25" cy="1272.5" r="6.3" stroke="#ff2314" stroke-width="3"/>
<circle cx="855" cy="1287.5" r="6.3" stroke="#ff2314" stroke-width="3"/>
<line x1="745.8" y1="1106.3" x2="836.3" y2="1106.3" stroke="#1a1311" stroke-width="2"/>
</g>
<text x="793.3" y="1104.1" font-size="23.5" text-anchor="middle" fill="#1a1311">****</text>
<text x="657" y="1065.04" font-size="30.5" text-anchor="end">2</text>
<text x="657" y="1218.54" font-size="30.5" text-anchor="end">1</text>
<text x="657" y="1371.74" font-size="30.5" text-anchor="end">0</text>
<text x="697.5" y="1411.3" font-size="29.68">Vehicle</text>
<text x="815.1" y="1411.3" font-size="29.95">PE</text>
<text x="746.3" y="1025.5" font-size="34.12">ASB10</text>
<text font-size="30.71" transform="translate(628 1349.46) rotate(-90)">Relative protein level</text>
<g fill="none">
<path d="M1082.35 1360V1207.05H1135.95V1360" stroke="#1a1311" stroke-width="3.1"/>
<path d="M1169.55 1360V1266.05H1222.95V1360" stroke="#ff2314" stroke-width="3.1"/>
<path d="M1095.25 1191.8H1123.35M1095.25 1217H1123.35M1109.3 1191.8V1217" stroke="#1a1311" stroke-width="3.1" stroke-linecap="round"/>
<path d="M1182.25 1251.8H1210.35M1182.25 1275.5H1210.35M1196.3 1251.8V1275.5" stroke="#ff2314" stroke-width="3.1" stroke-linecap="round"/>
<path d="M1051.3 1052.7V1361.4M1026.95 1360H1256.75M1026.7 1053.3H1051.3M1026.7 1206.8H1051.3M1026.7 1360H1051.3M1109.15 1360V1376.5M1196.25 1360V1376.5" stroke="#1a1311" stroke-width="3.1" stroke-linecap="round"/>
<circle cx="1109.25" cy="1159.25" r="6.3" stroke="#1a1311" stroke-width="3"/>
<circle cx="1109.25" cy="1180.5" r="6.3" stroke="#1a1311" stroke-width="3"/>
<circle cx="1094.25" cy="1198.75" r="6.3" stroke="#1a1311" stroke-width="3"/>
<circle cx="1123.75" cy="1215.5" r="6.3" stroke="#1a1311" stroke-width="3"/>
<circle cx="1094.25" cy="1230" r="6.3" stroke="#1a1311" stroke-width="3"/>
<circle cx="1123.75" cy="1243.75" r="6.3" stroke="#1a1311" stroke-width="3"/>
<circle cx="1206.25" cy="1233" r="6.3" stroke="#ff2314" stroke-width="3"/>
<circle cx="1187" cy="1242.5" r="6.3" stroke="#ff2314" stroke-width="3"/>
<circle cx="1177.5" cy="1258.75" r="6.3" stroke="#ff2314" stroke-width="3"/>
<circle cx="1196.25" cy="1264.5" r="6.3" stroke="#ff2314" stroke-width="3"/>
<circle cx="1215.75" cy="1270.75" r="6.3" stroke="#ff2314" stroke-width="3"/>
<circle cx="1196.25" cy="1313.75" r="6.3" stroke="#ff2314" stroke-width="3"/>
<line x1="1108.3" y1="1106.3" x2="1190" y2="1106.3" stroke="#1a1311" stroke-width="2"/>
</g>
<text x="1150.8" y="1104.1" font-size="23.5" text-anchor="middle" fill="#1a1311">**</text>
<text x="1019.3" y="1065.04" font-size="30.5" text-anchor="end">2</text>
<text x="1019.3" y="1218.54" font-size="30.5" text-anchor="end">1</text>
<text x="1019.3" y="1371.74" font-size="30.5" text-anchor="end">0</text>
<text x="1059.5" y="1411.3" font-size="29.46">Vehicle</text>
<text x="1176.41" y="1411.3" font-size="29.87">PE</text>
<text x="1099.16" y="1025.5" font-size="33.17" font-style="italic">Asb10</text>
<text font-size="30.32" transform="translate(983.8 1381.93) rotate(-90)">Relative amount of mRNA</text>
<g fill="none">
<path d="M1799.05 1360V1161.55H1851.75V1360" stroke="#1a1311" stroke-width="3.1"/>
<path d="M1884.85 1360V1242.35H1937.25V1360" stroke="#ff2314" stroke-width="3.1"/>
<path d="M1811.45 1146.8H1839.55M1811.45 1172.5H1839.55M1825.5 1146.8V1172.5" stroke="#1a1311" stroke-width="3.1" stroke-linecap="round"/>
<path d="M1897.25 1233H1925.35M1897.25 1245.8H1925.35M1911.3 1233V1245.8" stroke="#ff2314" stroke-width="3.1" stroke-linecap="round"/>
<path d="M1768.8 1057.7V1361.4M1749.95 1360H1970.05M1749.6 1058.8H1768.8M1749.6 1119.3H1768.8M1749.6 1179.5H1768.8M1749.6 1240H1768.8M1749.6 1300H1768.8M1749.6 1360H1768.8M1825.4 1360V1376.5M1911.05 1360V1376.5" stroke="#1a1311" stroke-width="3.1" stroke-linecap="round"/>
<circle cx="1810.75" cy="1132.5" r="6.3" stroke="#1a1311" stroke-width="3"/>
<circle cx="1839.5" cy="1128" r="6.3" stroke="#1a1311" stroke-width="3"/>
<circle cx="1810.75" cy="1142.5" r="6.3" stroke="#1a1311" stroke-width="3"/>
<circle cx="1839.5" cy="1156.75" r="6.3" stroke="#1a1311" stroke-width="3"/>
<circle cx="1825" cy="1184.5" r="6.3" stroke="#1a1311" stroke-width="3"/>
<circle cx="1825.5" cy="1210.75" r="6.3" stroke="#1a1311" stroke-width="3"/>
<circle cx="1911.25" cy="1215" r="6.3" stroke="#ff2314" stroke-width="3"/>
<circle cx="1890" cy="1231.25" r="6.3" stroke="#ff2314" stroke-width="3"/>
<circle cx="1903.75" cy="1238.75" r="6.3" stroke="#ff2314" stroke-width="3"/>
<circle cx="1917.5" cy="1243.75" r="6.3" stroke="#ff2314" stroke-width="3"/>
<circle cx="1932" cy="1247.5" r="6.3" stroke="#ff2314" stroke-width="3"/>
<circle cx="1911.25" cy="1265" r="6.3" stroke="#ff2314" stroke-width="3"/>
<line x1="1825.8" y1="1106.3" x2="1906.8" y2="1106.3" stroke="#1a1311" stroke-width="2"/>
</g>
<text x="1865" y="1104.1" font-size="23.5" text-anchor="middle" fill="#1a1311">***</text>
<text x="1741.5" y="1070.54" font-size="30.5" text-anchor="end">250</text>
<text x="1741.5" y="1131.04" font-size="30.5" text-anchor="end">200</text>
<text x="1741.5" y="1191.24" font-size="30.5" text-anchor="end">150</text>
<text x="1741.5" y="1251.74" font-size="30.5" text-anchor="end">100</text>
<text x="1741.5" y="1311.74" font-size="30.5" text-anchor="end">50</text>
<text x="1741.5" y="1371.74" font-size="30.5" text-anchor="end">0</text>
<text x="1771.3" y="1411.3" font-size="29.84">Vehicle</text>
<text x="1892.52" y="1411.3" font-size="30.94">PE</text>
<text x="1837.14" y="1028.8" font-size="35.72">MFI</text>
<text font-size="29.52" transform="translate(1680.5 1390.36) rotate(-90)">Mean fluorescence intensity</text>
<g fill="none">
<path d="M1023.15 1870V1720.75H1056.25V1870" stroke="#1a1311" stroke-width="2.9"/>
<path d="M1079.85 1870V1751.45H1112.95V1870" stroke="#ff2314" stroke-width="2.9"/>
<path d="M1137.15 1870V1766.45H1170.25V1870" stroke="#ff2314" stroke-width="2.9"/>
<path d="M1194.05 1870V1790.15H1227.15V1870" stroke="#ff2314" stroke-width="2.9"/>
<path d="M1251.05 1870V1792.45H1284.15V1870" stroke="#ff2314" stroke-width="2.9"/>
<path d="M1030.05 1710.29H1049.35M1030.05 1727.77H1049.35M1039.7 1710.29V1727.77" stroke="#1a1311" stroke-width="2.9" stroke-linecap="round"/>
<path d="M1086.75 1744.35H1106.05M1086.75 1755.5H1106.05M1096.4 1744.35V1755.5" stroke="#ff2314" stroke-width="2.9" stroke-linecap="round"/>
<path d="M1144.05 1760.02H1163.35M1144.05 1769.96H1163.35M1153.7 1760.02V1769.96" stroke="#ff2314" stroke-width="2.9" stroke-linecap="round"/>
<path d="M1200.95 1783.53H1220.25M1200.95 1793.17H1220.25M1210.6 1783.53V1793.17" stroke="#ff2314" stroke-width="2.9" stroke-linecap="round"/>
<path d="M1257.95 1785.64H1277.25M1257.95 1795.58H1277.25M1267.6 1785.64V1795.58" stroke="#ff2314" stroke-width="2.9" stroke-linecap="round"/>
<path d="M1002 1562.8V1871.4M978.05 1870H1308.35M977.8 1563.5H1002M977.8 1716.3H1002M977.8 1870H1002M1039.7 1870V1882.6M1096.4 1870V1882.6M1153.7 1870V1882.6M1210.6 1870V1882.6M1267.6 1870V1882.6" stroke="#1a1311" stroke-width="2.9" stroke-linecap="round"/>
<circle cx="1030.69" cy="1689.8" r="5.9" stroke="#1a1311" stroke-width="2.8"/>
<circle cx="1049.68" cy="1705.77" r="5.9" stroke="#1a1311" stroke-width="2.8"/>
<circle cx="1030.69" cy="1720.84" r="5.9" stroke="#1a1311" stroke-width="2.8"/>
<circle cx="1049.68" cy="1728.98" r="5.9" stroke="#1a1311" stroke-width="2.8"/>
<circle cx="1039.73" cy="1747.96" r="5.9" stroke="#1a1311" stroke-width="2.8"/>
<circle cx="1096.4" cy="1735.91" r="5.9" stroke="#ff2314" stroke-width="2.8"/>
<circle cx="1086.45" cy="1744.35" r="5.9" stroke="#ff2314" stroke-width="2.8"/>
<circle cx="1093.38" cy="1753.99" r="5.9" stroke="#ff2314" stroke-width="2.8"/>
<circle cx="1103.03" cy="1760.02" r="5.9" stroke="#ff2314" stroke-width="2.8"/>
<circle cx="1107.55" cy="1757" r="5.9" stroke="#ff2314" stroke-width="2.8"/>
<circle cx="1147.63" cy="1748.87" r="5.9" stroke="#ff2314" stroke-width="2.8"/>
<circle cx="1159.69" cy="1754.89" r="5.9" stroke="#ff2314" stroke-width="2.8"/>
<circle cx="1153.66" cy="1767.55" r="5.9" stroke="#ff2314" stroke-width="2.8"/>
<circle cx="1145.22" cy="1773.58" r="5.9" stroke="#ff2314" stroke-width="2.8"/>
<circle cx="1164.81" cy="1776.59" r="5.9" stroke="#ff2314" stroke-width="2.8"/>
<circle cx="1200.37" cy="1776.59" r="5.9" stroke="#ff2314" stroke-width="2.8"/>
<circle cx="1210.62" cy="1776.59" r="5.9" stroke="#ff2314" stroke-width="2.8"/>
<circle cx="1222.07" cy="1785.64" r="5.9" stroke="#ff2314" stroke-width="2.8"/>
<circle cx="1203.99" cy="1797.69" r="5.9" stroke="#ff2314" stroke-width="2.8"/>
<circle cx="1215.44" cy="1804.62" r="5.9" stroke="#ff2314" stroke-width="2.8"/>
<circle cx="1262.76" cy="1775.09" r="5.9" stroke="#ff2314" stroke-width="2.8"/>
<circle cx="1273.31" cy="1785.64" r="5.9" stroke="#ff2314" stroke-width="2.8"/>
<circle cx="1257.34" cy="1793.17" r="5.9" stroke="#ff2314" stroke-width="2.8"/>
<circle cx="1268.79" cy="1796.18" r="5.9" stroke="#ff2314" stroke-width="2.8"/>
<circle cx="1279.34" cy="1804.62" r="5.9" stroke="#ff2314" stroke-width="2.8"/>
<line x1="1043.6" y1="1575.3" x2="1271.2" y2="1575.3" stroke="#1a1311" stroke-width="1.9"/>
<line x1="1043.6" y1="1602" x2="1214.5" y2="1602" stroke="#1a1311" stroke-width="1.9"/>
<line x1="1043.6" y1="1628" x2="1157.6" y2="1628" stroke="#1a1311" stroke-width="1.9"/>
<line x1="1043.6" y1="1654.5" x2="1099.4" y2="1654.5" stroke="#1a1311" stroke-width="1.9"/>
</g>
<text x="1163.3" y="1574.3" font-size="24" text-anchor="middle" fill="#1a1311">***</text>
<text x="1137" y="1606" font-size="24" text-anchor="middle" fill="#1a1311">***</text>
<text x="1100" y="1632" font-size="24" text-anchor="middle" fill="#1a1311">***</text>
<text x="1064.2" y="1658.5" font-size="24" text-anchor="middle" fill="#1a1311">*</text>
<text x="970" y="1575.24" font-size="30.5" text-anchor="end">2</text>
<text x="970" y="1728.04" font-size="30.5" text-anchor="end">1</text>
<text x="970" y="1881.74" font-size="30.5" text-anchor="end">0</text>
<text x="981.96" y="1924.3" font-size="32.1">Sham</text>
<text x="1079.04" y="1924.3" font-size="32.78">1d</text>
<text x="1137.49" y="1924.3" font-size="31.69">3d</text>
<text x="1193.39" y="1924.3" font-size="32.16">7d</text>
<text x="1243.08" y="1924.3" font-size="32.49">21d</text>
<text x="1110.6" y="1525.8" font-size="33.6">ASB10</text>
<text font-size="30.34" transform="translate(936.7 1854.43) rotate(-90)">Relative protein level</text>
<line x1="1078.9" y1="1941.5" x2="1305.9" y2="1941.5" stroke="#1a1311" stroke-width="1.6"/>
<text x="1104.76" y="1975" font-size="31.95">TAC surgery</text>
<g fill="none">
<path d="M1531.75 1867V1713.85H1564.85V1867" stroke="#1a1311" stroke-width="2.9"/>
<path d="M1588.45 1867V1750.35H1621.55V1867" stroke="#ff2314" stroke-width="2.9"/>
<path d="M1645.65 1867V1775.05H1678.75V1867" stroke="#ff2314" stroke-width="2.9"/>
<path d="M1702.35 1867V1768.05H1735.45V1867" stroke="#ff2314" stroke-width="2.9"/>
<path d="M1759.55 1867V1792.45H1792.65V1867" stroke="#ff2314" stroke-width="2.9"/>
<path d="M1538.65 1693.71H1557.95M1538.65 1729.88H1557.95M1548.3 1693.71V1729.88" stroke="#1a1311" stroke-width="2.9" stroke-linecap="round"/>
<path d="M1595.35 1729.88H1614.65M1595.35 1766.05H1614.65M1605 1729.88V1766.05" stroke="#ff2314" stroke-width="2.9" stroke-linecap="round"/>
<path d="M1652.55 1759.11H1671.85M1652.55 1787.14H1671.85M1662.2 1759.11V1787.14" stroke="#ff2314" stroke-width="2.9" stroke-linecap="round"/>
<path d="M1709.25 1755.5H1728.55M1709.25 1776.59H1728.55M1718.9 1755.5V1776.59" stroke="#ff2314" stroke-width="2.9" stroke-linecap="round"/>
<path d="M1766.45 1779.01H1785.75M1766.45 1800.1H1785.75M1776.1 1779.01V1800.1" stroke="#ff2314" stroke-width="2.9" stroke-linecap="round"/>
<path d="M1510 1560.7V1868.4M1486.35 1867H1817.15M1485.8 1561.4H1510M1485.8 1714.2H1510M1485.8 1867H1510M1548.3 1867V1879.6M1605 1867V1879.6M1662.2 1867V1879.6M1718.9 1867V1879.6M1776.1 1867V1879.6" stroke="#1a1311" stroke-width="2.9" stroke-linecap="round"/>
<circle cx="1539.24" cy="1664.18" r="5.9" stroke="#1a1311" stroke-width="2.8"/>
<circle cx="1558.23" cy="1676.53" r="5.9" stroke="#1a1311" stroke-width="2.8"/>
<circle cx="1547.68" cy="1717.82" r="5.9" stroke="#1a1311" stroke-width="2.8"/>
<circle cx="1539.24" cy="1743.44" r="5.9" stroke="#1a1311" stroke-width="2.8"/>
<circle cx="1558.23" cy="1756.4" r="5.9" stroke="#1a1311" stroke-width="2.8"/>
<circle cx="1605.85" cy="1688.29" r="5.9" stroke="#ff2314" stroke-width="2.8"/>
<circle cx="1605.85" cy="1728.37" r="5.9" stroke="#ff2314" stroke-width="2.8"/>
<circle cx="1604.94" cy="1755.5" r="5.9" stroke="#ff2314" stroke-width="2.8"/>
<circle cx="1595.9" cy="1775.99" r="5.9" stroke="#ff2314" stroke-width="2.8"/>
<circle cx="1614.89" cy="1791.66" r="5.9" stroke="#ff2314" stroke-width="2.8"/>
<circle cx="1662.21" cy="1728.98" r="5.9" stroke="#ff2314" stroke-width="2.8"/>
<circle cx="1653.16" cy="1765.14" r="5.9" stroke="#ff2314" stroke-width="2.8"/>
<circle cx="1671.25" cy="1769.06" r="5.9" stroke="#ff2314" stroke-width="2.8"/>
<circle cx="1661.6" cy="1790.16" r="5.9" stroke="#ff2314" stroke-width="2.8"/>
<circle cx="1662.21" cy="1812.16" r="5.9" stroke="#ff2314" stroke-width="2.8"/>
<circle cx="1713.44" cy="1735" r="5.9" stroke="#ff2314" stroke-width="2.8"/>
<circle cx="1724.89" cy="1748.87" r="5.9" stroke="#ff2314" stroke-width="2.8"/>
<circle cx="1708.02" cy="1778.1" r="5.9" stroke="#ff2314" stroke-width="2.8"/>
<circle cx="1719.47" cy="1784.13" r="5.9" stroke="#ff2314" stroke-width="2.8"/>
<circle cx="1730.62" cy="1785.64" r="5.9" stroke="#ff2314" stroke-width="2.8"/>
<circle cx="1764.68" cy="1764.54" r="5.9" stroke="#ff2314" stroke-width="2.8"/>
<circle cx="1776.13" cy="1774.48" r="5.9" stroke="#ff2314" stroke-width="2.8"/>
<circle cx="1788.19" cy="1780.51" r="5.9" stroke="#ff2314" stroke-width="2.8"/>
<circle cx="1770.71" cy="1806.73" r="5.9" stroke="#ff2314" stroke-width="2.8"/>
<circle cx="1781.86" cy="1823.31" r="5.9" stroke="#ff2314" stroke-width="2.8"/>
<line x1="1552.2" y1="1579.2" x2="1780.4" y2="1579.2" stroke="#1a1311" stroke-width="1.9"/>
<line x1="1552.2" y1="1603.6" x2="1724" y2="1603.6" stroke="#1a1311" stroke-width="1.9"/>
<line x1="1552.2" y1="1628" x2="1667" y2="1628" stroke="#1a1311" stroke-width="1.9"/>
<line x1="1552.2" y1="1655.4" x2="1608" y2="1655.4" stroke="#1a1311" stroke-width="1.9"/>
</g>
<text x="1675.8" y="1578.7" font-size="24" text-anchor="middle" fill="#1a1311">**</text>
<text x="1642.6" y="1599.4" font-size="16.5" text-anchor="middle" fill="#1a1311">ns</text>
<text x="1611" y="1631.8" font-size="24" text-anchor="middle" fill="#1a1311">*</text>
<text x="1577.2" y="1651.2" font-size="16.5" text-anchor="middle" fill="#1a1311">ns</text>
<text x="1478" y="1573.14" font-size="30.5" text-anchor="end">2</text>
<text x="1478" y="1725.94" font-size="30.5" text-anchor="end">1</text>
<text x="1478" y="1878.74" font-size="30.5" text-anchor="end">0</text>
<text x="1495.55" y="1924.3" font-size="32.26">Sham</text>
<text x="1592.54" y="1924.3" font-size="32.78">1d</text>
<text x="1651.09" y="1924.3" font-size="31.69">3d</text>
<text x="1707.39" y="1924.3" font-size="32.16">7d</text>
<text x="1756.96" y="1924.3" font-size="32.88">21d</text>
<text x="1616.25" y="1525.8" font-size="33.06" font-style="italic">Asb10</text>
<text font-size="30.04" transform="translate(1436.8 1899.4) rotate(-90)">Relative amount of mRNA</text>
<line x1="1592.9" y1="1941.5" x2="1819.8" y2="1941.5" stroke="#1a1311" stroke-width="1.6"/>
<text x="1618.76" y="1975" font-size="31.95">TAC surgery</text>
<defs>
<filter id="bl1_2" x="-20%" y="-60%" width="140%" height="220%"><feGaussianBlur stdDeviation="1.2"/></filter>
<filter id="bl1_6" x="-20%" y="-60%" width="140%" height="220%"><feGaussianBlur stdDeviation="1.6"/></filter>
<filter id="bl2_0" x="-20%" y="-60%" width="140%" height="220%"><feGaussianBlur stdDeviation="2.0"/></filter>
<filter id="bl2_4" x="-20%" y="-60%" width="140%" height="220%"><feGaussianBlur stdDeviation="2.4"/></filter>
<filter id="bl3_0" x="-20%" y="-60%" width="140%" height="220%"><feGaussianBlur stdDeviation="3.0"/></filter>
<filter id="bl4_5" x="-20%" y="-60%" width="140%" height="220%"><feGaussianBlur stdDeviation="4.5"/></filter>
<filter id="bl6" x="-20%" y="-60%" width="140%" height="220%"><feGaussianBlur stdDeviation="6"/></filter>
<linearGradient id="vg1" x1="0" x2="0" y1="0" y2="1"><stop offset="0" stop-color="#000" stop-opacity=".06"/><stop offset=".5" stop-color="#fff" stop-opacity="0"/><stop offset="1" stop-color="#fff" stop-opacity=".18"/></linearGradient>
<linearGradient id="vg2" x1="0" x2="0" y1="0" y2="1"><stop offset="0" stop-color="#fff" stop-opacity=".25"/><stop offset=".35" stop-color="#fff" stop-opacity="0"/><stop offset=".7" stop-color="#fff" stop-opacity="0"/><stop offset="1" stop-color="#fff" stop-opacity=".25"/></linearGradient>
</defs>
<clipPath id="cF0"><rect x="157" y="1048.9" width="361.3" height="48.1"/></clipPath>
<g clip-path="url(#cF0)">
<rect x="157" y="1048.9" width="361.3" height="48.1" fill="#c8c8c8"/>
<rect x="157" y="1048.9" width="361.3" height="48.1" fill="url(#vg1)"/>
<g filter="url(#bl6)" fill="#000">
<rect x="167" y="1061.75" width="46" height="19.5" rx="9.75" opacity="0.19"/>
<rect x="225.8" y="1061.75" width="46" height="19.5" rx="9.75" opacity="0.19"/>
<rect x="285" y="1063.25" width="46" height="19.5" rx="9.75" opacity="0.14"/>
<rect x="345.5" y="1064.25" width="44" height="19.5" rx="9.75" opacity="0.12"/>
<rect x="405.5" y="1064.75" width="44" height="19.5" rx="9.75" opacity="0.11"/>
<rect x="466" y="1064.75" width="42" height="19.5" rx="9.75" opacity="0.08"/>
</g>
<g filter="url(#bl2_4)" fill="#000">
<rect x="170" y="1066.75" width="40" height="9.5" rx="12" ry="4.75" opacity="0.95"/>
<rect x="228.8" y="1066.75" width="40" height="9.5" rx="12" ry="4.75" opacity="0.95"/>
<rect x="288" y="1068.25" width="40" height="9.5" rx="12" ry="4.75" opacity="0.72"/>
<rect x="348.5" y="1069.25" width="38" height="9.5" rx="11.4" ry="4.75" opacity="0.6"/>
<rect x="408.5" y="1069.75" width="38" height="9.5" rx="11.4" ry="4.75" opacity="0.54"/>
<rect x="469" y="1069.75" width="36" height="9.5" rx="10.8" ry="4.75" opacity="0.42"/>
</g>
</g>
<rect x="157" y="1048.9" width="361.3" height="48.1" fill="none" stroke="#0c0c0c" stroke-width="2.1"/>
<clipPath id="cF1"><rect x="157" y="1103.3" width="361.3" height="48"/></clipPath>
<g clip-path="url(#cF1)">
<rect x="157" y="1103.3" width="361.3" height="48" fill="#d3d3d3"/>
<g filter="url(#bl6)" fill="#000">
<rect x="173.5" y="1113.5" width="45" height="27" rx="13.5" opacity="0.26"/>
<rect x="231.3" y="1113.5" width="45" height="27" rx="13.5" opacity="0.26"/>
<rect x="287.5" y="1113.5" width="45" height="27" rx="13.5" opacity="0.26"/>
<rect x="345" y="1113.5" width="45" height="27" rx="13.5" opacity="0.23"/>
<rect x="405" y="1113.5" width="45" height="27" rx="13.5" opacity="0.22"/>
<rect x="464" y="1113.5" width="46" height="27" rx="13.5" opacity="0.23"/>
</g>
<g filter="url(#bl3_0)" fill="#000">
<rect x="176.5" y="1118.5" width="39" height="17" rx="11.7" ry="8.5" opacity="0.88"/>
<rect x="234.3" y="1118.5" width="39" height="17" rx="11.7" ry="8.5" opacity="0.88"/>
<rect x="290.5" y="1118.5" width="39" height="17" rx="11.7" ry="8.5" opacity="0.86"/>
<rect x="348" y="1118.5" width="39" height="17" rx="11.7" ry="8.5" opacity="0.76"/>
<rect x="408" y="1118.5" width="39" height="17" rx="11.7" ry="8.5" opacity="0.74"/>
<rect x="467" y="1118.5" width="40" height="17" rx="12" ry="8.5" opacity="0.78"/>
</g>
</g>
<rect x="157" y="1103.3" width="361.3" height="48" fill="none" stroke="#0c0c0c" stroke-width="2.1"/>
<clipPath id="cF2"><rect x="157" y="1157.5" width="361.3" height="47.5"/></clipPath>
<g clip-path="url(#cF2)">
<rect x="157" y="1157.5" width="361.3" height="47.5" fill="#fafafa"/>
<g filter="url(#bl6)" fill="#000">
<rect x="167" y="1169.8" width="46" height="23" rx="11.5" opacity="0.54"/>
<rect x="225.3" y="1169.8" width="47" height="23" rx="11.5" opacity="0.56"/>
<rect x="284.5" y="1169.8" width="47" height="23" rx="11.5" opacity="0.57"/>
<rect x="342.5" y="1166.8" width="50" height="29" rx="14.5" opacity="0.6"/>
<rect x="403.5" y="1168.8" width="48" height="25" rx="12.5" opacity="0.6"/>
<rect x="463.5" y="1168.8" width="47" height="25" rx="12.5" opacity="0.6"/>
</g>
<g filter="url(#bl2_4)" fill="#000">
<rect x="170" y="1174.8" width="40" height="13" rx="12" ry="6.5" opacity="0.9"/>
<rect x="228.3" y="1174.8" width="41" height="13" rx="12.3" ry="6.5" opacity="0.93"/>
<rect x="287.5" y="1174.8" width="41" height="13" rx="12.3" ry="6.5" opacity="0.95"/>
<rect x="345.5" y="1171.8" width="44" height="19" rx="13.2" ry="9.5" opacity="1"/>
<rect x="406.5" y="1173.8" width="42" height="15" rx="12.6" ry="7.5" opacity="1"/>
<rect x="466.5" y="1173.8" width="41" height="15" rx="12.3" ry="7.5" opacity="1"/>
</g>
</g>
<rect x="157" y="1157.5" width="361.3" height="47.5" fill="none" stroke="#0c0c0c" stroke-width="2.1"/>
<clipPath id="cF3"><rect x="157" y="1211.3" width="361.3" height="47.5"/></clipPath>
<g clip-path="url(#cF3)">
<rect x="157" y="1211.3" width="361.3" height="47.5" fill="#c6c6c6"/>
<g filter="url(#bl6)" fill="#000">
<rect x="170" y="1224.3" width="44" height="21" rx="10.5" opacity="0.06"/>
<rect x="227.8" y="1224.3" width="44" height="21" rx="10.5" opacity="0.06"/>
<rect x="287" y="1224.3" width="42" height="21" rx="10.5" opacity="0.04"/>
<rect x="343.5" y="1225.8" width="48" height="21" rx="10.5" opacity="0.18"/>
<rect x="404" y="1225.8" width="47" height="21" rx="10.5" opacity="0.17"/>
<rect x="463" y="1226.3" width="48" height="21" rx="10.5" opacity="0.2"/>
</g>
<g filter="url(#bl2_4)" fill="#000">
<rect x="173" y="1229.3" width="38" height="11" rx="11.4" ry="5.5" opacity="0.3"/>
<rect x="230.8" y="1229.3" width="38" height="11" rx="11.4" ry="5.5" opacity="0.3"/>
<rect x="290" y="1229.3" width="36" height="11" rx="10.8" ry="5.5" opacity="0.22"/>
<rect x="346.5" y="1230.8" width="42" height="11" rx="12.6" ry="5.5" opacity="0.92"/>
<rect x="407" y="1230.8" width="41" height="11" rx="12.3" ry="5.5" opacity="0.85"/>
<rect x="466" y="1231.3" width="42" height="11" rx="12.6" ry="5.5" opacity="1"/>
</g>
</g>
<rect x="157" y="1211.3" width="361.3" height="47.5" fill="none" stroke="#0c0c0c" stroke-width="2.1"/>
<clipPath id="cF4"><rect x="157" y="1265.5" width="361.3" height="47.8"/></clipPath>
<g clip-path="url(#cF4)">
<rect x="157" y="1265.5" width="361.3" height="47.8" fill="#d5d5d5"/>
<g filter="url(#bl2_4)" fill="#000">
<rect x="173" y="1291" width="34" height="8" rx="10.2" ry="4" opacity="0.04"/>
<rect x="231.8" y="1291" width="34" height="8" rx="10.2" ry="4" opacity="0.03"/>
<rect x="293" y="1291" width="30" height="8" rx="9" ry="4" opacity="0.04"/>
<rect x="350.5" y="1287" width="34" height="8" rx="10.2" ry="4" opacity="0.3"/>
<rect x="410.5" y="1286" width="34" height="8" rx="10.2" ry="4" opacity="0.34"/>
<rect x="471" y="1286" width="32" height="8" rx="9.6" ry="4" opacity="0.16"/>
</g>
</g>
<rect x="157" y="1265.5" width="361.3" height="47.8" fill="none" stroke="#0c0c0c" stroke-width="2.1"/>
<clipPath id="cF5"><rect x="157" y="1319.5" width="361.3" height="48.5"/></clipPath>
<g clip-path="url(#cF5)">
<rect x="157" y="1319.5" width="361.3" height="48.5" fill="#b9b9b9"/>
<g filter="url(#bl6)" fill="#000">
<rect x="169" y="1328.7" width="47" height="19" rx="9.5" opacity="0.15"/>
<rect x="228.3" y="1329" width="46" height="19" rx="9.5" opacity="0.15"/>
<rect x="287" y="1329.5" width="47" height="19" rx="9.5" opacity="0.15"/>
<rect x="346" y="1331.5" width="47" height="19" rx="9.5" opacity="0.15"/>
<rect x="404.5" y="1332" width="47" height="19" rx="9.5" opacity="0.15"/>
<rect x="464" y="1332" width="47" height="19" rx="9.5" opacity="0.15"/>
</g>
<g filter="url(#bl1_6)" fill="#000">
<rect x="172" y="1333.7" width="41" height="9" rx="12.3" ry="4.5" opacity="1"/>
<rect x="231.3" y="1334" width="40" height="9" rx="12" ry="4.5" opacity="1"/>
<rect x="290" y="1334.5" width="41" height="9" rx="12.3" ry="4.5" opacity="1"/>
<rect x="349" y="1336.5" width="41" height="9" rx="12.3" ry="4.5" opacity="1"/>
<rect x="407.5" y="1337" width="41" height="9" rx="12.3" ry="4.5" opacity="1"/>
<rect x="467" y="1337" width="41" height="9" rx="12.3" ry="4.5" opacity="1"/>
</g>
</g>
<rect x="157" y="1319.5" width="361.3" height="48.5" fill="none" stroke="#0c0c0c" stroke-width="2.1"/>
<text x="144.6" y="1081.2" font-size="29.6" text-anchor="end">ASB10</text>
<text x="530.3" y="1081.2" font-size="29.6">55</text>
<text x="144.6" y="1135.4" font-size="29.6" text-anchor="end">MYH6</text>
<text x="530.3" y="1135.4" font-size="29.6">224</text>
<text x="144.6" y="1189.4" font-size="29.6" text-anchor="end">MYH7</text>
<text x="530.3" y="1189.4" font-size="29.6">220</text>
<text x="144.6" y="1243.4" font-size="29.6" text-anchor="end">ANP</text>
<text x="530.3" y="1243.4" font-size="29.6">17</text>
<text x="144.6" y="1297.2" font-size="29.6" text-anchor="end">BNP</text>
<text x="530.3" y="1297.2" font-size="29.6">17</text>
<text x="144.6" y="1350.8" font-size="29.6" text-anchor="end">GAPDH</text>
<text x="530.3" y="1350.8" font-size="29.6">37</text>
<text x="197" y="1029.3" font-size="32.42">Vehicle</text>
<text x="409.76" y="1029.3" font-size="33">PE</text>
<text x="530.27" y="1029.3" font-size="29.7">kDa</text>
<line x1="172.5" y1="1040" x2="331.8" y2="1040" stroke="#1c1414" stroke-width="1.9"/>
<line x1="353.3" y1="1040" x2="512.6" y2="1040" stroke="#1c1414" stroke-width="1.9"/>
<clipPath id="cI0"><rect x="157.4" y="1516.3" width="600.8" height="48.2"/></clipPath>
<g clip-path="url(#cI0)">
<rect x="157.4" y="1516.3" width="600.8" height="48.2" fill="#dcdcdc"/>
<rect x="157.4" y="1516.3" width="600.8" height="48.2" fill="url(#vg1)"/>
<g filter="url(#bl6)" fill="#000">
<rect x="172" y="1532.25" width="48" height="17.5" rx="8.75" opacity="0.11"/>
<rect x="229.5" y="1533.25" width="46" height="17.5" rx="8.75" opacity="0.11"/>
<rect x="286" y="1533.25" width="47" height="17.5" rx="8.75" opacity="0.1"/>
<rect x="344.5" y="1533.25" width="47" height="17.5" rx="8.75" opacity="0.09"/>
<rect x="402" y="1530.75" width="46" height="17.5" rx="8.75" opacity="0.1"/>
<rect x="459.5" y="1530.25" width="46" height="17.5" rx="8.75" opacity="0.07"/>
<rect x="518" y="1531.25" width="46" height="17.5" rx="8.75" opacity="0.06"/>
<rect x="579.5" y="1532.25" width="46" height="17.5" rx="8.75" opacity="0.06"/>
<rect x="638" y="1532.25" width="44" height="17.5" rx="8.75" opacity="0.06"/>
<rect x="697" y="1531.25" width="46" height="17.5" rx="8.75" opacity="0.06"/>
</g>
<g filter="url(#bl1_6)" fill="#000">
<rect x="175" y="1537.25" width="42" height="7.5" rx="12.6" ry="3.75" opacity="0.95"/>
<rect x="232.5" y="1538.25" width="40" height="7.5" rx="12" ry="3.75" opacity="0.93"/>
<rect x="289" y="1538.25" width="41" height="7.5" rx="12.3" ry="3.75" opacity="0.85"/>
<rect x="347.5" y="1538.25" width="41" height="7.5" rx="12.3" ry="3.75" opacity="0.75"/>
<rect x="405" y="1535.75" width="40" height="7.5" rx="12" ry="3.75" opacity="0.85"/>
<rect x="462.5" y="1535.25" width="40" height="7.5" rx="12" ry="3.75" opacity="0.6"/>
<rect x="521" y="1536.25" width="40" height="7.5" rx="12" ry="3.75" opacity="0.5"/>
<rect x="582.5" y="1537.25" width="40" height="7.5" rx="12" ry="3.75" opacity="0.5"/>
<rect x="641" y="1537.25" width="38" height="7.5" rx="11.4" ry="3.75" opacity="0.52"/>
<rect x="700" y="1536.25" width="40" height="7.5" rx="12" ry="3.75" opacity="0.46"/>
</g>
</g>
<rect x="157.4" y="1516.3" width="600.8" height="48.2" fill="none" stroke="#0c0c0c" stroke-width="2.1"/>
<clipPath id="cI1"><rect x="157.4" y="1570.8" width="600.8" height="43"/></clipPath>
<g clip-path="url(#cI1)">
<rect x="157.4" y="1570.8" width="600.8" height="43" fill="#d8d8d8"/>
<g filter="url(#bl6)" fill="#000">
<rect x="172" y="1581" width="48" height="27" rx="13.5" opacity="0.35"/>
<rect x="228.5" y="1581" width="48" height="27" rx="13.5" opacity="0.35"/>
<rect x="285" y="1581" width="49" height="27" rx="13.5" opacity="0.35"/>
<rect x="343.5" y="1581" width="49" height="27" rx="13.5" opacity="0.35"/>
<rect x="401.5" y="1581" width="47" height="27" rx="13.5" opacity="0.33"/>
<rect x="459.5" y="1581" width="46" height="27" rx="13.5" opacity="0.32"/>
<rect x="517.5" y="1581" width="47" height="27" rx="13.5" opacity="0.32"/>
<rect x="579" y="1581" width="47" height="27" rx="13.5" opacity="0.32"/>
<rect x="638" y="1581" width="44" height="27" rx="13.5" opacity="0.28"/>
<rect x="697" y="1581" width="46" height="27" rx="13.5" opacity="0.3"/>
</g>
<g filter="url(#bl2_4)" fill="#000">
<rect x="175" y="1586" width="42" height="17" rx="12.6" ry="8.5" opacity="1"/>
<rect x="231.5" y="1586" width="42" height="17" rx="12.6" ry="8.5" opacity="1"/>
<rect x="288" y="1586" width="43" height="17" rx="12.9" ry="8.5" opacity="1"/>
<rect x="346.5" y="1586" width="43" height="17" rx="12.9" ry="8.5" opacity="1"/>
<rect x="404.5" y="1586" width="41" height="17" rx="12.3" ry="8.5" opacity="0.95"/>
<rect x="462.5" y="1586" width="40" height="17" rx="12" ry="8.5" opacity="0.9"/>
<rect x="520.5" y="1586" width="41" height="17" rx="12.3" ry="8.5" opacity="0.92"/>
<rect x="582" y="1586" width="41" height="17" rx="12.3" ry="8.5" opacity="0.9"/>
<rect x="641" y="1586" width="38" height="17" rx="11.4" ry="8.5" opacity="0.8"/>
<rect x="700" y="1586" width="40" height="17" rx="12" ry="8.5" opacity="0.85"/>
</g>
</g>
<rect x="157.4" y="1570.8" width="600.8" height="43" fill="none" stroke="#0c0c0c" stroke-width="2.1"/>
<clipPath id="cI2"><rect x="157.4" y="1620" width="600.8" height="47.5"/></clipPath>
<g clip-path="url(#cI2)">
<rect x="157.4" y="1620" width="600.8" height="47.5" fill="#efefef"/>
<g filter="url(#bl6)" fill="#000">
<rect x="173" y="1632.5" width="46" height="20" rx="10" opacity="0.21"/>
<rect x="230.5" y="1632.5" width="44" height="20" rx="10" opacity="0.19"/>
<rect x="286.5" y="1632" width="46" height="21" rx="10.5" opacity="0.28"/>
<rect x="346" y="1632.5" width="44" height="20" rx="10" opacity="0.24"/>
<rect x="401" y="1632" width="48" height="21" rx="10.5" opacity="0.29"/>
<rect x="459.5" y="1632.5" width="46" height="20" rx="10" opacity="0.22"/>
<rect x="517" y="1632.5" width="48" height="22" rx="11" opacity="0.3"/>
<rect x="578.5" y="1633" width="48" height="21" rx="10.5" opacity="0.3"/>
<rect x="635" y="1631.5" width="50" height="25" rx="12.5" opacity="0.3"/>
<rect x="694.5" y="1631" width="51" height="26" rx="13" opacity="0.3"/>
</g>
<g filter="url(#bl2_0)" fill="#000">
<rect x="176" y="1637.5" width="40" height="10" rx="12" ry="5" opacity="0.7"/>
<rect x="233.5" y="1637.5" width="38" height="10" rx="11.4" ry="5" opacity="0.64"/>
<rect x="289.5" y="1637" width="40" height="11" rx="12" ry="5.5" opacity="0.95"/>
<rect x="349" y="1637.5" width="38" height="10" rx="11.4" ry="5" opacity="0.8"/>
<rect x="404" y="1637" width="42" height="11" rx="12.6" ry="5.5" opacity="0.97"/>
<rect x="462.5" y="1637.5" width="40" height="10" rx="12" ry="5" opacity="0.75"/>
<rect x="520" y="1637.5" width="42" height="12" rx="12.6" ry="6" opacity="1"/>
<rect x="581.5" y="1638" width="42" height="11" rx="12.6" ry="5.5" opacity="1"/>
<rect x="638" y="1636.5" width="44" height="15" rx="13.2" ry="7.5" opacity="1"/>
<rect x="697.5" y="1636" width="45" height="16" rx="13.5" ry="8" opacity="1"/>
</g>
</g>
<rect x="157.4" y="1620" width="600.8" height="47.5" fill="none" stroke="#0c0c0c" stroke-width="2.1"/>
<clipPath id="cI3"><rect x="157.4" y="1673.8" width="600.8" height="53.2"/></clipPath>
<g clip-path="url(#cI3)">
<rect x="157.4" y="1673.8" width="600.8" height="53.2" fill="#d2d2d2"/>
<g filter="url(#bl6)" fill="#000">
<rect x="520" y="1691" width="42" height="20" rx="10" opacity="0.1"/>
<rect x="582.5" y="1691" width="40" height="20" rx="10" opacity="0.08"/>
<rect x="637" y="1691" width="46" height="20" rx="10" opacity="0.12"/>
<rect x="698" y="1691" width="44" height="20" rx="10" opacity="0.12"/>
</g>
<g filter="url(#bl2_0)" fill="#000">
<rect x="523" y="1696" width="36" height="10" rx="10.8" ry="5" opacity="0.85"/>
<rect x="585.5" y="1696" width="34" height="10" rx="10.2" ry="5" opacity="0.65"/>
<rect x="640" y="1696" width="40" height="10" rx="12" ry="5" opacity="1"/>
<rect x="701" y="1696" width="38" height="10" rx="11.4" ry="5" opacity="1"/>
</g>
</g>
<rect x="157.4" y="1673.8" width="600.8" height="53.2" fill="none" stroke="#0c0c0c" stroke-width="2.1"/>
<clipPath id="cI4"><rect x="157.4" y="1733" width="600.8" height="49"/></clipPath>
<g clip-path="url(#cI4)">
<rect x="157.4" y="1733" width="600.8" height="49" fill="#f0f0f0"/>
<g filter="url(#bl4_5)" fill="#000">
<rect x="178" y="1746.5" width="36" height="22" rx="11" ry="11" opacity="0.08"/>
<rect x="179" y="1753" width="34" height="8" rx="4" opacity="0.02"/>
<rect x="234.5" y="1746.5" width="36" height="22" rx="11" ry="11" opacity="0.08"/>
<rect x="235.5" y="1753" width="34" height="8" rx="4" opacity="0.02"/>
<rect x="291.5" y="1746.5" width="36" height="22" rx="11" ry="11" opacity="0.06"/>
<rect x="292.5" y="1753" width="34" height="8" rx="4" opacity="0"/>
<rect x="348" y="1746.5" width="40" height="22" rx="12" ry="11" opacity="0.13"/>
<rect x="349" y="1753" width="38" height="8" rx="4" opacity="0.02"/>
<rect x="405" y="1746.5" width="40" height="22" rx="12" ry="11" opacity="0.12"/>
<rect x="406" y="1753" width="38" height="8" rx="4" opacity="0.02"/>
<rect x="461.5" y="1746.5" width="42" height="22" rx="12.6" ry="11" opacity="0.17"/>
<rect x="462.5" y="1753" width="40" height="8" rx="4" opacity="0.03"/>
<rect x="520" y="1746.5" width="42" height="22" rx="12.6" ry="11" opacity="0.2"/>
<rect x="521" y="1753" width="40" height="8" rx="4" opacity="0.04"/>
<rect x="582.5" y="1746.5" width="40" height="22" rx="12" ry="11" opacity="0.17"/>
<rect x="583.5" y="1753" width="38" height="8" rx="4" opacity="0.04"/>
<rect x="640" y="1746.5" width="40" height="22" rx="12" ry="11" opacity="0.42"/>
<rect x="641" y="1753" width="38" height="8" rx="4" opacity="0.3"/>
<rect x="700" y="1746.5" width="40" height="22" rx="12" ry="11" opacity="0.34"/>
<rect x="701" y="1753" width="38" height="8" rx="4" opacity="0.22"/>
</g>
</g>
<rect x="157.4" y="1733" width="600.8" height="49" fill="none" stroke="#0c0c0c" stroke-width="2.1"/>
<clipPath id="cI5"><rect x="157.4" y="1788" width="600.8" height="48.3"/></clipPath>
<g clip-path="url(#cI5)">
<rect x="157.4" y="1788" width="600.8" height="48.3" fill="#cdcdcd"/>
<g filter="url(#bl6)" fill="#000">
<rect x="174" y="1807" width="44" height="17" rx="8.5" opacity="0.06"/>
<rect x="231.5" y="1806.5" width="42" height="17" rx="8.5" opacity="0.05"/>
<rect x="287.5" y="1804.5" width="44" height="17" rx="8.5" opacity="0.07"/>
<rect x="347" y="1802" width="42" height="17" rx="8.5" opacity="0.05"/>
<rect x="402" y="1800.5" width="46" height="17" rx="8.5" opacity="0.11"/>
<rect x="460.5" y="1800.5" width="44" height="17" rx="8.5" opacity="0.06"/>
<rect x="518" y="1801" width="46" height="17" rx="8.5" opacity="0.13"/>
<rect x="579.5" y="1802.5" width="46" height="17" rx="8.5" opacity="0.1"/>
<rect x="638" y="1804.5" width="44" height="17" rx="8.5" opacity="0.09"/>
<rect x="697" y="1806.5" width="46" height="17" rx="8.5" opacity="0.15"/>
</g>
<g filter="url(#bl2_0)" fill="#000">
<rect x="177" y="1812" width="38" height="7" rx="11.4" ry="3.5" opacity="0.4"/>
<rect x="234.5" y="1811.5" width="36" height="7" rx="10.8" ry="3.5" opacity="0.33"/>
<rect x="290.5" y="1809.5" width="38" height="7" rx="11.4" ry="3.5" opacity="0.5"/>
<rect x="350" y="1807" width="36" height="7" rx="10.8" ry="3.5" opacity="0.36"/>
<rect x="405" y="1805.5" width="40" height="7" rx="12" ry="3.5" opacity="0.72"/>
<rect x="463.5" y="1805.5" width="38" height="7" rx="11.4" ry="3.5" opacity="0.4"/>
<rect x="521" y="1806" width="40" height="7" rx="12" ry="3.5" opacity="0.85"/>
<rect x="582.5" y="1807.5" width="40" height="7" rx="12" ry="3.5" opacity="0.7"/>
<rect x="641" y="1809.5" width="38" height="7" rx="11.4" ry="3.5" opacity="0.6"/>
<rect x="700" y="1811.5" width="40" height="7" rx="12" ry="3.5" opacity="1"/>
</g>
</g>
<rect x="157.4" y="1788" width="600.8" height="48.3" fill="none" stroke="#0c0c0c" stroke-width="2.1"/>
<clipPath id="cI6"><rect x="157.4" y="1842.5" width="600.8" height="55"/></clipPath>
<g clip-path="url(#cI6)">
<rect x="157.4" y="1842.5" width="600.8" height="55" fill="#d1d1d1"/>
<g filter="url(#bl6)" fill="#000">
<rect x="171.5" y="1860" width="49" height="20" rx="10" opacity="0.16"/>
<rect x="228.5" y="1860" width="48" height="20" rx="10" opacity="0.15"/>
<rect x="285" y="1860" width="49" height="20" rx="10" opacity="0.17"/>
<rect x="344" y="1859" width="48" height="20" rx="10" opacity="0.15"/>
<rect x="400.5" y="1857.5" width="49" height="21" rx="10.5" opacity="0.19"/>
<rect x="458" y="1857.5" width="49" height="21" rx="10.5" opacity="0.18"/>
<rect x="516.5" y="1857" width="49" height="22" rx="11" opacity="0.21"/>
<rect x="578" y="1859" width="49" height="22" rx="11" opacity="0.2"/>
<rect x="634.5" y="1863" width="51" height="24" rx="12" opacity="0.22"/>
<rect x="693.5" y="1863.5" width="53" height="25" rx="12.5" opacity="0.22"/>
</g>
<g filter="url(#bl2_4)" fill="#000">
<rect x="174.5" y="1865" width="43" height="10" rx="12.9" ry="5" opacity="0.72"/>
<rect x="231.5" y="1865" width="42" height="10" rx="12.6" ry="5" opacity="0.66"/>
<rect x="288" y="1865" width="43" height="10" rx="12.9" ry="5" opacity="0.76"/>
<rect x="347" y="1864" width="42" height="10" rx="12.6" ry="5" opacity="0.7"/>
<rect x="403.5" y="1862.5" width="43" height="11" rx="12.9" ry="5.5" opacity="0.86"/>
<rect x="461" y="1862.5" width="43" height="11" rx="12.9" ry="5.5" opacity="0.8"/>
<rect x="519.5" y="1862" width="43" height="12" rx="12.9" ry="6" opacity="0.95"/>
<rect x="581" y="1864" width="43" height="12" rx="12.9" ry="6" opacity="0.9"/>
<rect x="637.5" y="1868" width="45" height="14" rx="13.5" ry="7" opacity="1"/>
<rect x="696.5" y="1868.5" width="47" height="15" rx="14.1" ry="7.5" opacity="1"/>
</g>
</g>
<rect x="157.4" y="1842.5" width="600.8" height="55" fill="none" stroke="#0c0c0c" stroke-width="2.1"/>
<clipPath id="cI7"><rect x="157.4" y="1903.3" width="600.8" height="49.2"/></clipPath>
<g clip-path="url(#cI7)">
<rect x="157.4" y="1903.3" width="600.8" height="49.2" fill="#d5d5d5"/>
<g filter="url(#bl6)" fill="#000">
<rect x="175" y="1922.8" width="42" height="17" rx="8.5" opacity="0.03"/>
<rect x="231.5" y="1922.8" width="42" height="17" rx="8.5" opacity="0.03"/>
<rect x="287.5" y="1922.8" width="44" height="17" rx="8.5" opacity="0.04"/>
<rect x="347" y="1922.8" width="42" height="17" rx="8.5" opacity="0.04"/>
<rect x="404" y="1922.8" width="42" height="17" rx="8.5" opacity="0.03"/>
<rect x="461.5" y="1922.8" width="42" height="17" rx="8.5" opacity="0.02"/>
<rect x="519" y="1922.8" width="44" height="17" rx="8.5" opacity="0.08"/>
<rect x="580.5" y="1922.8" width="44" height="17" rx="8.5" opacity="0.07"/>
<rect x="638" y="1922.8" width="44" height="17" rx="8.5" opacity="0.09"/>
<rect x="698" y="1922.8" width="44" height="17" rx="8.5" opacity="0.09"/>
</g>
<g filter="url(#bl3_0)" fill="#000">
<rect x="178" y="1927.8" width="36" height="7" rx="10.8" ry="3.5" opacity="0.24"/>
<rect x="179" y="1915.3" width="34" height="7" rx="3.5" opacity="0.17"/>
<rect x="234.5" y="1927.8" width="36" height="7" rx="10.8" ry="3.5" opacity="0.24"/>
<rect x="235.5" y="1915.3" width="34" height="7" rx="3.5" opacity="0.19"/>
<rect x="290.5" y="1927.8" width="38" height="7" rx="11.4" ry="3.5" opacity="0.26"/>
<rect x="291.5" y="1915.3" width="36" height="7" rx="3.5" opacity="0.19"/>
<rect x="350" y="1927.8" width="36" height="7" rx="10.8" ry="3.5" opacity="0.26"/>
<rect x="351" y="1915.3" width="34" height="7" rx="3.5" opacity="0.19"/>
<rect x="407" y="1927.8" width="36" height="7" rx="10.8" ry="3.5" opacity="0.24"/>
<rect x="408" y="1915.3" width="34" height="7" rx="3.5" opacity="0.16"/>
<rect x="464.5" y="1927.8" width="36" height="7" rx="10.8" ry="3.5" opacity="0.14"/>
<rect x="465.5" y="1915.3" width="34" height="7" rx="3.5" opacity="0.09"/>
<rect x="522" y="1927.8" width="38" height="7" rx="11.4" ry="3.5" opacity="0.55"/>
<rect x="523" y="1915.3" width="36" height="7" rx="3.5" opacity="0.22"/>
<rect x="583.5" y="1927.8" width="38" height="7" rx="11.4" ry="3.5" opacity="0.5"/>
<rect x="584.5" y="1915.3" width="36" height="7" rx="3.5" opacity="0.2"/>
<rect x="641" y="1927.8" width="38" height="7" rx="11.4" ry="3.5" opacity="0.66"/>
<rect x="642" y="1915.3" width="36" height="7" rx="3.5" opacity="0.25"/>
<rect x="701" y="1927.8" width="38" height="7" rx="11.4" ry="3.5" opacity="0.64"/>
<rect x="702" y="1915.3" width="36" height="7" rx="3.5" opacity="0.18"/>
</g>
</g>
<rect x="157.4" y="1903.3" width="600.8" height="49.2" fill="none" stroke="#0c0c0c" stroke-width="2.1"/>
<clipPath id="cI8"><rect x="157.4" y="1958.3" width="600.8" height="53"/></clipPath>
<g clip-path="url(#cI8)">
<rect x="157.4" y="1958.3" width="600.8" height="53" fill="#d3d3d3"/>
<g filter="url(#bl6)" fill="#000">
<rect x="172" y="1970.75" width="48" height="19.5" rx="9.75" opacity="0.3"/>
<rect x="228.5" y="1971.75" width="48" height="19.5" rx="9.75" opacity="0.3"/>
<rect x="285" y="1972.75" width="49" height="19.5" rx="9.75" opacity="0.3"/>
<rect x="344" y="1972.75" width="48" height="19.5" rx="9.75" opacity="0.3"/>
<rect x="401" y="1971.75" width="48" height="19.5" rx="9.75" opacity="0.3"/>
<rect x="458.5" y="1972.75" width="48" height="19.5" rx="9.75" opacity="0.3"/>
<rect x="516.5" y="1972.25" width="49" height="19.5" rx="9.75" opacity="0.3"/>
<rect x="578" y="1972.75" width="49" height="19.5" rx="9.75" opacity="0.3"/>
<rect x="636" y="1972.75" width="48" height="19.5" rx="9.75" opacity="0.3"/>
<rect x="695.5" y="1972.25" width="49" height="19.5" rx="9.75" opacity="0.3"/>
</g>
<g filter="url(#bl1_6)" fill="#000">
<rect x="175" y="1975.75" width="42" height="9.5" rx="12.6" ry="4.75" opacity="1"/>
<rect x="231.5" y="1976.75" width="42" height="9.5" rx="12.6" ry="4.75" opacity="1"/>
<rect x="288" y="1977.75" width="43" height="9.5" rx="12.9" ry="4.75" opacity="1"/>
<rect x="347" y="1977.75" width="42" height="9.5" rx="12.6" ry="4.75" opacity="1"/>
<rect x="404" y="1976.75" width="42" height="9.5" rx="12.6" ry="4.75" opacity="1"/>
<rect x="461.5" y="1977.75" width="42" height="9.5" rx="12.6" ry="4.75" opacity="1"/>
<rect x="519.5" y="1977.25" width="43" height="9.5" rx="12.9" ry="4.75" opacity="1"/>
<rect x="581" y="1977.75" width="43" height="9.5" rx="12.9" ry="4.75" opacity="1"/>
<rect x="639" y="1977.75" width="42" height="9.5" rx="12.6" ry="4.75" opacity="1"/>
<rect x="698.5" y="1977.25" width="43" height="9.5" rx="12.9" ry="4.75" opacity="1"/>
</g>
</g>
<rect x="157.4" y="1958.3" width="600.8" height="53" fill="none" stroke="#0c0c0c" stroke-width="2.1"/>
<text x="144.6" y="1548.4" font-size="29.6" text-anchor="end">ASB10</text>
<text x="770.4" y="1548.4" font-size="29.6">55</text>
<text x="144.6" y="1600.4" font-size="29.6" text-anchor="end">MYH6</text>
<text x="770.4" y="1600.4" font-size="29.6">224</text>
<text x="144.6" y="1651.6" font-size="29.6" text-anchor="end">MYH7</text>
<text x="770.4" y="1651.6" font-size="29.6">220</text>
<text x="144.6" y="1707.6" font-size="29.6" text-anchor="end">ANP</text>
<text x="770.4" y="1707.6" font-size="29.6">17</text>
<text x="144.6" y="1765.6" font-size="29.6" text-anchor="end">BNP</text>
<text x="770.4" y="1765.6" font-size="29.6">17</text>
<text x="144.6" y="1819.6" font-size="29.6" text-anchor="end">COL1a1</text>
<text x="770.4" y="1819.6" font-size="29.6">130</text>
<text x="144.6" y="1877.3" font-size="29.6" text-anchor="end">αSMA</text>
<text x="770.4" y="1877.3" font-size="29.6">43</text>
<text x="144.6" y="1934.6" font-size="29.6" text-anchor="end">CTGF</text>
<text x="770.4" y="1934.6" font-size="29.6">38</text>
<text x="144.6" y="1991.6" font-size="29.6" text-anchor="end">GAPDH</text>
<text x="770.4" y="1991.6" font-size="29.6">37</text>
<text x="436.96" y="1445.4" font-size="31.79">TAC surgery</text>
<line x1="287" y1="1456.7" x2="749.5" y2="1456.7" stroke="#1c1414" stroke-width="1.9"/>
<text x="180.26" y="1496.1" font-size="32.1">Sham</text>
<text x="319.14" y="1496.1" font-size="31.45">1d</text>
<text x="437.38" y="1496.1" font-size="32.08">3d</text>
<text x="558.62" y="1496.1" font-size="31.56">7d</text>
<text x="670.39" y="1496.1" font-size="32.3">21d</text>
<text x="775.06" y="1496.1" font-size="29.87">kDa</text>
<line x1="166.8" y1="1506.7" x2="274.3" y2="1506.7" stroke="#1c1414" stroke-width="1.9"/>
<line x1="286.5" y1="1506.7" x2="393.5" y2="1506.7" stroke="#1c1414" stroke-width="1.9"/>
<line x1="403.8" y1="1506.7" x2="511.8" y2="1506.7" stroke="#1c1414" stroke-width="1.9"/>
<line x1="524.3" y1="1506.7" x2="632.5" y2="1506.7" stroke="#1c1414" stroke-width="1.9"/>
<line x1="641.3" y1="1506.7" x2="749.5" y2="1506.7" stroke="#1c1414" stroke-width="1.9"/>
<defs>
<filter id="tx" x="-8%" y="-8%" width="116%" height="116%" color-interpolation-filters="sRGB"><feTurbulence type="fractalNoise" baseFrequency=".09" numOctaves="2" seed="11" result="d"/><feDisplacementMap in="SourceGraphic" in2="d" scale="13" xChannelSelector="R" yChannelSelector="G" result="s"/><feTurbulence type="fractalNoise" baseFrequency=".27" numOctaves="2" seed="4" result="n"/><feColorMatrix in="n" type="matrix" values="0 0 0 0 0 0 0 0 0 0 0 0 0 0 0 4.2 0 0 0 -1.5" result="a"/><feGaussianBlur in="s" stdDeviation="1.3" result="b"/><feComposite in="b" in2="a" operator="in" result="t"/><feGaussianBlur in="s" stdDeviation="2.4" result="b2"/><feComponentTransfer in="b2" result="b3"><feFuncA type="linear" slope=".38"/></feComponentTransfer><feMerge><feMergeNode in="b3"/><feMergeNode in="t"/></feMerge></filter>
<filter id="tg" x="-5%" y="-5%" width="110%" height="110%" color-interpolation-filters="sRGB"><feTurbulence type="fractalNoise" baseFrequency=".4" numOctaves="2" seed="9" result="n"/><feColorMatrix in="n" type="matrix" values="0 0 0 0 0 0 0 0 0 0 0 0 0 0 0 3 0 0 0 -.85" result="a"/><feGaussianBlur in="SourceGraphic" stdDeviation="3" result="b"/><feComposite in="b" in2="a" operator="in"/></filter>
<filter id="rg" x="-8%" y="-8%" width="116%" height="116%" color-interpolation-filters="sRGB"><feTurbulence type="fractalNoise" baseFrequency=".09" numOctaves="2" seed="11" result="d"/><feDisplacementMap in="SourceGraphic" in2="d" scale="13" xChannelSelector="R" yChannelSelector="G" result="s"/><feGaussianBlur in="s" stdDeviation="4"/></filter>
<filter id="nz" x="0" y="0" width="100%" height="100%" color-interpolation-filters="sRGB"><feTurbulence type="fractalNoise" baseFrequency=".55" numOctaves="2" seed="2"/><feColorMatrix type="matrix" values="0 0 0 0 .16  0 0 0 0 .05  0 0 0 0 .03  1.6 0 0 0 -.62"/></filter>
<radialGradient id="gg"><stop offset="0" stop-color="#8cf028" stop-opacity=".9"/><stop offset=".45" stop-color="#7fe020" stop-opacity=".62"/><stop offset="1" stop-color="#70d020" stop-opacity="0"/></radialGradient>
<radialGradient id="g2"><stop offset="0" stop-color="#5cf040" stop-opacity=".95"/><stop offset=".3" stop-color="#3ed030" stop-opacity=".8"/><stop offset="1" stop-color="#2aa020" stop-opacity="0"/></radialGradient>
<radialGradient id="gy"><stop offset="0" stop-color="#ffe020" stop-opacity=".6"/><stop offset="1" stop-color="#ffd020" stop-opacity="0"/></radialGradient>
<radialGradient id="gn"><stop offset="0" stop-color="#5a52f0"/><stop offset=".75" stop-color="#4a46ea"/><stop offset="1" stop-color="#6a50d8"/></radialGradient>
</defs>
<rect x="1351.8" y="971.4" width="261.8" height="29.4" fill="#000"/>
<text x="1355.03" y="993.6" font-size="22.6" font-weight="bold" fill="#2a26f4">DAPI</text>
<text x="1426.73" y="993.6" font-size="22.14" font-weight="bold" fill="#ff2a1a">α-actinin</text>
<text x="1540.26" y="993.6" font-size="22.07" font-weight="bold" fill="#3df21e">Asb10</text>
<svg x="1352" y="1007.6" width="195.6" height="195.6" viewBox="0 0 195.6 195.6" overflow="hidden">
<rect x="0" y="0" width="195.6" height="195.6" fill="#0a0403"/>
<rect x="0" y="0" width="195.6" height="195.6" fill="#000" filter="url(#nz)" opacity=".6"/>
<path d="M42 42 Q58 30 78 20" stroke="#5a4a18" stroke-width="5" fill="none" opacity=".45" filter="url(#tg)"/>
<circle cx="127" cy="68.4" r="1.3" fill="#30e030"/><circle cx="97.5" cy="69" r="1.5" fill="#70f030"/><circle cx="112" cy="34" r="1.1" fill="#40d030"/>
<clipPath id="cc1m"><path d="M111.3 31.3C113.1 31.3 115.1 45.6 115.7 51.2C116.4 56.7 114.5 61.9 115.3 65.9C116.1 69.9 117.9 73.8 120.9 76.2C123.9 78.5 127.3 80.1 134.1 80.6C140.9 81.1 161.2 77.2 163.5 79.1C165.9 81.0 152.5 88.4 148.8 92.4C145.2 96.4 143.0 99.4 140.7 104.1C138.5 108.8 136.5 116.1 134.9 121.8C133.2 127.4 132.0 133.3 130.4 139.4C128.9 145.5 126.9 157.9 125.3 160.0C123.6 162.1 122.5 155.9 120.1 152.6C117.8 149.4 113.5 143.4 110.6 139.4C107.6 135.4 105.3 130.2 101.8 127.6C98.2 125.1 92.5 124.2 88.5 123.2C84.5 122.3 80.3 119.4 76.8 121.8C73.2 124.1 68.6 136.8 66.5 137.9C64.4 139.1 65.2 131.1 63.5 129.1C61.9 127.1 55.2 128.5 56.2 125.4C57.1 122.4 66.0 114.8 69.4 110.0C72.8 105.2 76.4 100.0 77.5 95.3C78.6 90.6 76.5 85.3 76.5 80.6C76.4 75.9 76.3 71.3 77.1 65.9C77.8 60.5 79.6 48.1 81.2 46.8C82.8 45.5 84.7 55.4 87.1 57.8C89.4 60.1 93.1 62.5 95.9 61.5C98.7 60.4 102.2 56.0 104.7 51.2C107.2 46.4 109.6 31.3 111.3 31.3Z"/></clipPath>
<path d="M111.3 31.3C113.1 31.3 115.1 45.6 115.7 51.2C116.4 56.7 114.5 61.9 115.3 65.9C116.1 69.9 117.9 73.8 120.9 76.2C123.9 78.5 127.3 80.1 134.1 80.6C140.9 81.1 161.2 77.2 163.5 79.1C165.9 81.0 152.5 88.4 148.8 92.4C145.2 96.4 143.0 99.4 140.7 104.1C138.5 108.8 136.5 116.1 134.9 121.8C133.2 127.4 132.0 133.3 130.4 139.4C128.9 145.5 126.9 157.9 125.3 160.0C123.6 162.1 122.5 155.9 120.1 152.6C117.8 149.4 113.5 143.4 110.6 139.4C107.6 135.4 105.3 130.2 101.8 127.6C98.2 125.1 92.5 124.2 88.5 123.2C84.5 122.3 80.3 119.4 76.8 121.8C73.2 124.1 68.6 136.8 66.5 137.9C64.4 139.1 65.2 131.1 63.5 129.1C61.9 127.1 55.2 128.5 56.2 125.4C57.1 122.4 66.0 114.8 69.4 110.0C72.8 105.2 76.4 100.0 77.5 95.3C78.6 90.6 76.5 85.3 76.5 80.6C76.4 75.9 76.3 71.3 77.1 65.9C77.8 60.5 79.6 48.1 81.2 46.8C82.8 45.5 84.7 55.4 87.1 57.8C89.4 60.1 93.1 62.5 95.9 61.5C98.7 60.4 102.2 56.0 104.7 51.2C107.2 46.4 109.6 31.3 111.3 31.3Z" fill="#f2441a" filter="url(#tx)"/>
<g clip-path="url(#cc1m)">
<circle cx="104.7" cy="108.5" r="42.5" fill="url(#gg)" filter="url(#tg)"/>
<circle cx="104.7" cy="108.5" r="27.200000000000003" fill="url(#gg)" opacity=".5"/>
<circle cx="95.9" cy="117.4" r="23.799999999999997" fill="url(#gy)"/>
</g>
<ellipse cx="112.4" cy="103.8" rx="10.8" ry="11.5" transform="rotate(0 112.4 103.8)" fill="url(#gn)" filter="url(#bl1_2)"/>
<g fill="#e070d8" opacity=".75" filter="url(#bl1_2)">
<circle cx="116.9" cy="109.3" r="1.3"/>
<circle cx="112.5" cy="101.6" r="1.3"/>
<circle cx="108.7" cy="103.9" r="1.3"/>
<circle cx="108.6" cy="98.3" r="1.3"/>
<circle cx="112.5" cy="104.0" r="1.3"/>
<circle cx="114.1" cy="100.6" r="1.3"/>
<circle cx="112.4" cy="103.8" r="1.3"/>
<circle cx="106.9" cy="105.9" r="1.3"/>
<circle cx="113.4" cy="111.9" r="1.3"/>
</g>
<rect x="167.2" y="189.2" width="21.7" height="2.4" fill="#fff"/>
</svg>
<svg x="1552.6" y="1007.6" width="61.8" height="61.8" viewBox="0 0 195.6 195.6" overflow="hidden">
<rect x="0" y="0" width="195.6" height="195.6" fill="#020204"/>
<clipPath id="cc1b"><path d="M111.3 31.3C113.1 31.3 115.1 45.6 115.7 51.2C116.4 56.7 114.5 61.9 115.3 65.9C116.1 69.9 117.9 73.8 120.9 76.2C123.9 78.5 127.3 80.1 134.1 80.6C140.9 81.1 161.2 77.2 163.5 79.1C165.9 81.0 152.5 88.4 148.8 92.4C145.2 96.4 143.0 99.4 140.7 104.1C138.5 108.8 136.5 116.1 134.9 121.8C133.2 127.4 132.0 133.3 130.4 139.4C128.9 145.5 126.9 157.9 125.3 160.0C123.6 162.1 122.5 155.9 120.1 152.6C117.8 149.4 113.5 143.4 110.6 139.4C107.6 135.4 105.3 130.2 101.8 127.6C98.2 125.1 92.5 124.2 88.5 123.2C84.5 122.3 80.3 119.4 76.8 121.8C73.2 124.1 68.6 136.8 66.5 137.9C64.4 139.1 65.2 131.1 63.5 129.1C61.9 127.1 55.2 128.5 56.2 125.4C57.1 122.4 66.0 114.8 69.4 110.0C72.8 105.2 76.4 100.0 77.5 95.3C78.6 90.6 76.5 85.3 76.5 80.6C76.4 75.9 76.3 71.3 77.1 65.9C77.8 60.5 79.6 48.1 81.2 46.8C82.8 45.5 84.7 55.4 87.1 57.8C89.4 60.1 93.1 62.5 95.9 61.5C98.7 60.4 102.2 56.0 104.7 51.2C107.2 46.4 109.6 31.3 111.3 31.3Z"/></clipPath>
<ellipse cx="112.4" cy="103.8" rx="11.340000000000002" ry="12.075000000000001" transform="rotate(0 112.4 103.8)" fill="#2a22f4" filter="url(#bl1_2)"/>
<rect x="168" y="187" width="18" height="4.5" fill="#e8e8e8"/>
</svg>
<svg x="1552.6" y="1074.9" width="61.8" height="61.8" viewBox="0 0 195.6 195.6" overflow="hidden">
<rect x="0" y="0" width="195.6" height="195.6" fill="#050d05"/>
<clipPath id="cc1g"><path d="M111.3 31.3C113.1 31.3 115.1 45.6 115.7 51.2C116.4 56.7 114.5 61.9 115.3 65.9C116.1 69.9 117.9 73.8 120.9 76.2C123.9 78.5 127.3 80.1 134.1 80.6C140.9 81.1 161.2 77.2 163.5 79.1C165.9 81.0 152.5 88.4 148.8 92.4C145.2 96.4 143.0 99.4 140.7 104.1C138.5 108.8 136.5 116.1 134.9 121.8C133.2 127.4 132.0 133.3 130.4 139.4C128.9 145.5 126.9 157.9 125.3 160.0C123.6 162.1 122.5 155.9 120.1 152.6C117.8 149.4 113.5 143.4 110.6 139.4C107.6 135.4 105.3 130.2 101.8 127.6C98.2 125.1 92.5 124.2 88.5 123.2C84.5 122.3 80.3 119.4 76.8 121.8C73.2 124.1 68.6 136.8 66.5 137.9C64.4 139.1 65.2 131.1 63.5 129.1C61.9 127.1 55.2 128.5 56.2 125.4C57.1 122.4 66.0 114.8 69.4 110.0C72.8 105.2 76.4 100.0 77.5 95.3C78.6 90.6 76.5 85.3 76.5 80.6C76.4 75.9 76.3 71.3 77.1 65.9C77.8 60.5 79.6 48.1 81.2 46.8C82.8 45.5 84.7 55.4 87.1 57.8C89.4 60.1 93.1 62.5 95.9 61.5C98.7 60.4 102.2 56.0 104.7 51.2C107.2 46.4 109.6 31.3 111.3 31.3Z"/></clipPath>
<path d="M111.3 31.3C113.1 31.3 115.1 45.6 115.7 51.2C116.4 56.7 114.5 61.9 115.3 65.9C116.1 69.9 117.9 73.8 120.9 76.2C123.9 78.5 127.3 80.1 134.1 80.6C140.9 81.1 161.2 77.2 163.5 79.1C165.9 81.0 152.5 88.4 148.8 92.4C145.2 96.4 143.0 99.4 140.7 104.1C138.5 108.8 136.5 116.1 134.9 121.8C133.2 127.4 132.0 133.3 130.4 139.4C128.9 145.5 126.9 157.9 125.3 160.0C123.6 162.1 122.5 155.9 120.1 152.6C117.8 149.4 113.5 143.4 110.6 139.4C107.6 135.4 105.3 130.2 101.8 127.6C98.2 125.1 92.5 124.2 88.5 123.2C84.5 122.3 80.3 119.4 76.8 121.8C73.2 124.1 68.6 136.8 66.5 137.9C64.4 139.1 65.2 131.1 63.5 129.1C61.9 127.1 55.2 128.5 56.2 125.4C57.1 122.4 66.0 114.8 69.4 110.0C72.8 105.2 76.4 100.0 77.5 95.3C78.6 90.6 76.5 85.3 76.5 80.6C76.4 75.9 76.3 71.3 77.1 65.9C77.8 60.5 79.6 48.1 81.2 46.8C82.8 45.5 84.7 55.4 87.1 57.8C89.4 60.1 93.1 62.5 95.9 61.5C98.7 60.4 102.2 56.0 104.7 51.2C107.2 46.4 109.6 31.3 111.3 31.3Z" fill="#1f7a1c" opacity=".75" filter="url(#rg)"/>
<g clip-path="url(#cc1g)">
<circle cx="108.7" cy="106.5" r="39.099999999999994" fill="url(#g2)"/>
</g>
<rect x="168" y="187" width="18" height="4.5" fill="#e8e8e8"/>
</svg>
<svg x="1552.6" y="1141.9" width="61.8" height="61.8" viewBox="0 0 195.6 195.6" overflow="hidden">
<rect x="0" y="0" width="195.6" height="195.6" fill="#120404"/>
<clipPath id="cc1r"><path d="M111.3 31.3C113.1 31.3 115.1 45.6 115.7 51.2C116.4 56.7 114.5 61.9 115.3 65.9C116.1 69.9 117.9 73.8 120.9 76.2C123.9 78.5 127.3 80.1 134.1 80.6C140.9 81.1 161.2 77.2 163.5 79.1C165.9 81.0 152.5 88.4 148.8 92.4C145.2 96.4 143.0 99.4 140.7 104.1C138.5 108.8 136.5 116.1 134.9 121.8C133.2 127.4 132.0 133.3 130.4 139.4C128.9 145.5 126.9 157.9 125.3 160.0C123.6 162.1 122.5 155.9 120.1 152.6C117.8 149.4 113.5 143.4 110.6 139.4C107.6 135.4 105.3 130.2 101.8 127.6C98.2 125.1 92.5 124.2 88.5 123.2C84.5 122.3 80.3 119.4 76.8 121.8C73.2 124.1 68.6 136.8 66.5 137.9C64.4 139.1 65.2 131.1 63.5 129.1C61.9 127.1 55.2 128.5 56.2 125.4C57.1 122.4 66.0 114.8 69.4 110.0C72.8 105.2 76.4 100.0 77.5 95.3C78.6 90.6 76.5 85.3 76.5 80.6C76.4 75.9 76.3 71.3 77.1 65.9C77.8 60.5 79.6 48.1 81.2 46.8C82.8 45.5 84.7 55.4 87.1 57.8C89.4 60.1 93.1 62.5 95.9 61.5C98.7 60.4 102.2 56.0 104.7 51.2C107.2 46.4 109.6 31.3 111.3 31.3Z"/></clipPath>
<path d="M111.3 31.3C113.1 31.3 115.1 45.6 115.7 51.2C116.4 56.7 114.5 61.9 115.3 65.9C116.1 69.9 117.9 73.8 120.9 76.2C123.9 78.5 127.3 80.1 134.1 80.6C140.9 81.1 161.2 77.2 163.5 79.1C165.9 81.0 152.5 88.4 148.8 92.4C145.2 96.4 143.0 99.4 140.7 104.1C138.5 108.8 136.5 116.1 134.9 121.8C133.2 127.4 132.0 133.3 130.4 139.4C128.9 145.5 126.9 157.9 125.3 160.0C123.6 162.1 122.5 155.9 120.1 152.6C117.8 149.4 113.5 143.4 110.6 139.4C107.6 135.4 105.3 130.2 101.8 127.6C98.2 125.1 92.5 124.2 88.5 123.2C84.5 122.3 80.3 119.4 76.8 121.8C73.2 124.1 68.6 136.8 66.5 137.9C64.4 139.1 65.2 131.1 63.5 129.1C61.9 127.1 55.2 128.5 56.2 125.4C57.1 122.4 66.0 114.8 69.4 110.0C72.8 105.2 76.4 100.0 77.5 95.3C78.6 90.6 76.5 85.3 76.5 80.6C76.4 75.9 76.3 71.3 77.1 65.9C77.8 60.5 79.6 48.1 81.2 46.8C82.8 45.5 84.7 55.4 87.1 57.8C89.4 60.1 93.1 62.5 95.9 61.5C98.7 60.4 102.2 56.0 104.7 51.2C107.2 46.4 109.6 31.3 111.3 31.3Z" fill="#e0301c" filter="url(#tx)" opacity=".9"/>
<rect x="168" y="187" width="18" height="4.5" fill="#e8e8e8"/>
</svg>
<svg x="1352" y="1209.4" width="195.6" height="195.6" viewBox="0 0 195.6 195.6" overflow="hidden">
<rect x="0" y="0" width="195.6" height="195.6" fill="#100504"/>
<rect x="0" y="0" width="195.6" height="195.6" fill="#000" filter="url(#nz)" opacity=".6"/>
<circle cx="62" cy="61.5" r="1.4" fill="#30e030"/><circle cx="156.5" cy="135.3" r="1" fill="#30c030"/>
<clipPath id="cc2m"><path d="M109.1 26.5C112.6 25.1 117.4 29.7 120.9 30.1C124.4 30.6 129.1 25.9 131.2 29.4C133.3 32.9 133.1 44.3 134.1 52.2C135.2 60.1 135.4 71.6 137.8 78.7C140.1 85.7 144.1 91.1 148.8 96.3C153.5 101.5 166.3 106.8 167.2 111.0C168.1 115.3 159.1 119.5 154.7 122.8C150.4 126.1 145.2 129.3 140.0 131.6C134.8 134.0 128.0 136.8 122.4 137.5C116.7 138.2 109.2 134.9 104.7 136.0C100.2 137.2 97.2 145.6 94.4 144.9C91.6 144.1 90.1 135.6 87.1 131.6C84.0 127.6 78.1 124.6 75.3 119.9C72.5 115.1 70.8 107.4 69.4 102.2C68.0 97.0 66.2 94.1 66.5 87.5C66.7 80.9 68.5 65.5 70.9 61.0C73.2 56.6 78.4 61.9 81.2 59.6C84.0 57.2 85.7 49.6 88.5 46.3C91.4 43.0 95.5 42.1 98.8 39.0C102.1 35.8 105.6 27.9 109.1 26.5Z"/></clipPath>
<path d="M109.1 26.5C112.6 25.1 117.4 29.7 120.9 30.1C124.4 30.6 129.1 25.9 131.2 29.4C133.3 32.9 133.1 44.3 134.1 52.2C135.2 60.1 135.4 71.6 137.8 78.7C140.1 85.7 144.1 91.1 148.8 96.3C153.5 101.5 166.3 106.8 167.2 111.0C168.1 115.3 159.1 119.5 154.7 122.8C150.4 126.1 145.2 129.3 140.0 131.6C134.8 134.0 128.0 136.8 122.4 137.5C116.7 138.2 109.2 134.9 104.7 136.0C100.2 137.2 97.2 145.6 94.4 144.9C91.6 144.1 90.1 135.6 87.1 131.6C84.0 127.6 78.1 124.6 75.3 119.9C72.5 115.1 70.8 107.4 69.4 102.2C68.0 97.0 66.2 94.1 66.5 87.5C66.7 80.9 68.5 65.5 70.9 61.0C73.2 56.6 78.4 61.9 81.2 59.6C84.0 57.2 85.7 49.6 88.5 46.3C91.4 43.0 95.5 42.1 98.8 39.0C102.1 35.8 105.6 27.9 109.1 26.5Z" fill="#f2441a" filter="url(#tx)"/>
<path d="M101.8 180.1C115.9 178.5 117.3 177.9 125.3 175.7C133.3 173.6 146.2 170.7 151.8 166.9C157.3 163.1 158.0 152.4 159.9 152.2C161.7 152.0 158.0 160.5 163.5 165.4C169.1 170.4 189.3 178.3 194.4 183.1C199.5 187.8 220.8 193.2 195.6 195.1C170.4 197.1 62.4 196.6 37.1 195.1C11.7 193.7 26.7 188.4 37.1 186.0C47.4 183.6 87.6 181.8 101.8 180.1Z" fill="#3f7a1c" opacity=".3" filter="url(#tg)"/>
<path d="M101.8 180.1C115.9 178.5 117.3 177.9 125.3 175.7C133.3 173.6 146.2 170.7 151.8 166.9C157.3 163.1 158.0 152.4 159.9 152.2C161.7 152.0 158.0 160.5 163.5 165.4C169.1 170.4 189.3 178.3 194.4 183.1C199.5 187.8 220.8 193.2 195.6 195.1C170.4 197.1 62.4 196.6 37.1 195.1C11.7 193.7 26.7 188.4 37.1 186.0C47.4 183.6 87.6 181.8 101.8 180.1Z" fill="#c03018" opacity=".12" filter="url(#tx)"/>
<g clip-path="url(#cc2m)">
<circle cx="109.1" cy="87.5" r="45.0" fill="url(#gg)" filter="url(#tg)"/>
<circle cx="109.1" cy="87.5" r="28.8" fill="url(#gg)" opacity=".5"/>
<circle cx="110.6" cy="102.2" r="25.2" fill="url(#gy)"/>
</g>
<ellipse cx="114.4" cy="80.1" rx="14.8" ry="9.3" transform="rotate(53 114.4 80.1)" fill="url(#gn)" filter="url(#bl1_2)"/>
<g fill="#e070d8" opacity=".75" filter="url(#bl1_2)">
<circle cx="122.0" cy="87.1" r="1.3"/>
<circle cx="114.8" cy="81.0" r="1.3"/>
<circle cx="120.4" cy="80.8" r="1.3"/>
<circle cx="114.9" cy="77.7" r="1.3"/>
<circle cx="113.3" cy="74.3" r="1.3"/>
<circle cx="113.9" cy="78.6" r="1.3"/>
<circle cx="111.1" cy="77.7" r="1.3"/>
<circle cx="118.7" cy="74.5" r="1.3"/>
<circle cx="118.8" cy="84.0" r="1.3"/>
</g>
<rect x="167.2" y="189.2" width="21.7" height="2.4" fill="#fff"/>
</svg>
<svg x="1552.6" y="1209.4" width="61.8" height="61.8" viewBox="0 0 195.6 195.6" overflow="hidden">
<rect x="0" y="0" width="195.6" height="195.6" fill="#020204"/>
<clipPath id="cc2b"><path d="M109.1 26.5C112.6 25.1 117.4 29.7 120.9 30.1C124.4 30.6 129.1 25.9 131.2 29.4C133.3 32.9 133.1 44.3 134.1 52.2C135.2 60.1 135.4 71.6 137.8 78.7C140.1 85.7 144.1 91.1 148.8 96.3C153.5 101.5 166.3 106.8 167.2 111.0C168.1 115.3 159.1 119.5 154.7 122.8C150.4 126.1 145.2 129.3 140.0 131.6C134.8 134.0 128.0 136.8 122.4 137.5C116.7 138.2 109.2 134.9 104.7 136.0C100.2 137.2 97.2 145.6 94.4 144.9C91.6 144.1 90.1 135.6 87.1 131.6C84.0 127.6 78.1 124.6 75.3 119.9C72.5 115.1 70.8 107.4 69.4 102.2C68.0 97.0 66.2 94.1 66.5 87.5C66.7 80.9 68.5 65.5 70.9 61.0C73.2 56.6 78.4 61.9 81.2 59.6C84.0 57.2 85.7 49.6 88.5 46.3C91.4 43.0 95.5 42.1 98.8 39.0C102.1 35.8 105.6 27.9 109.1 26.5Z"/></clipPath>
<ellipse cx="114.4" cy="80.1" rx="15.540000000000001" ry="9.765" transform="rotate(53 114.4 80.1)" fill="#2a22f4" filter="url(#bl1_2)"/>
<rect x="168" y="187" width="18" height="4.5" fill="#e8e8e8"/>
</svg>
<svg x="1552.6" y="1276.7" width="61.8" height="61.8" viewBox="0 0 195.6 195.6" overflow="hidden">
<rect x="0" y="0" width="195.6" height="195.6" fill="#050d05"/>
<clipPath id="cc2g"><path d="M109.1 26.5C112.6 25.1 117.4 29.7 120.9 30.1C124.4 30.6 129.1 25.9 131.2 29.4C133.3 32.9 133.1 44.3 134.1 52.2C135.2 60.1 135.4 71.6 137.8 78.7C140.1 85.7 144.1 91.1 148.8 96.3C153.5 101.5 166.3 106.8 167.2 111.0C168.1 115.3 159.1 119.5 154.7 122.8C150.4 126.1 145.2 129.3 140.0 131.6C134.8 134.0 128.0 136.8 122.4 137.5C116.7 138.2 109.2 134.9 104.7 136.0C100.2 137.2 97.2 145.6 94.4 144.9C91.6 144.1 90.1 135.6 87.1 131.6C84.0 127.6 78.1 124.6 75.3 119.9C72.5 115.1 70.8 107.4 69.4 102.2C68.0 97.0 66.2 94.1 66.5 87.5C66.7 80.9 68.5 65.5 70.9 61.0C73.2 56.6 78.4 61.9 81.2 59.6C84.0 57.2 85.7 49.6 88.5 46.3C91.4 43.0 95.5 42.1 98.8 39.0C102.1 35.8 105.6 27.9 109.1 26.5Z"/></clipPath>
<path d="M109.1 26.5C112.6 25.1 117.4 29.7 120.9 30.1C124.4 30.6 129.1 25.9 131.2 29.4C133.3 32.9 133.1 44.3 134.1 52.2C135.2 60.1 135.4 71.6 137.8 78.7C140.1 85.7 144.1 91.1 148.8 96.3C153.5 101.5 166.3 106.8 167.2 111.0C168.1 115.3 159.1 119.5 154.7 122.8C150.4 126.1 145.2 129.3 140.0 131.6C134.8 134.0 128.0 136.8 122.4 137.5C116.7 138.2 109.2 134.9 104.7 136.0C100.2 137.2 97.2 145.6 94.4 144.9C91.6 144.1 90.1 135.6 87.1 131.6C84.0 127.6 78.1 124.6 75.3 119.9C72.5 115.1 70.8 107.4 69.4 102.2C68.0 97.0 66.2 94.1 66.5 87.5C66.7 80.9 68.5 65.5 70.9 61.0C73.2 56.6 78.4 61.9 81.2 59.6C84.0 57.2 85.7 49.6 88.5 46.3C91.4 43.0 95.5 42.1 98.8 39.0C102.1 35.8 105.6 27.9 109.1 26.5Z" fill="#1f7a1c" opacity=".75" filter="url(#rg)"/>
<g clip-path="url(#cc2g)">
<circle cx="113.1" cy="85.5" r="41.4" fill="url(#g2)"/>
</g>
<rect x="168" y="187" width="18" height="4.5" fill="#e8e8e8"/>
</svg>
<svg x="1552.6" y="1343.6" width="61.8" height="61.8" viewBox="0 0 195.6 195.6" overflow="hidden">
<rect x="0" y="0" width="195.6" height="195.6" fill="#120404"/>
<clipPath id="cc2r"><path d="M109.1 26.5C112.6 25.1 117.4 29.7 120.9 30.1C124.4 30.6 129.1 25.9 131.2 29.4C133.3 32.9 133.1 44.3 134.1 52.2C135.2 60.1 135.4 71.6 137.8 78.7C140.1 85.7 144.1 91.1 148.8 96.3C153.5 101.5 166.3 106.8 167.2 111.0C168.1 115.3 159.1 119.5 154.7 122.8C150.4 126.1 145.2 129.3 140.0 131.6C134.8 134.0 128.0 136.8 122.4 137.5C116.7 138.2 109.2 134.9 104.7 136.0C100.2 137.2 97.2 145.6 94.4 144.9C91.6 144.1 90.1 135.6 87.1 131.6C84.0 127.6 78.1 124.6 75.3 119.9C72.5 115.1 70.8 107.4 69.4 102.2C68.0 97.0 66.2 94.1 66.5 87.5C66.7 80.9 68.5 65.5 70.9 61.0C73.2 56.6 78.4 61.9 81.2 59.6C84.0 57.2 85.7 49.6 88.5 46.3C91.4 43.0 95.5 42.1 98.8 39.0C102.1 35.8 105.6 27.9 109.1 26.5Z"/></clipPath>
<path d="M109.1 26.5C112.6 25.1 117.4 29.7 120.9 30.1C124.4 30.6 129.1 25.9 131.2 29.4C133.3 32.9 133.1 44.3 134.1 52.2C135.2 60.1 135.4 71.6 137.8 78.7C140.1 85.7 144.1 91.1 148.8 96.3C153.5 101.5 166.3 106.8 167.2 111.0C168.1 115.3 159.1 119.5 154.7 122.8C150.4 126.1 145.2 129.3 140.0 131.6C134.8 134.0 128.0 136.8 122.4 137.5C116.7 138.2 109.2 134.9 104.7 136.0C100.2 137.2 97.2 145.6 94.4 144.9C91.6 144.1 90.1 135.6 87.1 131.6C84.0 127.6 78.1 124.6 75.3 119.9C72.5 115.1 70.8 107.4 69.4 102.2C68.0 97.0 66.2 94.1 66.5 87.5C66.7 80.9 68.5 65.5 70.9 61.0C73.2 56.6 78.4 61.9 81.2 59.6C84.0 57.2 85.7 49.6 88.5 46.3C91.4 43.0 95.5 42.1 98.8 39.0C102.1 35.8 105.6 27.9 109.1 26.5Z" fill="#e0301c" filter="url(#tx)" opacity=".9"/>
<rect x="168" y="187" width="18" height="4.5" fill="#e8e8e8"/>
</svg>
<text font-size="29.84" transform="translate(1340 1138.8) rotate(-90)">Vehicle</text>
<text font-size="29.46" transform="translate(1340 1329.36) rotate(-90)">PE</text>
<text x="2.3" y="34.7" font-size="44.9" font-weight="bold">A</text>
<text x="586.28" y="34.7" font-size="44.9" font-weight="bold">B</text>
<text x="1129.3" y="34.7" font-size="44.9" font-weight="bold">C</text>
<text x="11.28" y="538.6" font-size="44.9" font-weight="bold">D</text>
<text x="1070.38" y="538.6" font-size="44.9" font-weight="bold">E</text>
<text x="11.28" y="998.6" font-size="44.9" font-weight="bold">F</text>
<text x="917.5" y="998.6" font-size="44.9" font-weight="bold">G</text>
<text x="1253.88" y="998.6" font-size="44.9" font-weight="bold">H</text>
<text x="11.28" y="1463.6" font-size="44.9" font-weight="bold">I</text>
<text x="1356.83" y="1463.6" font-size="44.9" font-weight="bold">J</text>
</svg></body></html>
